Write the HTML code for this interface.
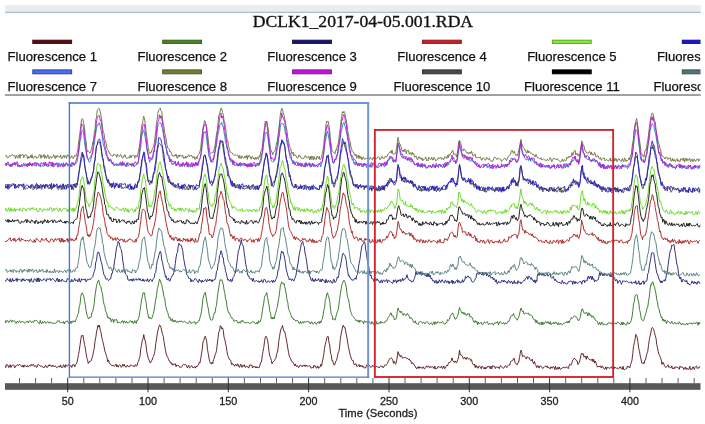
<!DOCTYPE html>
<html>
<head>
<meta charset="utf-8">
<title>DCLK1_2017-04-05.001.RDA</title>
<style>
html,body{margin:0;padding:0;background:#fff;}
body{width:705px;height:424px;overflow:hidden;position:relative;}
svg{position:absolute;left:0;top:0;display:block;}
.ttl{font-family:"Liberation Serif","Times New Roman",serif;font-size:16px;fill:#111;stroke:#111;stroke-width:0.3px;}
.leg text{font-family:"Liberation Sans",Arial,sans-serif;font-size:13.1px;fill:#111;stroke:#111;stroke-width:0.25px;}
.ax text{font-family:"Liberation Sans",Arial,sans-serif;font-size:10.8px;fill:#1c1c1c;stroke:#1c1c1c;stroke-width:0.28px;}
.tr polyline{fill:none;stroke-width:0.9;stroke-linejoin:miter;stroke-linecap:butt;}
</style>
</head>
<body>
<svg width="705" height="424" viewBox="0 0 705 424">
<defs><clipPath id="c"><rect x="5" y="0" width="695.5" height="424"/></clipPath></defs>
<rect x="0" y="0" width="705" height="424" fill="#ffffff"/>
<rect x="5" y="5.1" width="695.7" height="6.8" fill="#ececec"/>
<rect x="5" y="11.8" width="695.7" height="1.1" fill="#9fb4cc"/>
<text class="ttl" transform="translate(362.9,26.5) scale(1.103,1)" text-anchor="middle">DCLK1_2017-04-05.001.RDA</text>
<g class="leg" clip-path="url(#c)">
<rect x="32.8" y="40.2" width="38.8" height="3.2" fill="#5b0c12" stroke="#3a090c" stroke-width="1"/>
<text x="52.3" y="61.2" text-anchor="middle">Fluorescence 1</text>
<rect x="162.7" y="40.2" width="38.8" height="3.2" fill="#4d8420" stroke="#3a5f1c" stroke-width="1"/>
<text x="182.2" y="61.2" text-anchor="middle">Fluorescence 2</text>
<rect x="292.6" y="40.2" width="38.8" height="3.2" fill="#17176e" stroke="#101050" stroke-width="1"/>
<text x="312.1" y="61.2" text-anchor="middle">Fluorescence 3</text>
<rect x="422.5" y="40.2" width="38.8" height="3.2" fill="#cc2027" stroke="#8c1c20" stroke-width="1"/>
<text x="442.0" y="61.2" text-anchor="middle">Fluorescence 4</text>
<rect x="552.4" y="40.2" width="38.8" height="3.2" fill="#82f02a" stroke="#5aa628" stroke-width="1"/>
<text x="571.9" y="61.2" text-anchor="middle">Fluorescence 5</text>
<rect x="682.3" y="40.2" width="38.8" height="3.2" fill="#1c12d8" stroke="#14108c" stroke-width="1"/>
<text x="701.8" y="61.2" text-anchor="middle">Fluorescence 6</text>
<rect x="32.8" y="69.9" width="38.8" height="3.9" fill="#4a6ef2" stroke="#2c4290" stroke-width="1"/>
<text x="52.3" y="91.2" text-anchor="middle">Fluorescence 7</text>
<rect x="162.7" y="69.9" width="38.8" height="3.9" fill="#6f7d36" stroke="#4f5830" stroke-width="1"/>
<text x="182.2" y="91.2" text-anchor="middle">Fluorescence 8</text>
<rect x="292.6" y="69.9" width="38.8" height="3.9" fill="#c512dc" stroke="#80148c" stroke-width="1"/>
<text x="312.1" y="91.2" text-anchor="middle">Fluorescence 9</text>
<rect x="422.5" y="69.9" width="38.8" height="3.9" fill="#4a4a4a" stroke="#303030" stroke-width="1"/>
<text x="442.0" y="91.2" text-anchor="middle">Fluorescence 10</text>
<rect x="552.4" y="69.9" width="38.8" height="3.9" fill="#000000" stroke="#000000" stroke-width="1"/>
<text x="571.9" y="91.2" text-anchor="middle">Fluorescence 11</text>
<rect x="682.3" y="69.9" width="38.8" height="3.9" fill="#4f7574" stroke="#38504f" stroke-width="1"/>
<text x="701.8" y="91.2" text-anchor="middle">Fluorescence 12</text>
</g>
<rect x="5" y="94" width="695.7" height="0.9" fill="#a4a4a4"/><rect x="5" y="94.8" width="695.7" height="0.9" fill="#787878"/>
<g class="tr" clip-path="url(#c)">
<polyline points="5,365.6 5.75,367.6 6.5,364.4 7.25,365.0 8,365.2 8.75,367.7 9.5,367.0 10.25,364.6 11,367.5 11.75,365.7 12.5,365.7 13.25,364.7 14,365.7 14.75,367.9 15.5,365.9 16.25,365.7 17,365.6 17.75,364.4 18.5,365.5 19.25,364.7 20,364.6 20.75,365.3 21.5,365.8 22.25,367.0 23,365.1 23.75,367.3 24.5,365.1 25.25,365.8 26,365.9 26.75,366.9 27.5,365.4 28.25,366.9 29,366.5 29.75,365.4 30.5,366.2 31.25,364.3 32,365.6 32.75,364.4 33.5,364.6 34.25,366.3 35,366.5 35.75,365.5 36.5,367.6 37.25,366.8 38,364.3 38.75,364.6 39.5,365.3 40.25,366.3 41,365.7 41.75,366.4 42.5,366.3 43.25,367.7 44,366.7 44.75,367.3 45.5,365.3 46.25,366.2 47,367.7 47.75,366.8 48.5,364.9 49.25,366.0 50,364.6 50.75,365.5 51.5,366.6 52.25,365.1 53,366.6 53.75,365.5 54.5,366.5 55.25,366.0 56,366.4 56.75,367.8 57.5,367.2 58.25,366.3 59,366.0 59.75,367.3 60.5,364.9 61.25,367.3 62,367.1 62.75,367.5 63.5,364.7 64.25,365.6 65,367.5 65.75,364.7 66.5,365.8 67.25,366.4 68,365.2 68.75,364.7 69.5,365.3 70.25,365.9 71,365.6 71.75,367.4 72.5,364.8 73.25,365.0 74,364.4 74.75,366.7 75.5,364.7 76.25,364.0 77,362.2 77.75,358.6 78.5,354.6 79.25,350.5 80,345.3 80.75,339.8 81.5,335.4 82.25,336.1 83,335.3 83.75,339.9 84.5,344.3 85.25,347.9 86,352.9 86.75,357.6 87.5,359.7 88.25,363.5 89,362.1 89.75,361.1 90.5,361.2 91.25,360.7 92,358.0 92.75,355.6 93.5,351.2 94.25,348.5 95,341.0 95.75,337.8 96.5,332.1 97.25,329.0 98,325.1 98.75,327.1 99.5,325.3 100.25,330.1 101,332.2 101.75,337.2 102.5,340.6 103.25,343.1 104,346.6 104.75,350.9 105.5,352.8 106.25,355.2 107,357.6 107.75,361.7 108.5,359.9 109.25,362.8 110,364.1 110.75,364.5 111.5,365.1 112.25,366.1 113,365.0 113.75,365.5 114.5,366.4 115.25,365.3 116,364.0 116.75,366.8 117.5,365.2 118.25,367.2 119,365.5 119.75,364.7 120.5,365.5 121.25,367.4 122,366.4 122.75,364.4 123.5,366.2 124.25,364.2 125,366.5 125.75,367.0 126.5,367.0 127.25,365.0 128,366.1 128.75,366.7 129.5,366.9 130.25,365.2 131,365.2 131.75,365.2 132.5,365.9 133.25,365.8 134,366.9 134.75,365.7 135.5,364.6 136.25,366.4 137,365.5 137.75,362.4 138.5,361.5 139.25,358.5 140,356.4 140.75,348.6 141.5,345.3 142.25,340.6 143,338.9 143.75,334.6 144.5,338.9 145.25,341.0 146,344.9 146.75,351.8 147.5,354.9 148.25,358.2 149,360.0 149.75,361.9 150.5,363.0 151.25,360.9 152,360.4 152.75,357.7 153.5,356.4 154.25,354.1 155,350.6 155.75,343.6 156.5,339.0 157.25,334.0 158,330.1 158.75,327.3 159.5,325.0 160.25,325.6 161,327.7 161.75,331.0 162.5,334.4 163.25,336.4 164,341.4 164.75,346.4 165.5,350.2 166.25,353.9 167,356.1 167.75,357.3 168.5,359.2 169.25,361.2 170,361.3 170.75,363.2 171.5,362.7 172.25,365.2 173,363.7 173.75,364.8 174.5,364.2 175.25,363.6 176,366.7 176.75,365.0 177.5,365.5 178.25,365.5 179,365.9 179.75,367.4 180.5,367.0 181.25,367.5 182,366.5 182.75,364.9 183.5,364.3 184.25,364.9 185,364.2 185.75,364.8 186.5,365.2 187.25,367.8 188,366.5 188.75,365.3 189.5,368.1 190.25,367.4 191,366.4 191.75,365.5 192.5,367.5 193.25,367.5 194,367.6 194.75,366.4 195.5,368.2 196.25,366.2 197,366.9 197.75,365.3 198.5,365.0 199.25,362.2 200,362.9 200.75,358.5 201.5,353.9 202.25,349.3 203,342.0 203.75,340.5 204.5,337.6 205.25,336.2 206,338.7 206.75,341.8 207.5,349.4 208.25,353.8 209,358.1 209.75,361.6 210.5,363.4 211.25,364.0 212,362.3 212.75,363.7 213.5,359.5 214.25,358.2 215,355.0 215.75,353.3 216.5,350.7 217.25,344.0 218,337.9 218.75,332.1 219.5,331.0 220.25,325.8 221,326.1 221.75,329.0 222.5,327.8 223.25,330.4 224,337.1 224.75,339.4 225.5,343.0 226.25,346.5 227,351.9 227.75,355.5 228.5,357.4 229.25,359.1 230,360.1 230.75,360.4 231.5,364.5 232.25,363.3 233,364.8 233.75,364.6 234.5,366.2 235.25,364.7 236,364.5 236.75,366.1 237.5,363.8 238.25,364.6 239,367.1 239.75,367.2 240.5,364.1 241.25,365.0 242,367.4 242.75,365.4 243.5,366.1 244.25,364.7 245,367.3 245.75,367.2 246.5,366.0 247.25,366.6 248,367.0 248.75,368.1 249.5,365.1 250.25,364.7 251,365.8 251.75,364.9 252.5,368.0 253.25,366.6 254,366.9 254.75,366.2 255.5,368.0 256.25,366.6 257,368.0 257.75,366.9 258.5,367.9 259.25,367.5 260,365.0 260.75,362.3 261.5,362.0 262.25,355.5 263,351.5 263.75,347.5 264.5,341.8 265.25,337.2 266,336.2 266.75,337.8 267.5,339.8 268.25,344.7 269,351.6 269.75,356.0 270.5,357.6 271.25,360.3 272,363.7 272.75,362.0 273.5,361.5 274.25,360.8 275,359.2 275.75,358.5 276.5,355.0 277.25,352.4 278,349.0 278.75,341.5 279.5,336.7 280.25,332.1 281,328.9 281.75,327.5 282.5,325.5 283.25,329.0 284,331.4 284.75,331.5 285.5,335.2 286.25,339.1 287,343.1 287.75,347.9 288.5,352.2 289.25,356.1 290,357.7 290.75,358.9 291.5,361.2 292.25,361.4 293,362.9 293.75,363.6 294.5,365.8 295.25,363.9 296,366.0 296.75,366.4 297.5,365.6 298.25,367.3 299,367.4 299.75,365.3 300.5,365.0 301.25,365.9 302,366.8 302.75,365.3 303.5,365.4 304.25,366.4 305,364.8 305.75,366.5 306.5,365.1 307.25,366.2 308,366.5 308.75,365.7 309.5,366.0 310.25,366.1 311,368.2 311.75,367.8 312.5,367.4 313.25,368.1 314,365.2 314.75,366.4 315.5,366.0 316.25,368.1 317,368.0 317.75,365.9 318.5,368.2 319.25,367.8 320,367.3 320.75,364.4 321.5,366.2 322.25,362.5 323,358.5 323.75,354.6 324.5,348.4 325.25,344.6 326,341.6 326.75,338.0 327.5,336.5 328.25,336.6 329,342.9 329.75,345.0 330.5,353.2 331.25,354.7 332,360.8 332.75,360.5 333.5,364.0 334.25,365.2 335,364.1 335.75,361.3 336.5,360.3 337.25,357.2 338,353.3 338.75,351.7 339.5,347.8 340.25,339.7 341,334.9 341.75,331.0 342.5,327.0 343.25,325.3 344,327.3 344.75,327.1 345.5,330.2 346.25,334.2 347,338.1 347.75,343.1 348.5,347.3 349.25,350.9 350,354.1 350.75,356.9 351.5,359.1 352.25,360.6 353,360.3 353.75,363.4 354.5,364.9 355.25,363.9 356,363.6 356.75,366.4 357.5,366.3 358.25,365.5 359,364.4 359.75,367.0 360.5,365.3 361.25,366.5 362,365.3 362.75,367.2 363.5,366.5 364.25,368.1 365,367.6 365.75,367.9 366.5,365.1 367.25,365.0 368,366.6 368.75,365.4 369.5,365.2 370.25,366.6 371,367.6 371.75,366.6 372.5,365.3 373.25,366.5 374,365.7 374.75,368.5 375.5,367.4 376.25,366.6 377,366.2 377.75,367.2 378.5,367.0 379.25,367.9 380,366.9 380.75,365.8 381.5,366.3 382.25,366.1 383,367.8 383.75,367.2 384.5,365.5 385.25,364.7 386,365.5 386.75,364.3 387.5,363.4 388.25,361.3 389,359.9 389.75,358.6 390.5,358.4 391.25,357.8 392,358.5 392.75,359.9 393.5,363.3 394.25,361.3 395,363.5 395.75,364.2 396.5,361.0 397.25,357.0 398,351.6 398.75,354.5 399.5,354.4 400.25,356.9 401,355.4 401.75,356.4 402.5,358.3 403.25,357.7 404,357.9 404.75,357.4 405.5,357.3 406.25,358.4 407,358.2 407.75,358.5 408.5,359.5 409.25,359.0 410,360.7 410.75,360.6 411.5,363.7 412.25,362.9 413,363.1 413.75,363.9 414.5,365.8 415.25,366.1 416,368.2 416.75,368.7 417.5,367.1 418.25,368.4 419,366.4 419.75,368.1 420.5,367.4 421.25,367.3 422,368.5 422.75,367.1 423.5,366.9 424.25,368.9 425,368.5 425.75,367.6 426.5,365.8 427.25,367.1 428,366.9 428.75,365.8 429.5,367.8 430.25,367.6 431,366.4 431.75,367.4 432.5,366.6 433.25,367.0 434,368.7 434.75,366.0 435.5,369.0 436.25,368.6 437,368.7 437.75,366.7 438.5,366.9 439.25,367.0 440,367.2 440.75,367.5 441.5,366.0 442.25,368.5 443,368.1 443.75,365.9 444.5,368.6 445.25,368.3 446,366.8 446.75,365.1 447.5,366.0 448.25,363.7 449,362.1 449.75,362.7 450.5,361.8 451.25,360.7 452,357.9 452.75,360.5 453.5,361.8 454.25,362.5 455,360.9 455.75,362.2 456.5,363.0 457.25,361.0 458,359.2 458.75,356.1 459.5,350.2 460.25,354.8 461,354.5 461.75,355.9 462.5,356.3 463.25,358.8 464,358.6 464.75,357.2 465.5,359.0 466.25,359.5 467,357.3 467.75,358.5 468.5,359.0 469.25,358.6 470,358.7 470.75,360.6 471.5,359.6 472.25,362.7 473,364.3 473.75,365.2 474.5,364.1 475.25,367.6 476,365.3 476.75,367.3 477.5,366.8 478.25,368.3 479,365.8 479.75,366.5 480.5,367.0 481.25,368.8 482,366.0 482.75,367.2 483.5,367.7 484.25,369.0 485,367.1 485.75,369.1 486.5,367.3 487.25,367.5 488,366.1 488.75,367.0 489.5,366.5 490.25,368.8 491,366.2 491.75,368.8 492.5,365.7 493.25,366.2 494,365.9 494.75,366.9 495.5,368.5 496.25,366.7 497,367.6 497.75,367.1 498.5,367.0 499.25,368.7 500,366.2 500.75,365.7 501.5,367.0 502.25,367.5 503,368.0 503.75,368.3 504.5,366.8 505.25,365.6 506,366.3 506.75,367.7 507.5,366.1 508.25,365.5 509,364.6 509.75,365.2 510.5,361.7 511.25,361.1 512,361.0 512.75,360.3 513.5,358.4 514.25,358.3 515,362.7 515.75,363.1 516.5,364.4 517.25,364.8 518,362.7 518.75,362.2 519.5,357.5 520.25,353.3 521,350.2 521.75,352.4 522.5,356.8 523.25,356.5 524,355.6 524.75,356.7 525.5,357.3 526.25,359.0 527,356.6 527.75,357.3 528.5,357.7 529.25,357.8 530,359.8 530.75,360.7 531.5,360.6 532.25,359.1 533,362.4 533.75,363.8 534.5,361.5 535.25,364.4 536,365.6 536.75,367.6 537.5,365.7 538.25,365.8 539,368.1 539.75,366.2 540.5,366.0 541.25,366.3 542,367.5 542.75,368.6 543.5,367.2 544.25,367.2 545,366.4 545.75,365.8 546.5,367.2 547.25,365.9 548,368.1 548.75,367.2 549.5,368.4 550.25,368.9 551,366.7 551.75,368.0 552.5,368.1 553.25,366.4 554,367.4 554.75,369.4 555.5,366.3 556.25,369.3 557,369.4 557.75,367.3 558.5,369.2 559.25,366.9 560,369.2 560.75,369.3 561.5,368.3 562.25,368.2 563,367.2 563.75,367.5 564.5,367.4 565.25,368.1 566,367.1 566.75,366.7 567.5,367.8 568.25,368.7 569,366.1 569.75,364.2 570.5,364.8 571.25,364.8 572,362.6 572.75,360.1 573.5,359.4 574.25,358.2 575,359.1 575.75,359.4 576.5,360.8 577.25,361.0 578,364.7 578.75,363.4 579.5,362.1 580.25,358.9 581,354.9 581.75,353.1 582.5,354.3 583.25,353.7 584,357.2 584.75,356.1 585.5,356.4 586.25,359.3 587,355.9 587.75,358.0 588.5,358.7 589.25,359.2 590,360.2 590.75,359.8 591.5,360.3 592.25,358.9 593,361.8 593.75,359.4 594.5,363.1 595.25,361.0 596,362.8 596.75,365.6 597.5,367.2 598.25,366.3 599,367.0 599.75,366.0 600.5,365.9 601.25,368.0 602,366.1 602.75,366.5 603.5,368.4 604.25,369.1 605,369.1 605.75,366.9 606.5,369.5 607.25,367.1 608,367.5 608.75,367.9 609.5,368.1 610.25,368.3 611,367.1 611.75,366.8 612.5,369.1 613.25,367.0 614,368.8 614.75,366.9 615.5,367.8 616.25,368.2 617,368.3 617.75,368.2 618.5,368.9 619.25,368.3 620,366.7 620.75,368.2 621.5,367.8 622.25,369.4 623,366.3 623.75,369.6 624.5,369.7 625.25,369.5 626,368.6 626.75,368.5 627.5,365.9 628.25,367.1 629,366.6 629.75,367.9 630.5,364.8 631.25,362.7 632,360.1 632.75,353.5 633.5,346.8 634.25,342.8 635,339.8 635.75,334.4 636.5,335.8 637.25,337.5 638,342.6 638.75,348.5 639.5,351.5 640.25,356.0 641,359.0 641.75,363.1 642.5,363.2 643.25,362.5 644,363.8 644.75,360.4 645.5,360.0 646.25,356.3 647,353.2 647.75,351.3 648.5,345.6 649.25,339.8 650,336.6 650.75,333.1 651.5,328.6 652.25,327.5 653,328.2 653.75,329.8 654.5,332.7 655.25,335.9 656,338.2 656.75,344.6 657.5,347.7 658.25,351.8 659,354.6 659.75,355.7 660.5,357.8 661.25,360.1 662,364.4 662.75,362.1 663.5,362.9 664.25,365.3 665,366.4 665.75,367.6 666.5,366.8 667.25,365.9 668,364.9 668.75,367.3 669.5,367.0 670.25,367.7 671,367.9 671.75,365.9 672.5,368.7 673.25,368.0 674,369.0 674.75,367.1 675.5,367.8 676.25,366.6 677,367.6 677.75,367.2 678.5,368.2 679.25,369.3 680,366.2 680.75,367.3 681.5,367.2 682.25,367.0 683,367.5 683.75,369.6 684.5,368.2 685.25,367.0 686,369.4 686.75,367.9 687.5,369.3 688.25,369.3 689,369.2 689.75,366.2 690.5,369.7 691.25,369.1 692,369.6 692.75,366.8 693.5,367.0 694.25,369.4 695,367.6 695.75,366.6 696.5,365.8 697.25,368.5 698,367.6 698.75,368.2 699.5,366.6 700.25,367.5" stroke="#521519"/>
<polyline points="5,320.2 5.75,323.0 6.5,320.7 7.25,320.6 8,320.9 8.75,322.6 9.5,321.2 10.25,320.1 11,320.3 11.75,322.2 12.5,320.3 13.25,321.1 14,320.8 14.75,321.1 15.5,322.8 16.25,323.5 17,321.3 17.75,321.8 18.5,322.5 19.25,320.8 20,321.4 20.75,322.9 21.5,321.7 22.25,321.4 23,322.1 23.75,321.9 24.5,323.2 25.25,322.5 26,321.9 26.75,321.7 27.5,320.9 28.25,323.0 29,321.5 29.75,320.5 30.5,321.0 31.25,322.7 32,321.9 32.75,321.6 33.5,322.5 34.25,320.4 35,320.8 35.75,320.6 36.5,320.3 37.25,321.2 38,322.3 38.75,323.5 39.5,323.6 40.25,320.3 41,323.3 41.75,323.7 42.5,321.5 43.25,323.1 44,322.4 44.75,321.4 45.5,323.0 46.25,323.3 47,322.1 47.75,321.5 48.5,321.9 49.25,323.4 50,322.0 50.75,322.0 51.5,322.9 52.25,322.8 53,323.8 53.75,322.9 54.5,323.3 55.25,323.4 56,322.9 56.75,322.7 57.5,320.6 58.25,321.4 59,320.6 59.75,321.9 60.5,323.1 61.25,322.3 62,322.8 62.75,322.7 63.5,321.3 64.25,324.0 65,321.8 65.75,321.9 66.5,321.3 67.25,320.8 68,322.3 68.75,323.4 69.5,322.2 70.25,321.1 71,323.6 71.75,321.3 72.5,322.4 73.25,320.7 74,322.0 74.75,321.1 75.5,321.7 76.25,318.6 77,317.2 77.75,314.4 78.5,313.4 79.25,306.5 80,304.3 80.75,296.8 81.5,293.5 82.25,292.8 83,294.6 83.75,295.9 84.5,300.5 85.25,304.5 86,310.1 86.75,314.0 87.5,316.2 88.25,318.7 89,318.7 89.75,316.8 90.5,317.6 91.25,316.9 92,311.7 92.75,311.2 93.5,307.6 94.25,303.2 95,295.4 95.75,290.8 96.5,285.7 97.25,283.3 98,280.8 98.75,280.1 99.5,284.0 100.25,286.0 101,286.9 101.75,291.7 102.5,293.8 103.25,300.5 104,304.3 104.75,305.8 105.5,310.7 106.25,312.3 107,314.9 107.75,317.9 108.5,317.1 109.25,319.0 110,317.8 110.75,320.2 111.5,321.9 112.25,319.0 113,319.4 113.75,322.5 114.5,319.6 115.25,320.1 116,319.5 116.75,319.6 117.5,323.0 118.25,322.6 119,322.0 119.75,322.5 120.5,323.1 121.25,322.2 122,320.8 122.75,320.8 123.5,323.3 124.25,320.8 125,321.8 125.75,323.1 126.5,321.3 127.25,322.8 128,322.5 128.75,322.9 129.5,321.6 130.25,320.6 131,320.7 131.75,322.7 132.5,321.0 133.25,323.5 134,323.2 134.75,320.6 135.5,322.0 136.25,323.4 137,320.1 137.75,320.4 138.5,318.4 139.25,315.7 140,310.7 140.75,305.5 141.5,300.1 142.25,297.0 143,292.7 143.75,293.1 144.5,292.8 145.25,299.1 146,301.7 146.75,307.9 147.5,312.1 148.25,316.0 149,318.4 149.75,317.0 150.5,318.5 151.25,318.8 152,318.1 152.75,315.4 153.5,313.5 154.25,309.0 155,304.3 155.75,299.5 156.5,295.8 157.25,288.8 158,286.5 158.75,282.5 159.5,279.1 160.25,280.5 161,283.1 161.75,284.9 162.5,288.9 163.25,292.0 164,297.0 164.75,298.3 165.5,305.2 166.25,308.1 167,311.0 167.75,312.6 168.5,315.5 169.25,318.2 170,317.4 170.75,320.7 171.5,320.5 172.25,318.7 173,321.8 173.75,320.3 174.5,322.1 175.25,320.2 176,321.7 176.75,322.7 177.5,321.1 178.25,321.7 179,322.2 179.75,320.9 180.5,322.0 181.25,320.7 182,321.6 182.75,322.0 183.5,321.8 184.25,321.2 185,321.5 185.75,322.7 186.5,322.9 187.25,322.8 188,323.6 188.75,322.4 189.5,321.2 190.25,321.5 191,323.5 191.75,323.0 192.5,322.6 193.25,322.3 194,321.9 194.75,321.7 195.5,324.3 196.25,322.5 197,323.0 197.75,322.2 198.5,320.7 199.25,320.8 200,317.6 200.75,315.1 201.5,311.4 202.25,305.6 203,298.5 203.75,295.6 204.5,293.5 205.25,292.2 206,296.6 206.75,301.1 207.5,305.5 208.25,308.4 209,313.9 209.75,316.3 210.5,319.7 211.25,320.3 212,319.8 212.75,319.5 213.5,315.7 214.25,312.9 215,313.1 215.75,307.8 216.5,305.4 217.25,297.8 218,292.7 218.75,287.8 219.5,282.4 220.25,279.5 221,280.5 221.75,279.7 222.5,282.0 223.25,284.5 224,289.9 224.75,292.5 225.5,298.9 226.25,300.8 227,306.8 227.75,310.0 228.5,312.7 229.25,312.7 230,314.4 230.75,316.6 231.5,318.2 232.25,317.9 233,318.6 233.75,321.2 234.5,321.0 235.25,320.6 236,320.6 236.75,320.5 237.5,322.6 238.25,323.3 239,321.8 239.75,322.8 240.5,323.1 241.25,320.6 242,321.8 242.75,320.3 243.5,321.7 244.25,322.6 245,322.3 245.75,322.9 246.5,323.1 247.25,322.1 248,322.9 248.75,322.4 249.5,323.6 250.25,323.6 251,322.5 251.75,322.6 252.5,321.4 253.25,322.1 254,321.9 254.75,322.9 255.5,323.9 256.25,323.7 257,322.2 257.75,324.1 258.5,320.7 259.25,322.3 260,322.0 260.75,319.8 261.5,317.6 262.25,311.9 263,306.9 263.75,302.9 264.5,297.2 265.25,295.4 266,294.8 266.75,292.4 267.5,297.6 268.25,301.0 269,305.1 269.75,311.1 270.5,313.1 271.25,318.8 272,317.2 272.75,319.1 273.5,317.3 274.25,318.9 275,314.6 275.75,312.8 276.5,309.5 277.25,307.6 278,301.9 278.75,298.2 279.5,293.0 280.25,286.8 281,283.9 281.75,281.9 282.5,282.6 283.25,284.2 284,283.3 284.75,286.8 285.5,290.0 286.25,294.1 287,299.6 287.75,302.2 288.5,308.7 289.25,310.5 290,312.3 290.75,314.4 291.5,317.0 292.25,317.9 293,317.7 293.75,319.9 294.5,319.6 295.25,320.0 296,321.3 296.75,320.4 297.5,320.2 298.25,321.7 299,323.3 299.75,323.3 300.5,321.3 301.25,323.6 302,322.8 302.75,321.5 303.5,323.1 304.25,321.6 305,322.1 305.75,321.8 306.5,321.8 307.25,321.3 308,321.6 308.75,321.9 309.5,321.9 310.25,324.0 311,322.9 311.75,321.6 312.5,323.9 313.25,324.1 314,323.4 314.75,322.0 315.5,322.6 316.25,324.4 317,322.8 317.75,322.4 318.5,321.6 319.25,323.6 320,321.2 320.75,323.0 321.5,319.9 322.25,319.3 323,316.0 323.75,310.5 324.5,307.9 325.25,300.5 326,298.4 326.75,294.1 327.5,292.7 328.25,295.7 329,297.6 329.75,301.5 330.5,309.3 331.25,314.4 332,315.1 332.75,319.6 333.5,318.6 334.25,319.2 335,320.2 335.75,317.6 336.5,314.2 337.25,311.9 338,310.7 338.75,305.9 339.5,300.4 340.25,294.2 341,289.8 341.75,285.2 342.5,283.6 343.25,281.0 344,280.2 344.75,281.5 345.5,283.8 346.25,287.0 347,293.6 347.75,297.7 348.5,299.5 349.25,303.8 350,308.7 350.75,311.6 351.5,313.6 352.25,315.6 353,316.6 353.75,317.2 354.5,318.3 355.25,319.4 356,320.9 356.75,319.8 357.5,320.9 358.25,322.1 359,320.0 359.75,322.4 360.5,320.6 361.25,320.8 362,320.9 362.75,321.8 363.5,323.8 364.25,320.8 365,321.1 365.75,322.6 366.5,321.7 367.25,321.1 368,324.2 368.75,321.0 369.5,322.0 370.25,323.3 371,324.2 371.75,321.5 372.5,322.0 373.25,324.1 374,324.5 374.75,321.2 375.5,321.5 376.25,321.3 377,324.3 377.75,323.0 378.5,323.7 379.25,322.4 380,323.5 380.75,321.2 381.5,322.9 382.25,322.4 383,322.6 383.75,323.1 384.5,322.9 385.25,321.1 386,321.5 386.75,320.8 387.5,319.1 388.25,317.4 389,316.4 389.75,315.3 390.5,313.0 391.25,313.0 392,316.1 392.75,315.8 393.5,316.2 394.25,319.8 395,319.1 395.75,319.3 396.5,317.7 397.25,311.7 398,308.0 398.75,310.3 399.5,310.9 400.25,312.7 401,311.0 401.75,312.5 402.5,314.5 403.25,315.3 404,313.4 404.75,314.3 405.5,315.6 406.25,315.4 407,313.5 407.75,313.7 408.5,315.2 409.25,316.4 410,318.5 410.75,317.3 411.5,318.5 412.25,318.8 413,320.8 413.75,322.4 414.5,322.8 415.25,320.8 416,323.4 416.75,323.6 417.5,324.2 418.25,324.6 419,322.3 419.75,321.5 420.5,321.5 421.25,321.7 422,322.9 422.75,323.3 423.5,322.0 424.25,322.6 425,323.9 425.75,322.7 426.5,321.9 427.25,321.8 428,322.4 428.75,323.9 429.5,324.3 430.25,323.7 431,322.7 431.75,323.2 432.5,324.8 433.25,323.3 434,321.7 434.75,324.6 435.5,321.8 436.25,323.5 437,323.3 437.75,321.5 438.5,322.4 439.25,322.9 440,322.3 440.75,322.7 441.5,322.9 442.25,321.3 443,322.3 443.75,323.0 444.5,324.2 445.25,324.0 446,322.6 446.75,322.8 447.5,319.6 448.25,320.7 449,319.6 449.75,318.0 450.5,315.4 451.25,314.9 452,313.3 452.75,313.1 453.5,315.4 454.25,316.8 455,319.0 455.75,319.2 456.5,317.9 457.25,316.6 458,314.9 458.75,310.6 459.5,307.4 460.25,309.8 461,311.1 461.75,312.9 462.5,312.0 463.25,314.1 464,312.4 464.75,314.4 465.5,313.6 466.25,315.5 467,315.2 467.75,313.5 468.5,314.5 469.25,313.6 470,317.2 470.75,316.5 471.5,316.8 472.25,318.0 473,319.8 473.75,322.1 474.5,322.5 475.25,320.6 476,322.3 476.75,321.3 477.5,324.6 478.25,321.9 479,324.0 479.75,323.4 480.5,323.0 481.25,322.2 482,324.5 482.75,324.5 483.5,323.9 484.25,321.9 485,322.6 485.75,323.0 486.5,322.3 487.25,321.7 488,323.4 488.75,324.8 489.5,323.3 490.25,324.0 491,323.2 491.75,323.9 492.5,323.3 493.25,325.1 494,324.6 494.75,322.8 495.5,323.0 496.25,323.2 497,321.8 497.75,321.8 498.5,324.8 499.25,323.0 500,321.4 500.75,322.0 501.5,322.7 502.25,324.0 503,322.9 503.75,322.5 504.5,324.4 505.25,323.0 506,323.1 506.75,323.8 507.5,322.0 508.25,321.2 509,321.5 509.75,319.2 510.5,316.8 511.25,315.7 512,315.5 512.75,315.4 513.5,313.4 514.25,316.2 515,317.2 515.75,318.4 516.5,318.8 517.25,320.2 518,318.5 518.75,317.1 519.5,313.9 520.25,310.8 521,308.0 521.75,310.2 522.5,311.7 523.25,311.0 524,314.3 524.75,313.6 525.5,313.0 526.25,313.4 527,313.2 527.75,313.9 528.5,312.9 529.25,315.2 530,314.8 530.75,315.0 531.5,315.5 532.25,315.9 533,318.6 533.75,319.1 534.5,320.4 535.25,319.6 536,322.9 536.75,320.4 537.5,322.1 538.25,324.0 539,322.7 539.75,324.6 540.5,323.7 541.25,322.1 542,325.0 542.75,321.9 543.5,324.4 544.25,323.9 545,322.2 545.75,321.6 546.5,322.9 547.25,323.0 548,321.5 548.75,323.4 549.5,324.2 550.25,321.6 551,324.7 551.75,323.4 552.5,323.2 553.25,323.8 554,322.2 554.75,323.8 555.5,322.1 556.25,322.6 557,322.9 557.75,324.9 558.5,322.6 559.25,324.3 560,324.7 560.75,323.2 561.5,324.2 562.25,325.0 563,324.3 563.75,323.1 564.5,323.3 565.25,322.5 566,322.8 566.75,321.5 567.5,322.8 568.25,321.0 569,323.0 569.75,320.6 570.5,319.8 571.25,317.6 572,318.6 572.75,317.8 573.5,316.7 574.25,315.7 575,316.5 575.75,316.8 576.5,317.1 577.25,318.7 578,320.1 578.75,320.9 579.5,318.6 580.25,317.7 581,312.6 581.75,309.3 582.5,308.7 583.25,311.1 584,313.0 584.75,313.3 585.5,313.4 586.25,312.3 587,312.5 587.75,316.0 588.5,313.0 589.25,313.0 590,315.5 590.75,314.6 591.5,317.0 592.25,316.9 593,315.8 593.75,317.9 594.5,318.1 595.25,320.1 596,320.3 596.75,321.3 597.5,321.5 598.25,324.4 599,324.3 599.75,322.2 600.5,325.1 601.25,324.2 602,322.1 602.75,323.5 603.5,325.2 604.25,324.2 605,323.8 605.75,324.7 606.5,324.8 607.25,324.5 608,322.9 608.75,322.8 609.5,322.7 610.25,323.6 611,322.6 611.75,323.8 612.5,324.9 613.25,322.5 614,323.2 614.75,323.5 615.5,323.0 616.25,324.2 617,322.6 617.75,321.9 618.5,322.9 619.25,323.5 620,323.7 620.75,324.8 621.5,322.3 622.25,324.9 623,322.1 623.75,324.3 624.5,323.2 625.25,324.3 626,325.3 626.75,324.3 627.5,321.9 628.25,323.5 629,324.2 629.75,322.8 630.5,322.4 631.25,320.2 632,317.1 632.75,311.6 633.5,304.1 634.25,301.9 635,296.2 635.75,294.9 636.5,294.3 637.25,295.0 638,300.1 638.75,302.6 639.5,309.3 640.25,312.3 641,317.3 641.75,319.4 642.5,320.4 643.25,320.8 644,319.5 644.75,316.5 645.5,314.5 646.25,311.9 647,308.3 647.75,307.0 648.5,301.3 649.25,297.0 650,290.2 650.75,284.4 651.5,284.9 652.25,282.0 653,281.8 653.75,285.4 654.5,287.1 655.25,290.5 656,293.8 656.75,299.9 657.5,301.9 658.25,307.9 659,308.6 659.75,312.8 660.5,314.5 661.25,317.6 662,316.9 662.75,320.8 663.5,319.3 664.25,321.4 665,319.8 665.75,321.1 666.5,323.6 667.25,320.8 668,321.1 668.75,321.7 669.5,322.5 670.25,323.6 671,323.2 671.75,321.3 672.5,323.2 673.25,324.0 674,323.6 674.75,322.1 675.5,322.8 676.25,324.0 677,323.6 677.75,323.2 678.5,323.9 679.25,321.8 680,323.1 680.75,323.6 681.5,325.1 682.25,323.3 683,324.4 683.75,323.7 684.5,324.6 685.25,324.7 686,324.4 686.75,323.0 687.5,324.9 688.25,323.8 689,323.8 689.75,323.2 690.5,323.3 691.25,322.8 692,324.3 692.75,323.4 693.5,322.7 694.25,323.8 695,322.9 695.75,323.5 696.5,322.2 697.25,322.5 698,325.3 698.75,322.2 699.5,324.1 700.25,322.1" stroke="#2f7020"/>
<polyline points="5,280.8 5.75,281.4 6.5,279.5 7.25,278.4 8,280.1 8.75,280.2 9.5,281.5 10.25,278.5 11,282.1 11.75,280.9 12.5,278.4 13.25,281.4 14,279.9 14.75,280.8 15.5,279.9 16.25,278.4 17,281.5 17.75,278.5 18.5,279.2 19.25,280.0 20,279.3 20.75,280.2 21.5,281.7 22.25,278.6 23,280.5 23.75,278.8 24.5,281.0 25.25,280.9 26,279.5 26.75,279.5 27.5,279.7 28.25,280.7 29,279.1 29.75,282.4 30.5,280.2 31.25,278.5 32,281.4 32.75,282.2 33.5,282.0 34.25,279.1 35,278.8 35.75,280.4 36.5,281.7 37.25,278.0 38,281.8 38.75,277.9 39.5,281.7 40.25,279.2 41,279.6 41.75,280.8 42.5,280.2 43.25,280.2 44,278.6 44.75,279.4 45.5,280.4 46.25,281.4 47,278.5 47.75,279.5 48.5,279.2 49.25,279.4 50,278.3 50.75,280.6 51.5,279.7 52.25,278.5 53,279.0 53.75,279.6 54.5,280.3 55.25,281.5 56,281.2 56.75,278.5 57.5,278.3 58.25,282.0 59,279.0 59.75,281.5 60.5,280.6 61.25,281.5 62,279.1 62.75,280.4 63.5,281.0 64.25,281.2 65,281.6 65.75,281.8 66.5,281.9 67.25,278.6 68,279.1 68.75,279.3 69.5,280.0 70.25,281.6 71,282.1 71.75,279.3 72.5,281.4 73.25,281.7 74,280.1 74.75,278.4 75.5,280.8 76.25,280.6 77,279.7 77.75,281.9 78.5,280.5 79.25,278.4 80,282.1 80.75,281.8 81.5,278.7 82.25,279.9 83,279.3 83.75,279.5 84.5,279.9 85.25,278.8 86,281.9 86.75,281.1 87.5,279.3 88.25,279.8 89,279.1 89.75,279.3 90.5,279.5 91.25,278.3 92,277.5 92.75,276.6 93.5,273.7 94.25,271.4 95,269.3 95.75,262.1 96.5,260.6 97.25,253.9 98,252.0 98.75,252.1 99.5,254.8 100.25,257.8 101,261.3 101.75,263.3 102.5,267.9 103.25,271.6 104,275.1 104.75,275.5 105.5,278.3 106.25,279.4 107,278.5 107.75,279.6 108.5,280.7 109.25,279.9 110,278.8 110.75,278.8 111.5,273.6 112.25,273.6 113,269.8 113.75,267.9 114.5,261.1 115.25,257.6 116,251.3 116.75,246.7 117.5,244.9 118.25,241.2 119,242.5 119.75,245.4 120.5,248.6 121.25,249.5 122,253.8 122.75,260.4 123.5,265.5 124.25,270.3 125,272.3 125.75,274.4 126.5,275.1 127.25,275.9 128,280.0 128.75,280.2 129.5,280.6 130.25,279.1 131,280.6 131.75,279.2 132.5,281.2 133.25,278.6 134,280.7 134.75,279.5 135.5,279.2 136.25,278.6 137,280.3 137.75,279.3 138.5,278.5 139.25,280.2 140,278.5 140.75,280.4 141.5,280.1 142.25,281.1 143,278.8 143.75,281.1 144.5,281.4 145.25,279.7 146,280.5 146.75,281.1 147.5,278.6 148.25,281.6 149,281.7 149.75,280.0 150.5,279.0 151.25,280.5 152,281.6 152.75,279.9 153.5,278.4 154.25,277.6 155,273.3 155.75,272.5 156.5,265.6 157.25,260.5 158,259.1 158.75,255.5 159.5,253.1 160.25,251.3 161,253.3 161.75,260.0 162.5,262.2 163.25,266.7 164,269.8 164.75,273.3 165.5,277.3 166.25,276.2 167,279.8 167.75,279.6 168.5,278.2 169.25,281.0 170,281.0 170.75,278.4 171.5,277.2 172.25,275.4 173,275.3 173.75,272.5 174.5,270.0 175.25,263.6 176,258.0 176.75,253.5 177.5,252.4 178.25,246.0 179,243.3 179.75,244.9 180.5,245.1 181.25,245.3 182,247.9 182.75,250.8 183.5,257.6 184.25,261.6 185,266.1 185.75,268.5 186.5,273.5 187.25,275.5 188,276.2 188.75,278.3 189.5,278.5 190.25,278.3 191,282.0 191.75,279.6 192.5,281.2 193.25,281.3 194,280.6 194.75,278.7 195.5,278.8 196.25,279.3 197,280.9 197.75,282.1 198.5,282.5 199.25,279.2 200,281.0 200.75,280.8 201.5,282.6 202.25,280.0 203,282.0 203.75,281.3 204.5,280.8 205.25,279.5 206,280.2 206.75,281.9 207.5,279.3 208.25,279.8 209,281.0 209.75,279.0 210.5,280.3 211.25,279.8 212,281.9 212.75,279.7 213.5,280.3 214.25,279.7 215,279.7 215.75,277.2 216.5,271.3 217.25,270.7 218,264.0 218.75,262.5 219.5,255.6 220.25,254.3 221,250.7 221.75,252.2 222.5,257.1 223.25,257.4 224,264.3 224.75,266.3 225.5,270.7 226.25,273.5 227,276.7 227.75,280.1 228.5,279.5 229.25,281.0 230,281.2 230.75,279.1 231.5,281.9 232.25,281.2 233,277.5 233.75,276.6 234.5,274.3 235.25,273.1 236,269.2 236.75,263.9 237.5,257.6 238.25,251.4 239,249.7 239.75,246.0 240.5,244.0 241.25,239.7 242,243.8 242.75,245.3 243.5,247.1 244.25,253.5 245,258.2 245.75,264.7 246.5,267.4 247.25,272.8 248,275.9 248.75,275.8 249.5,278.3 250.25,279.0 251,278.6 251.75,278.8 252.5,281.3 253.25,278.3 254,281.2 254.75,281.7 255.5,281.2 256.25,280.4 257,281.4 257.75,281.1 258.5,280.9 259.25,282.6 260,281.0 260.75,281.9 261.5,279.7 262.25,281.9 263,282.7 263.75,279.5 264.5,279.5 265.25,279.8 266,282.1 266.75,282.8 267.5,282.0 268.25,280.6 269,281.7 269.75,282.2 270.5,281.8 271.25,280.8 272,280.4 272.75,282.7 273.5,280.2 274.25,281.6 275,281.8 275.75,279.5 276.5,278.3 277.25,275.7 278,269.7 278.75,269.6 279.5,261.9 280.25,259.2 281,253.5 281.75,251.1 282.5,252.9 283.25,252.2 284,255.4 284.75,258.8 285.5,263.9 286.25,269.8 287,272.2 287.75,275.5 288.5,277.1 289.25,279.8 290,278.7 290.75,279.0 291.5,280.6 292.25,279.0 293,279.7 293.75,281.1 294.5,279.0 295.25,277.3 296,275.1 296.75,270.0 297.5,266.0 298.25,261.9 299,255.9 299.75,251.8 300.5,248.3 301.25,244.3 302,242.7 302.75,241.4 303.5,245.5 304.25,246.4 305,253.0 305.75,256.3 306.5,260.2 307.25,266.3 308,271.0 308.75,271.2 309.5,276.1 310.25,276.9 311,280.0 311.75,280.8 312.5,278.1 313.25,281.5 314,279.7 314.75,281.4 315.5,278.7 316.25,280.8 317,280.1 317.75,280.4 318.5,278.5 319.25,280.3 320,281.7 320.75,279.4 321.5,282.0 322.25,278.9 323,280.5 323.75,280.2 324.5,281.0 325.25,283.1 326,279.3 326.75,282.3 327.5,282.5 328.25,280.3 329,281.4 329.75,282.3 330.5,280.4 331.25,281.7 332,283.3 332.75,283.0 333.5,279.3 334.25,279.6 335,282.6 335.75,281.6 336.5,280.4 337.25,276.9 338,277.9 338.75,275.7 339.5,268.9 340.25,267.5 341,262.9 341.75,259.1 342.5,254.1 343.25,253.2 344,254.3 344.75,255.4 345.5,257.1 346.25,260.7 347,267.2 347.75,271.3 348.5,276.0 349.25,275.4 350,278.0 350.75,278.4 351.5,279.9 352.25,279.5 353,280.6 353.75,279.4 354.5,279.0 355.25,277.9 356,279.4 356.75,275.3 357.5,274.5 358.25,269.0 359,263.8 359.75,260.5 360.5,255.1 361.25,249.4 362,245.9 362.75,244.5 363.5,243.6 364.25,241.6 365,243.3 365.75,250.5 366.5,253.6 367.25,259.8 368,264.2 368.75,266.6 369.5,272.7 370.25,276.0 371,275.0 371.75,278.7 372.5,278.7 373.25,279.1 374,281.7 374.75,278.5 375.5,280.2 376.25,280.7 377,278.7 377.75,280.4 378.5,280.1 379.25,282.1 380,283.0 380.75,280.7 381.5,280.0 382.25,283.0 383,280.8 383.75,279.8 384.5,281.5 385.25,281.1 386,280.8 386.75,279.4 387.5,282.8 388.25,280.2 389,280.8 389.75,280.9 390.5,281.6 391.25,282.4 392,282.8 392.75,283.5 393.5,279.9 394.25,282.0 395,280.4 395.75,279.8 396.5,283.1 397.25,280.5 398,281.8 398.75,279.8 399.5,280.7 400.25,279.3 401,281.8 401.75,280.7 402.5,278.2 403.25,280.7 404,279.0 404.75,279.0 405.5,278.8 406.25,277.3 407,274.7 407.75,278.0 408.5,278.9 409.25,280.2 410,280.6 410.75,280.3 411.5,282.2 412.25,281.5 413,281.8 413.75,279.8 414.5,278.4 415.25,275.3 416,271.5 416.75,274.4 417.5,274.6 418.25,272.3 419,271.9 419.75,274.1 420.5,271.7 421.25,275.1 422,275.1 422.75,274.1 423.5,272.9 424.25,273.7 425,275.6 425.75,274.9 426.5,276.6 427.25,273.5 428,276.9 428.75,273.7 429.5,276.7 430.25,275.3 431,278.9 431.75,278.0 432.5,280.8 433.25,281.0 434,280.4 434.75,283.1 435.5,280.8 436.25,280.3 437,283.6 437.75,281.6 438.5,283.0 439.25,279.8 440,281.1 440.75,282.6 441.5,280.2 442.25,279.8 443,281.5 443.75,282.6 444.5,282.8 445.25,280.1 446,280.8 446.75,282.7 447.5,281.0 448.25,281.0 449,283.8 449.75,281.4 450.5,282.3 451.25,282.7 452,280.0 452.75,283.7 453.5,280.9 454.25,282.9 455,283.4 455.75,281.6 456.5,280.4 457.25,279.8 458,282.7 458.75,280.4 459.5,281.1 460.25,283.2 461,281.9 461.75,282.3 462.5,279.6 463.25,282.3 464,280.5 464.75,280.2 465.5,276.4 466.25,278.0 467,277.5 467.75,275.9 468.5,276.3 469.25,277.9 470,277.2 470.75,278.5 471.5,281.3 472.25,282.0 473,281.8 473.75,281.7 474.5,280.6 475.25,278.8 476,277.7 476.75,273.4 477.5,273.3 478.25,272.6 479,272.0 479.75,274.2 480.5,273.3 481.25,273.9 482,275.1 482.75,272.3 483.5,275.3 484.25,274.6 485,273.6 485.75,272.7 486.5,275.9 487.25,273.7 488,275.1 488.75,276.7 489.5,274.8 490.25,276.2 491,278.2 491.75,277.3 492.5,277.2 493.25,279.8 494,278.2 494.75,279.5 495.5,281.9 496.25,279.7 497,283.5 497.75,283.6 498.5,281.3 499.25,281.7 500,282.8 500.75,282.7 501.5,280.5 502.25,281.4 503,280.2 503.75,282.1 504.5,280.4 505.25,281.7 506,281.4 506.75,283.2 507.5,283.4 508.25,280.6 509,280.8 509.75,282.6 510.5,283.1 511.25,281.1 512,281.7 512.75,284.1 513.5,282.7 514.25,280.6 515,283.5 515.75,282.3 516.5,283.3 517.25,284.0 518,280.7 518.75,282.6 519.5,282.2 520.25,282.0 521,283.9 521.75,282.4 522.5,282.1 523.25,281.4 524,280.2 524.75,280.5 525.5,278.4 526.25,277.7 527,276.5 527.75,279.4 528.5,276.3 529.25,276.2 530,277.7 530.75,279.3 531.5,277.6 532.25,280.1 533,280.1 533.75,282.0 534.5,279.8 535.25,283.1 536,280.1 536.75,281.6 537.5,274.3 538.25,273.8 539,275.5 539.75,273.4 540.5,273.6 541.25,273.9 542,275.4 542.75,273.4 543.5,273.3 544.25,276.1 545,275.2 545.75,275.3 546.5,274.7 547.25,273.3 548,276.3 548.75,275.2 549.5,274.5 550.25,274.0 551,277.4 551.75,278.3 552.5,277.5 553.25,276.4 554,278.8 554.75,280.6 555.5,279.2 556.25,281.1 557,281.0 557.75,282.1 558.5,282.5 559.25,282.0 560,283.1 560.75,283.1 561.5,283.8 562.25,280.4 563,282.2 563.75,283.5 564.5,282.1 565.25,283.0 566,284.0 566.75,284.0 567.5,283.8 568.25,281.7 569,282.0 569.75,281.2 570.5,281.0 571.25,281.3 572,281.2 572.75,284.4 573.5,281.0 574.25,281.3 575,283.9 575.75,281.6 576.5,282.8 577.25,282.9 578,283.5 578.75,282.3 579.5,281.6 580.25,281.6 581,281.6 581.75,284.2 582.5,280.9 583.25,280.9 584,279.9 584.75,282.7 585.5,280.9 586.25,280.4 587,280.9 587.75,277.0 588.5,276.0 589.25,279.0 590,277.1 590.75,276.0 591.5,279.5 592.25,276.2 593,279.5 593.75,278.4 594.5,282.0 595.25,280.4 596,280.8 596.75,280.7 597.5,280.0 598.25,279.7 599,276.1 599.75,272.5 600.5,275.4 601.25,272.9 602,272.8 602.75,275.8 603.5,274.0 604.25,275.3 605,275.1 605.75,273.6 606.5,275.5 607.25,275.6 608,274.4 608.75,273.8 609.5,274.9 610.25,276.8 611,274.3 611.75,276.8 612.5,276.0 613.25,276.4 614,277.2 614.75,278.5 615.5,281.0 616.25,279.7 617,279.8 617.75,283.4 618.5,282.3 619.25,280.5 620,280.5 620.75,282.5 621.5,284.4 622.25,282.2 623,280.6 623.75,281.5 624.5,281.1 625.25,281.7 626,281.3 626.75,280.8 627.5,281.8 628.25,282.5 629,282.2 629.75,282.5 630.5,282.5 631.25,281.7 632,283.7 632.75,282.7 633.5,282.4 634.25,282.1 635,283.3 635.75,280.7 636.5,284.3 637.25,283.4 638,283.5 638.75,280.8 639.5,284.5 640.25,283.2 641,284.7 641.75,282.5 642.5,282.0 643.25,280.8 644,284.3 644.75,281.8 645.5,281.3 646.25,281.5 647,280.1 647.75,273.8 648.5,272.6 649.25,266.9 650,262.7 650.75,258.5 651.5,253.1 652.25,253.0 653,252.4 653.75,253.6 654.5,258.2 655.25,263.6 656,268.9 656.75,273.0 657.5,274.0 658.25,276.2 659,279.4 659.75,279.8 660.5,282.8 661.25,280.8 662,282.9 662.75,281.1 663.5,280.8 664.25,279.7 665,281.2 665.75,278.8 666.5,274.1 667.25,272.6 668,265.7 668.75,260.1 669.5,255.0 670.25,250.3 671,250.0 671.75,245.1 672.5,245.7 673.25,244.9 674,244.3 674.75,250.3 675.5,254.5 676.25,260.3 677,264.8 677.75,266.9 678.5,273.8 679.25,277.0 680,278.8 680.75,277.2 681.5,282.0 682.25,281.7 683,279.2 683.75,280.3 684.5,281.0 685.25,280.5 686,282.0 686.75,280.4 687.5,283.9 688.25,283.0 689,284.5 689.75,284.7 690.5,284.3 691.25,283.6 692,280.9 692.75,282.6 693.5,283.7 694.25,281.5 695,283.3 695.75,282.0 696.5,284.2 697.25,284.0 698,281.1 698.75,282.5 699.5,282.4 700.25,284.2" stroke="#1c1c70"/>
<polyline points="5,241.0 5.75,242.0 6.5,241.1 7.25,241.0 8,239.8 8.75,239.5 9.5,238.1 10.25,237.8 11,241.2 11.75,240.6 12.5,239.5 13.25,238.5 14,241.0 14.75,238.1 15.5,241.5 16.25,241.0 17,240.1 17.75,239.0 18.5,239.4 19.25,237.8 20,241.5 20.75,240.9 21.5,238.2 22.25,240.1 23,239.3 23.75,240.2 24.5,240.5 25.25,240.0 26,241.4 26.75,240.5 27.5,240.5 28.25,241.0 29,241.4 29.75,239.8 30.5,239.5 31.25,240.7 32,241.7 32.75,241.9 33.5,242.4 34.25,239.7 35,242.4 35.75,240.6 36.5,238.1 37.25,239.3 38,240.0 38.75,240.5 39.5,241.4 40.25,242.2 41,240.9 41.75,238.4 42.5,240.1 43.25,239.7 44,240.3 44.75,240.2 45.5,239.5 46.25,238.0 47,241.1 47.75,240.4 48.5,242.1 49.25,242.1 50,241.8 50.75,239.2 51.5,238.9 52.25,238.9 53,240.2 53.75,241.9 54.5,239.8 55.25,238.5 56,240.3 56.75,240.1 57.5,238.8 58.25,239.5 59,238.2 59.75,241.8 60.5,242.2 61.25,238.2 62,242.0 62.75,238.6 63.5,242.3 64.25,240.0 65,241.8 65.75,240.4 66.5,240.0 67.25,238.4 68,242.2 68.75,239.3 69.5,241.8 70.25,238.9 71,238.4 71.75,240.7 72.5,238.8 73.25,240.5 74,240.4 74.75,240.8 75.5,238.2 76.25,239.6 77,234.8 77.75,235.1 78.5,229.4 79.25,224.8 80,220.5 80.75,213.3 81.5,208.4 82.25,207.5 83,206.2 83.75,212.6 84.5,216.1 85.25,222.5 86,225.2 86.75,230.3 87.5,235.8 88.25,234.6 89,237.0 89.75,234.6 90.5,235.5 91.25,231.8 92,230.3 92.75,226.9 93.5,222.4 94.25,217.2 95,209.3 95.75,206.3 96.5,199.0 97.25,196.2 98,192.1 98.75,192.5 99.5,193.6 100.25,196.4 101,198.4 101.75,202.7 102.5,207.6 103.25,215.2 104,217.1 104.75,220.7 105.5,227.0 106.25,226.9 107,233.3 107.75,234.2 108.5,236.3 109.25,235.9 110,236.1 110.75,238.6 111.5,237.4 112.25,237.8 113,240.4 113.75,238.7 114.5,239.4 115.25,237.5 116,240.5 116.75,239.4 117.5,237.7 118.25,239.6 119,239.5 119.75,241.0 120.5,239.1 121.25,239.5 122,238.9 122.75,240.3 123.5,242.0 124.25,239.2 125,241.9 125.75,242.3 126.5,241.0 127.25,241.7 128,239.7 128.75,240.3 129.5,238.7 130.25,239.3 131,239.2 131.75,240.3 132.5,240.4 133.25,242.1 134,241.3 134.75,242.4 135.5,239.4 136.25,241.7 137,238.1 137.75,237.7 138.5,236.8 139.25,232.8 140,226.6 140.75,221.5 141.5,214.7 142.25,210.2 143,209.1 143.75,209.5 144.5,210.5 145.25,211.9 146,217.6 146.75,223.3 147.5,229.1 148.25,232.4 149,233.1 149.75,234.5 150.5,235.5 151.25,235.8 152,235.5 152.75,230.3 153.5,228.0 154.25,225.6 155,221.9 155.75,217.6 156.5,210.5 157.25,202.6 158,198.7 158.75,194.6 159.5,191.6 160.25,190.9 161,196.4 161.75,199.4 162.5,202.9 163.25,206.5 164,212.0 164.75,213.3 165.5,220.0 166.25,223.4 167,226.9 167.75,230.2 168.5,234.1 169.25,234.6 170,237.4 170.75,235.5 171.5,239.3 172.25,239.4 173,237.6 173.75,240.6 174.5,239.1 175.25,237.1 176,237.5 176.75,237.7 177.5,241.1 178.25,238.7 179,241.2 179.75,238.3 180.5,241.3 181.25,240.1 182,241.3 182.75,241.4 183.5,238.0 184.25,240.0 185,238.9 185.75,241.2 186.5,240.1 187.25,238.6 188,242.0 188.75,239.6 189.5,241.1 190.25,241.8 191,238.2 191.75,240.9 192.5,238.2 193.25,239.8 194,241.7 194.75,242.6 195.5,238.4 196.25,241.6 197,242.2 197.75,241.8 198.5,239.0 199.25,235.8 200,232.9 200.75,233.0 201.5,225.5 202.25,221.8 203,215.6 203.75,208.3 204.5,209.2 205.25,207.5 206,207.6 206.75,216.0 207.5,221.4 208.25,225.0 209,232.3 209.75,234.9 210.5,234.5 211.25,234.8 212,237.9 212.75,236.7 213.5,234.1 214.25,230.9 215,226.6 215.75,224.5 216.5,218.4 217.25,212.4 218,207.1 218.75,198.6 219.5,195.5 220.25,194.6 221,191.2 221.75,193.3 222.5,195.4 223.25,199.7 224,200.6 224.75,206.2 225.5,213.2 226.25,215.4 227,222.9 227.75,224.1 228.5,226.1 229.25,229.4 230,233.8 230.75,236.3 231.5,234.6 232.25,236.5 233,238.9 233.75,236.1 234.5,236.3 235.25,240.7 236,238.9 236.75,238.0 237.5,238.8 238.25,239.3 239,241.7 239.75,239.4 240.5,238.2 241.25,238.3 242,238.3 242.75,239.3 243.5,240.9 244.25,239.8 245,239.0 245.75,240.2 246.5,240.1 247.25,242.1 248,240.2 248.75,240.2 249.5,239.4 250.25,238.5 251,239.6 251.75,242.2 252.5,240.4 253.25,239.5 254,242.5 254.75,240.1 255.5,239.3 256.25,239.5 257,238.8 257.75,241.6 258.5,238.1 259.25,241.4 260,239.3 260.75,237.5 261.5,233.0 262.25,229.6 263,224.6 263.75,218.6 264.5,214.8 265.25,208.6 266,207.9 266.75,207.5 267.5,211.5 268.25,216.2 269,223.7 269.75,227.4 270.5,232.1 271.25,233.1 272,234.8 272.75,236.6 273.5,234.8 274.25,234.9 275,233.9 275.75,231.7 276.5,228.9 277.25,220.8 278,218.0 278.75,212.6 279.5,206.4 280.25,201.1 281,197.9 281.75,193.8 282.5,192.1 283.25,193.1 284,197.1 284.75,201.8 285.5,203.1 286.25,208.1 287,213.2 287.75,219.5 288.5,224.8 289.25,228.8 290,230.5 290.75,231.4 291.5,233.4 292.25,234.4 293,236.6 293.75,238.7 294.5,236.5 295.25,239.9 296,237.4 296.75,237.3 297.5,239.0 298.25,238.4 299,240.2 299.75,239.9 300.5,241.7 301.25,240.5 302,240.5 302.75,238.1 303.5,239.7 304.25,239.7 305,238.4 305.75,239.4 306.5,241.9 307.25,241.5 308,240.5 308.75,241.7 309.5,238.7 310.25,240.4 311,239.8 311.75,242.3 312.5,238.9 313.25,242.6 314,240.0 314.75,242.8 315.5,242.4 316.25,240.9 317,242.8 317.75,241.5 318.5,240.9 319.25,240.2 320,241.1 320.75,241.9 321.5,238.3 322.25,235.6 323,234.7 323.75,228.0 324.5,223.0 325.25,216.4 326,212.0 326.75,207.3 327.5,209.1 328.25,210.8 329,212.4 329.75,218.9 330.5,226.0 331.25,227.2 332,233.9 332.75,236.2 333.5,238.3 334.25,236.4 335,236.5 335.75,234.9 336.5,231.0 337.25,230.7 338,225.6 338.75,222.1 339.5,216.3 340.25,208.8 341,205.4 341.75,201.1 342.5,196.1 343.25,192.8 344,195.1 344.75,194.6 345.5,198.9 346.25,204.2 347,206.7 347.75,209.4 348.5,214.5 349.25,222.0 350,225.7 350.75,228.6 351.5,232.8 352.25,231.2 353,235.9 353.75,237.6 354.5,239.1 355.25,237.3 356,236.9 356.75,237.0 357.5,238.8 358.25,240.9 359,240.2 359.75,238.0 360.5,239.9 361.25,238.4 362,241.1 362.75,241.4 363.5,241.0 364.25,240.5 365,238.2 365.75,240.3 366.5,238.9 367.25,239.7 368,238.6 368.75,242.3 369.5,239.5 370.25,242.8 371,242.7 371.75,242.0 372.5,239.3 373.25,242.0 374,241.5 374.75,240.0 375.5,240.0 376.25,242.8 377,242.9 377.75,239.6 378.5,240.0 379.25,242.2 380,239.1 380.75,242.4 381.5,242.9 382.25,241.6 383,239.3 383.75,240.2 384.5,240.1 385.25,239.2 386,238.8 386.75,236.1 387.5,237.8 388.25,235.4 389,233.9 389.75,232.3 390.5,231.1 391.25,232.2 392,232.4 392.75,235.9 393.5,234.6 394.25,238.7 395,237.2 395.75,237.5 396.5,233.5 397.25,228.1 398,221.4 398.75,223.2 399.5,227.2 400.25,229.3 401,229.1 401.75,231.5 402.5,233.2 403.25,230.9 404,233.1 404.75,232.6 405.5,234.5 406.25,233.4 407,234.1 407.75,233.7 408.5,233.2 409.25,232.6 410,236.1 410.75,233.3 411.5,233.4 412.25,237.3 413,235.1 413.75,239.5 414.5,237.8 415.25,239.6 416,239.4 416.75,241.9 417.5,239.6 418.25,240.4 419,240.0 419.75,242.4 420.5,239.2 421.25,239.9 422,240.3 422.75,243.1 423.5,239.9 424.25,242.5 425,243.0 425.75,240.3 426.5,241.6 427.25,242.1 428,242.2 428.75,239.6 429.5,240.3 430.25,241.2 431,242.5 431.75,241.1 432.5,241.4 433.25,240.4 434,241.1 434.75,241.0 435.5,241.5 436.25,242.2 437,243.4 437.75,240.4 438.5,242.2 439.25,242.3 440,239.2 440.75,242.6 441.5,243.0 442.25,242.0 443,242.9 443.75,242.7 444.5,238.8 445.25,238.5 446,240.1 446.75,239.5 447.5,240.5 448.25,237.6 449,237.4 449.75,234.0 450.5,233.1 451.25,232.6 452,231.8 452.75,232.7 453.5,235.4 454.25,237.1 455,235.1 455.75,237.3 456.5,237.6 457.25,236.3 458,228.6 458.75,223.4 459.5,222.0 460.25,223.8 461,226.2 461.75,227.5 462.5,232.4 463.25,232.2 464,231.3 464.75,232.3 465.5,231.6 466.25,235.1 467,234.9 467.75,235.5 468.5,232.0 469.25,234.0 470,236.1 470.75,233.7 471.5,236.9 472.25,237.4 473,238.1 473.75,237.4 474.5,235.4 475.25,236.5 476,241.2 476.75,238.3 477.5,242.1 478.25,241.7 479,241.4 479.75,242.8 480.5,240.0 481.25,240.5 482,240.5 482.75,242.6 483.5,240.1 484.25,241.3 485,243.6 485.75,242.5 486.5,241.2 487.25,240.6 488,239.4 488.75,242.3 489.5,243.5 490.25,240.5 491,240.4 491.75,240.3 492.5,242.9 493.25,241.9 494,243.2 494.75,241.8 495.5,241.0 496.25,242.1 497,241.7 497.75,241.3 498.5,243.1 499.25,239.8 500,241.9 500.75,243.3 501.5,242.1 502.25,242.5 503,241.9 503.75,239.6 504.5,239.0 505.25,241.8 506,241.8 506.75,241.1 507.5,241.8 508.25,240.0 509,236.4 509.75,237.7 510.5,237.9 511.25,237.5 512,235.1 512.75,236.0 513.5,235.0 514.25,234.1 515,234.5 515.75,234.7 516.5,235.1 517.25,238.3 518,234.9 518.75,234.1 519.5,228.5 520.25,221.2 521,219.7 521.75,224.7 522.5,229.9 523.25,229.9 524,229.9 524.75,233.4 525.5,230.5 526.25,232.5 527,232.4 527.75,232.5 528.5,233.2 529.25,234.8 530,234.3 530.75,233.8 531.5,235.8 532.25,233.8 533,236.7 533.75,236.2 534.5,238.0 535.25,236.9 536,237.6 536.75,238.1 537.5,239.2 538.25,240.0 539,241.6 539.75,240.6 540.5,240.4 541.25,240.4 542,242.3 542.75,241.7 543.5,241.8 544.25,243.0 545,241.5 545.75,240.1 546.5,240.2 547.25,242.9 548,242.2 548.75,243.4 549.5,243.7 550.25,240.5 551,242.6 551.75,243.3 552.5,243.5 553.25,240.5 554,241.2 554.75,240.9 555.5,242.5 556.25,242.3 557,240.0 557.75,239.9 558.5,243.5 559.25,241.7 560,240.2 560.75,240.6 561.5,243.5 562.25,239.6 563,243.4 563.75,241.2 564.5,242.5 565.25,241.8 566,241.4 566.75,240.1 567.5,239.6 568.25,240.8 569,241.4 569.75,237.6 570.5,238.1 571.25,237.1 572,236.7 572.75,236.7 573.5,233.9 574.25,234.9 575,234.4 575.75,236.5 576.5,236.5 577.25,234.6 578,237.4 578.75,238.6 579.5,236.0 580.25,233.5 581,227.3 581.75,220.3 582.5,224.1 583.25,225.6 584,230.7 584.75,230.2 585.5,232.4 586.25,233.9 587,233.8 587.75,233.9 588.5,235.2 589.25,234.6 590,234.5 590.75,233.7 591.5,234.5 592.25,232.7 593,235.8 593.75,234.2 594.5,234.5 595.25,235.2 596,236.6 596.75,238.1 597.5,239.4 598.25,237.1 599,241.2 599.75,239.6 600.5,240.9 601.25,239.6 602,242.9 602.75,241.7 603.5,240.0 604.25,243.2 605,241.3 605.75,243.7 606.5,243.7 607.25,243.8 608,241.3 608.75,242.6 609.5,241.4 610.25,241.9 611,241.5 611.75,240.4 612.5,241.4 613.25,243.1 614,241.4 614.75,240.0 615.5,240.0 616.25,240.8 617,239.8 617.75,240.6 618.5,240.8 619.25,243.0 620,240.5 620.75,240.2 621.5,239.9 622.25,241.9 623,243.2 623.75,242.6 624.5,242.4 625.25,242.1 626,242.6 626.75,241.3 627.5,243.5 628.25,240.2 629,241.2 629.75,240.1 630.5,238.8 631.25,235.9 632,233.3 632.75,226.2 633.5,222.5 634.25,212.4 635,209.3 635.75,206.1 636.5,205.5 637.25,205.7 638,213.7 638.75,219.2 639.5,223.3 640.25,230.9 641,235.6 641.75,236.5 642.5,239.6 643.25,236.1 644,235.4 644.75,235.8 645.5,235.0 646.25,231.0 647,228.3 647.75,220.5 648.5,215.8 649.25,210.8 650,204.3 650.75,200.1 651.5,198.9 652.25,194.7 653,196.2 653.75,200.8 654.5,201.6 655.25,207.5 656,211.9 656.75,215.3 657.5,220.6 658.25,222.0 659,228.1 659.75,232.1 660.5,231.1 661.25,236.3 662,238.0 662.75,237.9 663.5,239.9 664.25,238.4 665,237.8 665.75,239.9 666.5,239.0 667.25,238.3 668,241.7 668.75,240.0 669.5,241.1 670.25,243.0 671,240.5 671.75,241.8 672.5,238.9 673.25,242.2 674,240.1 674.75,239.8 675.5,241.7 676.25,243.5 677,241.8 677.75,241.9 678.5,243.7 679.25,239.6 680,243.1 680.75,240.9 681.5,243.5 682.25,243.3 683,240.5 683.75,243.1 684.5,242.0 685.25,240.1 686,242.0 686.75,241.9 687.5,239.9 688.25,241.6 689,244.1 689.75,243.1 690.5,240.2 691.25,240.9 692,242.2 692.75,241.9 693.5,241.5 694.25,241.1 695,241.3 695.75,241.4 696.5,240.3 697.25,241.3 698,243.4 698.75,241.2 699.5,240.5 700.25,240.0" stroke="#a81c1c"/>
<polyline points="5,210.8 5.75,208.2 6.5,211.1 7.25,211.3 8,210.0 8.75,207.7 9.5,211.5 10.25,211.1 11,207.7 11.75,211.4 12.5,210.1 13.25,209.2 14,211.3 14.75,208.3 15.5,211.5 16.25,209.3 17,209.8 17.75,209.0 18.5,209.7 19.25,210.9 20,207.8 20.75,209.3 21.5,210.8 22.25,211.3 23,208.2 23.75,208.1 24.5,209.3 25.25,209.0 26,211.3 26.75,209.2 27.5,208.7 28.25,208.3 29,208.3 29.75,210.4 30.5,209.3 31.25,207.8 32,209.5 32.75,207.7 33.5,207.6 34.25,209.5 35,209.2 35.75,210.0 36.5,208.2 37.25,211.6 38,211.8 38.75,211.8 39.5,208.5 40.25,208.0 41,209.9 41.75,209.8 42.5,211.6 43.25,210.2 44,208.7 44.75,210.0 45.5,209.5 46.25,210.2 47,210.7 47.75,208.5 48.5,209.4 49.25,210.4 50,207.5 50.75,207.8 51.5,208.0 52.25,211.6 53,211.1 53.75,208.1 54.5,210.2 55.25,209.6 56,208.2 56.75,208.0 57.5,209.4 58.25,211.6 59,210.8 59.75,208.0 60.5,210.1 61.25,211.5 62,210.8 62.75,209.7 63.5,208.4 64.25,209.0 65,208.2 65.75,208.1 66.5,210.5 67.25,211.6 68,209.4 68.75,211.8 69.5,207.9 70.25,208.0 71,208.8 71.75,210.8 72.5,208.2 73.25,211.8 74,207.8 74.75,211.1 75.5,208.8 76.25,207.8 77,204.6 77.75,202.4 78.5,199.7 79.25,194.6 80,185.2 80.75,179.8 81.5,179.9 82.25,176.8 83,176.9 83.75,181.3 84.5,185.5 85.25,192.7 86,197.6 86.75,201.9 87.5,202.1 88.25,204.2 89,206.7 89.75,205.1 90.5,202.9 91.25,202.4 92,201.6 92.75,196.2 93.5,193.3 94.25,189.4 95,178.7 95.75,175.5 96.5,169.8 97.25,164.6 98,163.2 98.75,164.2 99.5,165.5 100.25,164.5 101,171.2 101.75,173.0 102.5,180.6 103.25,185.1 104,186.8 104.75,192.3 105.5,195.4 106.25,199.5 107,202.3 107.75,202.0 108.5,207.1 109.25,206.6 110,205.6 110.75,206.7 111.5,208.0 112.25,207.9 113,208.3 113.75,210.0 114.5,210.7 115.25,208.4 116,207.3 116.75,207.4 117.5,207.7 118.25,208.7 119,209.1 119.75,210.2 120.5,209.4 121.25,210.6 122,208.9 122.75,208.4 123.5,207.8 124.25,211.7 125,210.2 125.75,208.0 126.5,210.5 127.25,211.8 128,208.8 128.75,212.4 129.5,210.8 130.25,210.1 131,209.8 131.75,208.5 132.5,209.8 133.25,211.5 134,212.2 134.75,209.3 135.5,211.6 136.25,207.6 137,207.5 137.75,208.9 138.5,207.3 139.25,200.9 140,199.2 140.75,190.8 141.5,185.5 142.25,180.0 143,176.9 143.75,173.8 144.5,178.8 145.25,179.2 146,186.1 146.75,192.7 147.5,196.1 148.25,202.0 149,206.8 149.75,204.6 150.5,207.0 151.25,206.2 152,204.6 152.75,201.8 153.5,200.0 154.25,194.4 155,190.2 155.75,187.6 156.5,178.4 157.25,173.2 158,169.2 158.75,164.7 159.5,162.3 160.25,161.9 161,165.1 161.75,168.7 162.5,171.3 163.25,175.4 164,181.2 164.75,183.4 165.5,187.9 166.25,192.3 167,199.2 167.75,201.1 168.5,202.2 169.25,206.2 170,204.3 170.75,204.5 171.5,208.8 172.25,208.0 173,208.7 173.75,207.6 174.5,211.1 175.25,209.0 176,211.2 176.75,209.8 177.5,208.6 178.25,209.5 179,207.9 179.75,210.4 180.5,207.9 181.25,211.2 182,208.2 182.75,209.2 183.5,211.0 184.25,211.0 185,210.8 185.75,208.4 186.5,209.2 187.25,208.6 188,209.6 188.75,212.3 189.5,208.6 190.25,210.9 191,211.8 191.75,210.1 192.5,212.5 193.25,210.4 194,212.3 194.75,210.6 195.5,212.0 196.25,211.7 197,208.1 197.75,209.5 198.5,209.3 199.25,209.4 200,202.5 200.75,201.2 201.5,195.5 202.25,187.4 203,181.6 203.75,177.5 204.5,174.2 205.25,174.2 206,178.2 206.75,181.2 207.5,190.7 208.25,193.3 209,200.3 209.75,203.7 210.5,204.6 211.25,206.0 212,206.7 212.75,204.2 213.5,205.0 214.25,203.0 215,196.1 215.75,194.2 216.5,189.2 217.25,185.0 218,178.2 218.75,172.2 219.5,166.4 220.25,165.8 221,163.1 221.75,165.5 222.5,167.3 223.25,168.7 224,174.2 224.75,177.7 225.5,182.6 226.25,185.8 227,193.8 227.75,193.6 228.5,198.4 229.25,200.2 230,202.2 230.75,203.2 231.5,205.9 232.25,208.6 233,206.0 233.75,207.7 234.5,207.3 235.25,207.4 236,208.9 236.75,210.2 237.5,211.0 238.25,211.0 239,210.7 239.75,209.3 240.5,211.1 241.25,209.8 242,208.5 242.75,211.8 243.5,211.7 244.25,210.5 245,211.2 245.75,210.3 246.5,209.7 247.25,209.6 248,211.7 248.75,211.3 249.5,209.4 250.25,211.1 251,210.0 251.75,211.6 252.5,209.9 253.25,210.0 254,209.1 254.75,210.6 255.5,211.7 256.25,209.3 257,211.6 257.75,210.9 258.5,210.6 259.25,210.7 260,206.9 260.75,207.6 261.5,203.2 262.25,201.1 263,194.2 263.75,189.0 264.5,181.8 265.25,178.0 266,176.0 266.75,174.7 267.5,181.4 268.25,185.5 269,190.0 269.75,195.7 270.5,201.0 271.25,203.5 272,204.6 272.75,208.1 273.5,206.1 274.25,207.1 275,202.7 275.75,202.5 276.5,196.3 277.25,191.6 278,187.2 278.75,181.0 279.5,172.8 280.25,166.4 281,166.0 281.75,163.4 282.5,160.6 283.25,163.3 284,167.2 284.75,169.1 285.5,173.6 286.25,180.9 287,182.1 287.75,186.6 288.5,192.8 289.25,195.6 290,197.5 290.75,203.1 291.5,202.0 292.25,205.8 293,207.8 293.75,209.9 294.5,206.6 295.25,210.5 296,207.4 296.75,207.8 297.5,207.5 298.25,211.0 299,208.2 299.75,207.9 300.5,211.6 301.25,210.7 302,209.0 302.75,210.4 303.5,211.7 304.25,208.7 305,212.2 305.75,211.3 306.5,208.8 307.25,208.7 308,211.1 308.75,209.6 309.5,210.8 310.25,211.9 311,209.2 311.75,210.6 312.5,209.7 313.25,213.1 314,212.9 314.75,211.2 315.5,210.6 316.25,212.9 317,211.5 317.75,209.4 318.5,209.5 319.25,211.7 320,210.7 320.75,208.4 321.5,210.4 322.25,207.0 323,203.0 323.75,198.7 324.5,192.1 325.25,186.8 326,183.2 326.75,180.5 327.5,176.0 328.25,178.1 329,185.0 329.75,190.7 330.5,194.1 331.25,198.4 332,205.6 332.75,207.1 333.5,205.7 334.25,208.6 335,207.3 335.75,204.8 336.5,204.2 337.25,199.7 338,195.7 338.75,192.7 339.5,187.8 340.25,182.1 341,175.8 341.75,171.2 342.5,167.8 343.25,164.9 344,164.4 344.75,167.7 345.5,167.5 346.25,173.3 347,178.8 347.75,180.1 348.5,186.6 349.25,191.4 350,194.2 350.75,197.4 351.5,203.0 352.25,205.0 353,203.1 353.75,205.0 354.5,208.9 355.25,207.6 356,207.0 356.75,207.8 357.5,207.7 358.25,209.8 359,210.2 359.75,208.3 360.5,212.4 361.25,210.8 362,212.2 362.75,210.6 363.5,210.3 364.25,210.6 365,212.9 365.75,212.8 366.5,210.4 367.25,209.9 368,212.8 368.75,208.9 369.5,209.8 370.25,213.0 371,209.9 371.75,210.8 372.5,210.8 373.25,210.8 374,213.1 374.75,213.2 375.5,210.8 376.25,211.7 377,210.4 377.75,212.8 378.5,209.8 379.25,210.3 380,212.0 380.75,209.3 381.5,212.3 382.25,209.7 383,210.3 383.75,210.7 384.5,208.7 385.25,207.5 386,208.3 386.75,208.8 387.5,207.8 388.25,205.9 389,205.9 389.75,203.8 390.5,204.3 391.25,200.9 392,201.8 392.75,203.1 393.5,204.4 394.25,206.8 395,208.5 395.75,206.2 396.5,204.0 397.25,197.6 398,188.8 398.75,189.8 399.5,194.2 400.25,199.9 401,200.7 401.75,200.3 402.5,199.9 403.25,202.9 404,204.4 404.75,205.3 405.5,201.4 406.25,205.8 407,205.9 407.75,205.8 408.5,206.4 409.25,206.2 410,207.1 410.75,204.1 411.5,207.1 412.25,205.6 413,208.7 413.75,208.2 414.5,209.5 415.25,208.0 416,211.0 416.75,208.4 417.5,210.4 418.25,212.2 419,209.9 419.75,209.7 420.5,211.8 421.25,210.8 422,212.6 422.75,210.1 423.5,212.5 424.25,212.9 425,212.8 425.75,211.8 426.5,212.7 427.25,212.3 428,210.7 428.75,211.7 429.5,210.0 430.25,212.0 431,211.1 431.75,213.6 432.5,210.5 433.25,211.8 434,212.4 434.75,212.8 435.5,213.2 436.25,211.5 437,211.9 437.75,211.1 438.5,212.6 439.25,210.2 440,211.4 440.75,210.2 441.5,213.4 442.25,209.6 443,211.6 443.75,213.4 444.5,210.8 445.25,213.1 446,210.3 446.75,208.1 447.5,209.8 448.25,208.0 449,207.1 449.75,208.1 450.5,204.9 451.25,202.1 452,201.7 452.75,204.6 453.5,204.2 454.25,205.7 455,205.3 455.75,206.6 456.5,207.8 457.25,205.2 458,201.5 458.75,192.3 459.5,192.0 460.25,195.1 461,198.0 461.75,201.2 462.5,199.0 463.25,202.6 464,200.2 464.75,202.3 465.5,201.9 466.25,202.6 467,203.3 467.75,202.5 468.5,204.5 469.25,204.9 470,205.8 470.75,204.1 471.5,203.5 472.25,206.9 473,207.4 473.75,207.9 474.5,207.9 475.25,210.1 476,211.8 476.75,212.3 477.5,211.2 478.25,209.9 479,210.6 479.75,210.7 480.5,211.8 481.25,211.3 482,211.6 482.75,213.7 483.5,211.5 484.25,210.4 485,212.8 485.75,213.2 486.5,213.8 487.25,210.7 488,212.0 488.75,210.1 489.5,211.0 490.25,209.5 491,211.3 491.75,209.9 492.5,211.0 493.25,210.8 494,211.3 494.75,210.6 495.5,210.9 496.25,214.3 497,213.5 497.75,212.4 498.5,212.8 499.25,211.4 500,212.2 500.75,211.8 501.5,213.7 502.25,211.5 503,213.3 503.75,211.7 504.5,212.8 505.25,209.4 506,212.7 506.75,210.2 507.5,211.4 508.25,210.8 509,210.3 509.75,207.9 510.5,206.2 511.25,207.1 512,204.0 512.75,204.6 513.5,203.4 514.25,203.7 515,207.1 515.75,208.3 516.5,206.4 517.25,209.0 518,206.9 518.75,203.2 519.5,199.1 520.25,192.9 521,188.8 521.75,196.1 522.5,196.5 523.25,199.9 524,203.6 524.75,200.9 525.5,203.3 526.25,202.6 527,205.4 527.75,205.8 528.5,205.6 529.25,203.4 530,203.2 530.75,203.3 531.5,205.5 532.25,203.2 533,205.9 533.75,205.6 534.5,207.8 535.25,209.4 536,209.5 536.75,207.1 537.5,209.5 538.25,209.0 539,210.9 539.75,209.4 540.5,211.2 541.25,211.9 542,213.3 542.75,212.8 543.5,211.5 544.25,210.1 545,210.4 545.75,211.4 546.5,214.2 547.25,210.2 548,210.9 548.75,213.0 549.5,212.9 550.25,211.2 551,212.1 551.75,211.6 552.5,213.0 553.25,212.3 554,210.8 554.75,210.8 555.5,210.7 556.25,212.4 557,210.5 557.75,211.7 558.5,213.5 559.25,213.2 560,211.9 560.75,210.6 561.5,213.8 562.25,211.6 563,213.8 563.75,210.8 564.5,210.1 565.25,212.3 566,212.7 566.75,212.5 567.5,210.2 568.25,212.6 569,212.2 569.75,211.0 570.5,206.9 571.25,210.0 572,206.0 572.75,204.8 573.5,205.9 574.25,205.5 575,205.3 575.75,206.2 576.5,207.5 577.25,205.6 578,209.9 578.75,210.0 579.5,208.1 580.25,203.4 581,194.7 581.75,192.0 582.5,190.5 583.25,197.4 584,200.9 584.75,198.5 585.5,203.3 586.25,204.6 587,205.3 587.75,201.7 588.5,205.1 589.25,203.7 590,204.4 590.75,204.7 591.5,206.2 592.25,205.3 593,203.1 593.75,204.2 594.5,204.0 595.25,208.2 596,205.7 596.75,207.4 597.5,209.4 598.25,208.4 599,209.4 599.75,212.6 600.5,210.8 601.25,210.5 602,211.9 602.75,213.4 603.5,210.5 604.25,210.3 605,213.0 605.75,210.9 606.5,213.9 607.25,211.1 608,214.2 608.75,214.1 609.5,212.6 610.25,210.6 611,213.3 611.75,211.9 612.5,214.1 613.25,213.3 614,213.2 614.75,213.4 615.5,211.5 616.25,213.5 617,214.2 617.75,213.6 618.5,213.3 619.25,211.3 620,213.2 620.75,213.2 621.5,210.2 622.25,210.6 623,213.8 623.75,210.9 624.5,214.1 625.25,212.1 626,210.2 626.75,211.3 627.5,210.5 628.25,210.0 629,211.5 629.75,208.9 630.5,210.4 631.25,207.9 632,202.3 632.75,198.0 633.5,188.6 634.25,182.1 635,178.5 635.75,174.6 636.5,176.1 637.25,176.4 638,183.4 638.75,188.8 639.5,195.5 640.25,201.7 641,204.3 641.75,205.1 642.5,209.2 643.25,208.9 644,207.1 644.75,206.2 645.5,205.6 646.25,201.2 647,199.1 647.75,195.1 648.5,189.7 649.25,181.5 650,176.1 650.75,170.7 651.5,167.4 652.25,166.3 653,168.6 653.75,169.5 654.5,172.2 655.25,177.4 656,179.5 656.75,185.5 657.5,189.0 658.25,191.7 659,198.7 659.75,201.9 660.5,200.9 661.25,204.4 662,206.5 662.75,208.9 663.5,210.4 664.25,211.5 665,212.4 665.75,210.9 666.5,209.7 667.25,212.0 668,213.7 668.75,213.4 669.5,214.0 670.25,210.1 671,210.5 671.75,213.3 672.5,211.9 673.25,213.0 674,214.4 674.75,214.2 675.5,214.3 676.25,212.6 677,213.7 677.75,211.5 678.5,210.9 679.25,213.5 680,213.9 680.75,211.5 681.5,213.7 682.25,212.5 683,213.0 683.75,214.5 684.5,213.2 685.25,214.9 686,211.0 686.75,214.1 687.5,213.8 688.25,211.3 689,212.3 689.75,212.1 690.5,213.2 691.25,212.6 692,211.4 692.75,213.9 693.5,214.8 694.25,214.6 695,214.2 695.75,211.9 696.5,212.1 697.25,215.0 698,211.3 698.75,211.4 699.5,213.4 700.25,212.6" stroke="#62d81c"/>
<polyline points="5,187.9 5.75,184.3 6.5,184.6 7.25,184.9 8,189.4 8.75,188.9 9.5,184.6 10.25,184.2 11,185.7 11.75,186.2 12.5,185.3 13.25,184.6 14,184.5 14.75,186.3 15.5,188.3 16.25,188.0 17,186.3 17.75,186.6 18.5,188.1 19.25,184.6 20,185.1 20.75,184.8 21.5,185.3 22.25,187.1 23,185.5 23.75,189.6 24.5,187.4 25.25,189.3 26,188.7 26.75,188.0 27.5,188.6 28.25,187.5 29,186.1 29.75,186.6 30.5,188.5 31.25,184.5 32,188.6 32.75,189.3 33.5,189.7 34.25,189.2 35,186.1 35.75,184.7 36.5,189.4 37.25,188.4 38,187.7 38.75,187.5 39.5,186.9 40.25,186.7 41,188.4 41.75,189.4 42.5,184.9 43.25,186.6 44,185.3 44.75,188.6 45.5,185.6 46.25,184.7 47,186.9 47.75,187.3 48.5,188.8 49.25,187.3 50,188.7 50.75,185.4 51.5,189.7 52.25,186.6 53,187.5 53.75,184.9 54.5,187.3 55.25,185.2 56,186.6 56.75,186.1 57.5,189.0 58.25,189.6 59,189.1 59.75,185.5 60.5,184.7 61.25,189.7 62,186.7 62.75,189.4 63.5,184.2 64.25,189.2 65,188.8 65.75,189.0 66.5,188.7 67.25,185.4 68,184.4 68.75,187.9 69.5,185.6 70.25,186.6 71,185.5 71.75,189.9 72.5,186.7 73.25,189.8 74,187.1 74.75,186.0 75.5,186.9 76.25,187.7 77,185.2 77.75,180.9 78.5,177.0 79.25,171.0 80,167.0 80.75,162.8 81.5,159.0 82.25,157.3 83,153.9 83.75,157.3 84.5,164.6 85.25,170.0 86,172.7 86.75,179.1 87.5,184.2 88.25,180.7 89,184.6 89.75,183.9 90.5,181.4 91.25,177.7 92,177.9 92.75,172.9 93.5,170.9 94.25,164.0 95,160.6 95.75,151.7 96.5,145.5 97.25,144.7 98,142.7 98.75,141.8 99.5,141.9 100.25,144.7 101,147.9 101.75,154.7 102.5,158.7 103.25,161.0 104,168.2 104.75,170.9 105.5,173.0 106.25,178.0 107,180.3 107.75,182.1 108.5,183.2 109.25,183.0 110,186.3 110.75,183.5 111.5,188.0 112.25,184.7 113,183.4 113.75,185.7 114.5,188.6 115.25,185.6 116,185.4 116.75,185.3 117.5,186.2 118.25,187.7 119,186.8 119.75,185.9 120.5,187.2 121.25,184.3 122,188.8 122.75,187.4 123.5,188.4 124.25,187.3 125,187.5 125.75,188.3 126.5,187.1 127.25,188.2 128,186.8 128.75,188.5 129.5,189.9 130.25,188.6 131,186.4 131.75,189.7 132.5,187.1 133.25,187.4 134,189.2 134.75,185.3 135.5,187.6 136.25,187.1 137,185.9 137.75,183.4 138.5,182.9 139.25,178.7 140,175.7 140.75,167.5 141.5,166.1 142.25,158.8 143,155.8 143.75,153.5 144.5,158.7 145.25,162.8 146,165.3 146.75,173.8 147.5,176.7 148.25,180.6 149,182.9 149.75,184.9 150.5,181.1 151.25,181.6 152,183.3 152.75,177.2 153.5,174.1 154.25,173.9 155,171.4 155.75,165.4 156.5,160.3 157.25,151.4 158,147.7 158.75,144.4 159.5,143.3 160.25,144.2 161,145.5 161.75,146.7 162.5,149.1 163.25,157.4 164,162.1 164.75,162.0 165.5,168.9 166.25,169.7 167,174.1 167.75,180.1 168.5,182.3 169.25,179.1 170,180.7 170.75,183.9 171.5,182.3 172.25,185.3 173,183.9 173.75,186.7 174.5,185.6 175.25,184.3 176,186.5 176.75,187.6 177.5,187.8 178.25,184.8 179,186.5 179.75,186.9 180.5,186.8 181.25,188.7 182,185.5 182.75,189.6 183.5,184.8 184.25,185.9 185,189.7 185.75,188.8 186.5,188.4 187.25,189.7 188,188.4 188.75,189.9 189.5,185.6 190.25,189.3 191,185.0 191.75,186.1 192.5,185.9 193.25,190.2 194,189.5 194.75,189.1 195.5,186.9 196.25,190.1 197,188.1 197.75,188.7 198.5,187.5 199.25,187.5 200,180.0 200.75,180.1 201.5,172.1 202.25,170.6 203,162.8 203.75,156.5 204.5,155.9 205.25,155.7 206,159.2 206.75,163.4 207.5,168.1 208.25,173.9 209,178.7 209.75,182.0 210.5,183.8 211.25,184.2 212,185.9 212.75,182.2 213.5,180.4 214.25,178.8 215,176.0 215.75,170.9 216.5,169.5 217.25,163.6 218,157.5 218.75,149.8 219.5,149.2 220.25,142.3 221,141.1 221.75,141.1 222.5,143.8 223.25,148.9 224,153.6 224.75,159.1 225.5,163.5 226.25,165.6 227,169.2 227.75,176.2 228.5,175.2 229.25,176.5 230,178.2 230.75,181.4 231.5,180.8 232.25,186.9 233,184.7 233.75,186.3 234.5,183.1 235.25,187.7 236,184.7 236.75,186.4 237.5,184.5 238.25,185.6 239,184.9 239.75,189.2 240.5,189.2 241.25,186.3 242,186.8 242.75,189.3 243.5,187.9 244.25,189.0 245,189.1 245.75,188.1 246.5,188.0 247.25,187.9 248,188.6 248.75,186.5 249.5,189.1 250.25,186.7 251,187.0 251.75,185.4 252.5,185.4 253.25,189.4 254,188.9 254.75,187.1 255.5,185.9 256.25,189.0 257,189.0 257.75,185.5 258.5,189.4 259.25,187.7 260,185.0 260.75,186.0 261.5,180.7 262.25,175.8 263,171.3 263.75,165.7 264.5,161.0 265.25,159.1 266,156.4 266.75,153.7 267.5,157.7 268.25,164.9 269,171.5 269.75,177.0 270.5,176.9 271.25,185.0 272,186.5 272.75,186.0 273.5,186.6 274.25,184.4 275,180.5 275.75,176.9 276.5,177.3 277.25,168.2 278,163.9 278.75,160.6 279.5,155.6 280.25,145.8 281,142.8 281.75,143.4 282.5,140.3 283.25,142.2 284,144.9 284.75,146.2 285.5,153.9 286.25,159.5 287,159.9 287.75,164.3 288.5,170.4 289.25,176.9 290,175.3 290.75,179.1 291.5,181.7 292.25,185.8 293,186.1 293.75,187.7 294.5,187.1 295.25,186.6 296,184.2 296.75,187.3 297.5,189.3 298.25,188.9 299,187.7 299.75,188.3 300.5,184.6 301.25,188.5 302,185.6 302.75,186.9 303.5,185.4 304.25,185.0 305,187.8 305.75,188.1 306.5,189.9 307.25,186.9 308,186.7 308.75,189.7 309.5,190.2 310.25,189.4 311,187.5 311.75,189.4 312.5,186.0 313.25,189.4 314,187.9 314.75,187.4 315.5,187.9 316.25,189.3 317,189.1 317.75,188.9 318.5,189.6 319.25,189.7 320,185.3 320.75,187.0 321.5,188.3 322.25,182.1 323,183.2 323.75,178.4 324.5,171.0 325.25,164.5 326,163.1 326.75,155.6 327.5,155.9 328.25,158.5 329,164.4 329.75,169.6 330.5,175.6 331.25,176.2 332,183.7 332.75,181.8 333.5,186.3 334.25,187.3 335,184.2 335.75,181.3 336.5,180.4 337.25,179.9 338,173.4 338.75,168.4 339.5,162.4 340.25,155.6 341,152.9 341.75,149.2 342.5,144.8 343.25,141.6 344,144.0 344.75,146.1 345.5,148.7 346.25,151.5 347,152.5 347.75,158.9 348.5,162.2 349.25,167.3 350,174.1 350.75,176.8 351.5,176.8 352.25,179.6 353,182.8 353.75,185.6 354.5,184.0 355.25,185.3 356,187.6 356.75,185.0 357.5,184.2 358.25,188.0 359,186.4 359.75,186.9 360.5,185.2 361.25,187.9 362,186.1 362.75,185.6 363.5,185.7 364.25,189.8 365,185.5 365.75,186.1 366.5,185.4 367.25,186.4 368,187.2 368.75,190.4 369.5,189.3 370.25,187.0 371,185.6 371.75,191.2 372.5,188.5 373.25,188.9 374,187.0 374.75,186.0 375.5,190.0 376.25,188.1 377,191.1 377.75,190.6 378.5,185.7 379.25,191.2 380,188.5 380.75,190.5 381.5,185.9 382.25,188.8 383,190.0 383.75,186.3 384.5,190.3 385.25,185.0 386,186.2 386.75,184.3 387.5,186.6 388.25,180.3 389,183.2 389.75,178.0 390.5,178.9 391.25,179.0 392,182.1 392.75,180.3 393.5,183.6 394.25,185.1 395,184.8 395.75,182.6 396.5,181.6 397.25,172.6 398,166.5 398.75,167.0 399.5,174.0 400.25,177.7 401,176.7 401.75,180.8 402.5,177.8 403.25,182.0 404,180.4 404.75,182.4 405.5,178.1 406.25,178.6 407,179.7 407.75,181.9 408.5,181.1 409.25,181.3 410,183.2 410.75,180.3 411.5,183.6 412.25,181.5 413,186.6 413.75,187.4 414.5,184.8 415.25,184.1 416,187.6 416.75,187.3 417.5,190.3 418.25,189.1 419,189.3 419.75,190.9 420.5,187.6 421.25,191.5 422,188.4 422.75,190.9 423.5,190.2 424.25,189.6 425,186.8 425.75,189.5 426.5,189.4 427.25,188.1 428,190.9 428.75,191.4 429.5,191.1 430.25,188.9 431,190.1 431.75,186.6 432.5,186.7 433.25,188.4 434,191.0 434.75,190.2 435.5,186.9 436.25,191.9 437,190.2 437.75,189.5 438.5,188.9 439.25,191.2 440,191.3 440.75,190.0 441.5,188.5 442.25,189.7 443,189.8 443.75,188.9 444.5,189.1 445.25,190.1 446,185.7 446.75,189.3 447.5,184.7 448.25,183.5 449,182.1 449.75,181.9 450.5,180.9 451.25,180.7 452,182.5 452.75,181.5 453.5,180.8 454.25,182.3 455,182.8 455.75,186.9 456.5,183.0 457.25,185.0 458,179.3 458.75,169.5 459.5,164.2 460.25,168.7 461,174.3 461.75,178.4 462.5,177.7 463.25,180.9 464,177.5 464.75,179.6 465.5,180.8 466.25,180.8 467,180.6 467.75,181.9 468.5,179.6 469.25,182.1 470,180.5 470.75,184.6 471.5,183.0 472.25,184.4 473,182.6 473.75,186.7 474.5,187.3 475.25,183.9 476,187.7 476.75,187.2 477.5,185.6 478.25,186.9 479,185.8 479.75,189.0 480.5,190.4 481.25,190.6 482,190.4 482.75,189.9 483.5,186.8 484.25,191.9 485,187.6 485.75,192.3 486.5,192.0 487.25,189.9 488,189.4 488.75,190.6 489.5,190.1 490.25,189.0 491,188.0 491.75,190.2 492.5,190.2 493.25,189.1 494,189.7 494.75,192.1 495.5,187.7 496.25,188.2 497,190.8 497.75,187.8 498.5,187.0 499.25,187.7 500,188.9 500.75,187.6 501.5,192.3 502.25,187.3 503,191.0 503.75,187.1 504.5,190.9 505.25,190.0 506,189.2 506.75,188.4 507.5,187.3 508.25,188.8 509,189.1 509.75,185.2 510.5,185.3 511.25,185.2 512,178.9 512.75,181.2 513.5,182.7 514.25,180.0 515,180.8 515.75,185.7 516.5,182.7 517.25,185.5 518,186.4 518.75,181.0 519.5,174.6 520.25,166.8 521,165.3 521.75,170.3 522.5,175.2 523.25,180.3 524,178.3 524.75,180.0 525.5,178.8 526.25,180.6 527,179.1 527.75,180.6 528.5,183.9 529.25,181.8 530,179.4 530.75,184.5 531.5,182.8 532.25,181.2 533,185.6 533.75,185.1 534.5,184.5 535.25,184.9 536,184.0 536.75,184.3 537.5,186.9 538.25,188.1 539,187.5 539.75,190.3 540.5,187.8 541.25,186.7 542,189.0 542.75,191.9 543.5,191.0 544.25,187.7 545,189.3 545.75,188.0 546.5,191.0 547.25,188.7 548,189.6 548.75,189.4 549.5,187.5 550.25,190.4 551,190.0 551.75,188.1 552.5,190.4 553.25,191.3 554,187.5 554.75,191.8 555.5,189.4 556.25,190.5 557,192.2 557.75,190.8 558.5,189.2 559.25,188.5 560,191.9 560.75,187.6 561.5,192.6 562.25,190.1 563,192.4 563.75,190.9 564.5,188.8 565.25,192.1 566,189.5 566.75,191.4 567.5,189.3 568.25,187.7 569,188.1 569.75,187.4 570.5,187.6 571.25,184.2 572,186.2 572.75,185.0 573.5,178.8 574.25,183.1 575,181.8 575.75,184.8 576.5,183.8 577.25,181.8 578,185.6 578.75,184.5 579.5,184.8 580.25,181.2 581,173.9 581.75,166.0 582.5,170.6 583.25,174.2 584,178.3 584.75,178.5 585.5,179.5 586.25,180.0 587,182.2 587.75,183.5 588.5,180.8 589.25,182.2 590,181.8 590.75,179.9 591.5,183.7 592.25,183.6 593,183.3 593.75,185.7 594.5,185.4 595.25,182.5 596,184.8 596.75,187.0 597.5,187.7 598.25,184.7 599,185.1 599.75,188.7 600.5,186.7 601.25,190.3 602,191.8 602.75,190.4 603.5,189.0 604.25,189.2 605,187.6 605.75,191.9 606.5,190.3 607.25,188.7 608,186.9 608.75,189.5 609.5,188.9 610.25,188.9 611,191.6 611.75,192.8 612.5,191.5 613.25,190.7 614,188.4 614.75,188.8 615.5,191.7 616.25,188.0 617,192.1 617.75,187.5 618.5,190.7 619.25,191.1 620,189.4 620.75,189.7 621.5,192.3 622.25,190.3 623,192.8 623.75,192.3 624.5,188.8 625.25,188.3 626,187.9 626.75,189.6 627.5,187.2 628.25,188.2 629,190.6 629.75,191.1 630.5,187.6 631.25,185.7 632,180.2 632.75,175.6 633.5,167.3 634.25,165.3 635,157.0 635.75,157.4 636.5,156.1 637.25,158.3 638,162.1 638.75,166.6 639.5,173.0 640.25,177.7 641,180.3 641.75,185.7 642.5,188.6 643.25,188.5 644,185.2 644.75,183.0 645.5,181.0 646.25,180.7 647,176.9 647.75,170.4 648.5,167.9 649.25,162.0 650,156.9 650.75,149.2 651.5,146.9 652.25,149.0 653,144.7 653.75,150.8 654.5,150.7 655.25,157.3 656,158.3 656.75,162.1 657.5,168.5 658.25,170.6 659,173.7 659.75,176.8 660.5,180.1 661.25,185.4 662,185.6 662.75,184.8 663.5,185.0 664.25,186.1 665,190.6 665.75,189.4 666.5,189.1 667.25,191.1 668,186.4 668.75,187.2 669.5,187.6 670.25,188.7 671,192.3 671.75,191.3 672.5,189.5 673.25,188.1 674,189.6 674.75,189.4 675.5,189.1 676.25,190.2 677,188.6 677.75,188.1 678.5,189.5 679.25,192.8 680,190.0 680.75,191.0 681.5,190.8 682.25,190.6 683,189.9 683.75,188.8 684.5,189.0 685.25,187.6 686,191.0 686.75,190.5 687.5,190.8 688.25,192.5 689,188.9 689.75,190.5 690.5,191.4 691.25,191.8 692,191.0 692.75,192.3 693.5,187.8 694.25,191.8 695,188.5 695.75,188.1 696.5,189.6 697.25,189.5 698,191.6 698.75,192.1 699.5,192.8 700.25,192.5" stroke="#4a4a4a"/>
<polyline points="5,185.5 5.75,188.2 6.5,186.3 7.25,188.6 8,184.0 8.75,187.6 9.5,188.1 10.25,186.1 11,186.1 11.75,184.8 12.5,183.7 13.25,184.2 14,183.6 14.75,188.4 15.5,184.2 16.25,187.3 17,186.6 17.75,186.0 18.5,184.3 19.25,186.1 20,185.2 20.75,184.8 21.5,184.7 22.25,184.3 23,185.7 23.75,183.7 24.5,187.7 25.25,186.4 26,185.7 26.75,185.0 27.5,185.2 28.25,185.6 29,187.8 29.75,187.1 30.5,186.8 31.25,184.9 32,186.1 32.75,184.6 33.5,188.2 34.25,186.5 35,187.8 35.75,186.9 36.5,183.3 37.25,184.0 38,188.6 38.75,185.0 39.5,188.3 40.25,184.9 41,184.3 41.75,187.5 42.5,186.7 43.25,184.8 44,184.8 44.75,188.2 45.5,184.3 46.25,185.5 47,184.4 47.75,187.1 48.5,185.7 49.25,185.8 50,184.2 50.75,187.7 51.5,183.2 52.25,188.1 53,187.8 53.75,183.8 54.5,185.9 55.25,185.7 56,185.8 56.75,183.8 57.5,185.5 58.25,188.1 59,185.8 59.75,187.2 60.5,186.6 61.25,185.7 62,187.0 62.75,183.7 63.5,184.6 64.25,188.6 65,186.0 65.75,184.8 66.5,189.0 67.25,184.8 68,184.9 68.75,184.5 69.5,185.2 70.25,186.8 71,184.4 71.75,187.9 72.5,187.6 73.25,184.0 74,186.1 74.75,183.7 75.5,187.3 76.25,183.0 77,185.2 77.75,180.5 78.5,174.8 79.25,170.2 80,164.5 80.75,159.5 81.5,154.3 82.25,152.1 83,156.4 83.75,155.5 84.5,162.4 85.25,168.5 86,172.3 86.75,176.8 87.5,178.7 88.25,183.4 89,183.6 89.75,182.1 90.5,182.1 91.25,178.0 92,176.9 92.75,173.7 93.5,171.2 94.25,162.2 95,160.0 95.75,152.2 96.5,145.7 97.25,145.2 98,140.3 98.75,139.7 99.5,139.1 100.25,141.3 101,145.3 101.75,152.0 102.5,157.5 103.25,159.0 104,166.7 104.75,166.8 105.5,174.7 106.25,176.5 107,178.9 107.75,182.4 108.5,179.5 109.25,183.1 110,183.6 110.75,184.8 111.5,183.6 112.25,187.1 113,183.2 113.75,182.5 114.5,187.5 115.25,187.1 116,182.9 116.75,185.4 117.5,183.7 118.25,184.9 119,188.1 119.75,183.6 120.5,183.8 121.25,183.8 122,183.5 122.75,184.5 123.5,184.4 124.25,183.8 125,183.4 125.75,185.9 126.5,187.4 127.25,187.7 128,184.6 128.75,186.9 129.5,184.5 130.25,183.8 131,189.3 131.75,185.9 132.5,188.7 133.25,189.4 134,189.2 134.75,185.9 135.5,183.7 136.25,185.5 137,187.9 137.75,181.4 138.5,181.6 139.25,180.2 140,174.0 140.75,171.4 141.5,161.1 142.25,159.1 143,155.6 143.75,151.9 144.5,152.4 145.25,161.4 146,162.3 146.75,167.5 147.5,177.7 148.25,181.5 149,180.5 149.75,180.9 150.5,181.4 151.25,183.2 152,180.0 152.75,179.2 153.5,172.7 154.25,171.4 155,165.5 155.75,161.3 156.5,152.7 157.25,148.5 158,144.3 158.75,137.5 159.5,138.1 160.25,138.1 161,139.7 161.75,143.5 162.5,147.0 163.25,151.3 164,154.6 164.75,162.7 165.5,168.4 166.25,171.4 167,174.8 167.75,178.5 168.5,176.3 169.25,182.4 170,182.2 170.75,183.8 171.5,183.6 172.25,185.0 173,182.5 173.75,184.3 174.5,185.6 175.25,187.6 176,185.4 176.75,185.5 177.5,184.3 178.25,183.2 179,188.5 179.75,189.0 180.5,186.1 181.25,188.5 182,184.7 182.75,188.3 183.5,186.4 184.25,184.2 185,184.3 185.75,186.0 186.5,187.5 187.25,187.8 188,186.3 188.75,184.5 189.5,186.5 190.25,187.7 191,185.3 191.75,186.5 192.5,185.9 193.25,185.3 194,185.8 194.75,189.1 195.5,188.2 196.25,184.7 197,184.8 197.75,186.2 198.5,185.5 199.25,185.6 200,180.6 200.75,179.0 201.5,175.0 202.25,165.5 203,163.9 203.75,156.7 204.5,154.9 205.25,155.2 206,158.5 206.75,163.2 207.5,165.2 208.25,172.1 209,177.6 209.75,182.4 210.5,183.3 211.25,180.8 212,181.4 212.75,183.7 213.5,182.5 214.25,178.7 215,175.5 215.75,170.2 216.5,165.7 217.25,158.5 218,151.8 218.75,147.3 219.5,144.5 220.25,140.1 221,141.4 221.75,142.1 222.5,140.8 223.25,143.4 224,149.8 224.75,156.3 225.5,157.6 226.25,164.3 227,165.7 227.75,168.9 228.5,173.8 229.25,177.5 230,178.4 230.75,183.6 231.5,185.2 232.25,181.1 233,185.5 233.75,183.3 234.5,185.8 235.25,187.4 236,187.2 236.75,187.5 237.5,186.7 238.25,188.4 239,184.5 239.75,184.5 240.5,188.3 241.25,185.4 242,184.0 242.75,183.8 243.5,187.3 244.25,185.8 245,186.8 245.75,185.5 246.5,185.2 247.25,187.6 248,185.7 248.75,185.0 249.5,189.2 250.25,189.6 251,188.9 251.75,187.9 252.5,185.2 253.25,184.4 254,186.8 254.75,187.4 255.5,189.7 256.25,186.3 257,185.9 257.75,189.7 258.5,189.5 259.25,186.2 260,185.0 260.75,185.4 261.5,183.1 262.25,175.7 263,171.1 263.75,165.9 264.5,159.5 265.25,157.9 266,152.8 266.75,154.3 267.5,157.0 268.25,162.3 269,168.4 269.75,175.0 270.5,177.0 271.25,179.4 272,185.6 272.75,183.3 273.5,181.6 274.25,181.8 275,181.4 275.75,175.5 276.5,174.0 277.25,171.8 278,167.8 278.75,161.5 279.5,152.0 280.25,146.4 281,146.5 281.75,139.7 282.5,142.8 283.25,143.0 284,142.6 284.75,146.1 285.5,152.8 286.25,158.1 287,162.8 287.75,163.8 288.5,170.0 289.25,174.3 290,174.6 290.75,180.7 291.5,182.1 292.25,185.2 293,185.7 293.75,186.5 294.5,187.8 295.25,184.0 296,187.8 296.75,186.7 297.5,186.1 298.25,186.5 299,188.6 299.75,186.9 300.5,186.1 301.25,189.0 302,186.6 302.75,186.8 303.5,189.5 304.25,189.3 305,185.7 305.75,184.8 306.5,187.7 307.25,186.6 308,187.7 308.75,187.0 309.5,186.2 310.25,189.8 311,186.1 311.75,185.9 312.5,189.2 313.25,184.8 314,186.5 314.75,187.0 315.5,187.7 316.25,187.5 317,188.9 317.75,188.8 318.5,190.0 319.25,189.2 320,185.1 320.75,186.6 321.5,185.1 322.25,185.9 323,182.7 323.75,177.3 324.5,167.6 325.25,166.6 326,160.9 326.75,157.9 327.5,156.8 328.25,154.9 329,162.2 329.75,164.3 330.5,172.0 331.25,174.2 332,179.5 332.75,182.6 333.5,183.0 334.25,184.2 335,182.4 335.75,178.9 336.5,178.2 337.25,175.9 338,174.3 338.75,168.7 339.5,164.9 340.25,154.1 341,148.5 341.75,144.8 342.5,138.6 343.25,140.9 344,141.7 344.75,144.1 345.5,142.3 346.25,148.7 347,153.2 347.75,157.2 348.5,159.7 349.25,169.5 350,170.0 350.75,174.3 351.5,175.6 352.25,179.5 353,183.9 353.75,185.8 354.5,185.9 355.25,186.7 356,184.1 356.75,186.3 357.5,186.6 358.25,189.0 359,185.1 359.75,185.6 360.5,184.4 361.25,187.3 362,186.2 362.75,186.5 363.5,186.1 364.25,186.5 365,188.0 365.75,186.0 366.5,187.4 367.25,185.7 368,189.2 368.75,185.8 369.5,189.8 370.25,189.3 371,188.1 371.75,189.7 372.5,186.1 373.25,186.2 374,187.9 374.75,190.7 375.5,188.4 376.25,187.4 377,188.3 377.75,190.5 378.5,189.8 379.25,186.5 380,186.4 380.75,189.9 381.5,188.7 382.25,189.2 383,185.4 383.75,189.8 384.5,186.3 385.25,184.9 386,186.0 386.75,183.9 387.5,182.2 388.25,184.5 389,183.3 389.75,182.4 390.5,181.3 391.25,178.7 392,181.7 392.75,182.7 393.5,182.6 394.25,183.0 395,181.0 395.75,181.1 396.5,179.4 397.25,169.7 398,164.4 398.75,167.0 399.5,169.7 400.25,175.2 401,174.7 401.75,180.6 402.5,177.8 403.25,179.3 404,176.8 404.75,179.4 405.5,177.4 406.25,182.4 407,180.7 407.75,181.8 408.5,180.5 409.25,183.3 410,182.3 410.75,180.5 411.5,183.3 412.25,180.9 413,182.4 413.75,186.3 414.5,183.9 415.25,185.3 416,186.6 416.75,187.6 417.5,189.7 418.25,188.8 419,185.4 419.75,188.1 420.5,187.0 421.25,186.8 422,186.1 422.75,188.0 423.5,186.1 424.25,190.4 425,186.1 425.75,190.6 426.5,191.0 427.25,188.1 428,187.7 428.75,190.6 429.5,186.9 430.25,186.4 431,186.4 431.75,189.5 432.5,185.8 433.25,189.2 434,186.0 434.75,190.6 435.5,187.3 436.25,188.3 437,185.8 437.75,190.4 438.5,188.3 439.25,187.6 440,189.6 440.75,189.6 441.5,187.2 442.25,189.5 443,185.8 443.75,185.3 444.5,185.3 445.25,186.5 446,187.6 446.75,184.8 447.5,186.3 448.25,182.9 449,182.6 449.75,181.3 450.5,182.5 451.25,178.0 452,181.1 452.75,177.8 453.5,178.9 454.25,183.8 455,184.0 455.75,183.3 456.5,184.9 457.25,179.9 458,177.1 458.75,171.5 459.5,164.7 460.25,167.4 461,172.0 461.75,177.7 462.5,178.9 463.25,180.1 464,179.0 464.75,178.1 465.5,181.9 466.25,182.4 467,181.8 467.75,181.9 468.5,178.2 469.25,179.4 470,183.5 470.75,178.6 471.5,182.3 472.25,180.5 473,181.0 473.75,184.6 474.5,184.6 475.25,183.7 476,183.9 476.75,189.2 477.5,187.0 478.25,189.5 479,186.5 479.75,190.5 480.5,187.6 481.25,186.7 482,187.3 482.75,190.6 483.5,190.2 484.25,189.4 485,189.3 485.75,187.8 486.5,189.0 487.25,189.6 488,186.6 488.75,189.4 489.5,186.9 490.25,188.0 491,188.9 491.75,188.2 492.5,186.7 493.25,190.4 494,189.6 494.75,189.9 495.5,190.7 496.25,187.9 497,187.4 497.75,190.0 498.5,191.5 499.25,187.4 500,191.4 500.75,188.3 501.5,191.0 502.25,191.2 503,186.8 503.75,191.5 504.5,190.8 505.25,189.0 506,189.8 506.75,187.0 507.5,186.1 508.25,188.7 509,185.5 509.75,184.1 510.5,183.3 511.25,180.3 512,182.8 512.75,179.6 513.5,177.5 514.25,182.2 515,180.4 515.75,182.0 516.5,185.5 517.25,185.6 518,181.3 518.75,182.1 519.5,177.3 520.25,168.1 521,166.5 521.75,169.5 522.5,175.7 523.25,176.6 524,178.8 524.75,180.1 525.5,180.7 526.25,181.1 527,179.4 527.75,178.6 528.5,180.4 529.25,181.3 530,180.4 530.75,182.4 531.5,183.6 532.25,184.1 533,180.3 533.75,183.3 534.5,185.0 535.25,181.3 536,182.0 536.75,187.3 537.5,185.2 538.25,184.7 539,187.0 539.75,188.2 540.5,187.6 541.25,186.4 542,189.9 542.75,187.5 543.5,189.0 544.25,189.3 545,188.4 545.75,189.2 546.5,189.2 547.25,191.0 548,190.0 548.75,191.9 549.5,190.1 550.25,187.3 551,188.1 551.75,187.4 552.5,191.1 553.25,191.0 554,189.8 554.75,189.4 555.5,190.5 556.25,188.8 557,187.7 557.75,188.4 558.5,186.7 559.25,189.0 560,189.9 560.75,189.1 561.5,188.5 562.25,188.0 563,188.0 563.75,187.6 564.5,186.1 565.25,189.7 566,190.6 566.75,190.1 567.5,188.6 568.25,190.3 569,185.5 569.75,184.8 570.5,186.1 571.25,182.5 572,183.1 572.75,181.4 573.5,179.5 574.25,181.3 575,182.1 575.75,180.6 576.5,182.5 577.25,183.7 578,182.0 578.75,187.4 579.5,185.7 580.25,180.1 581,171.9 581.75,168.2 582.5,165.1 583.25,175.0 584,172.8 584.75,178.6 585.5,176.8 586.25,180.0 587,181.0 587.75,177.5 588.5,180.1 589.25,181.6 590,182.1 590.75,183.9 591.5,181.6 592.25,184.2 593,181.9 593.75,183.7 594.5,180.6 595.25,185.3 596,186.3 596.75,183.8 597.5,186.9 598.25,184.4 599,186.6 599.75,185.4 600.5,188.3 601.25,189.6 602,186.4 602.75,189.9 603.5,186.7 604.25,190.3 605,189.4 605.75,188.6 606.5,189.8 607.25,192.0 608,192.3 608.75,191.8 609.5,187.5 610.25,192.0 611,187.9 611.75,190.7 612.5,188.5 613.25,188.7 614,187.1 614.75,190.0 615.5,187.5 616.25,189.4 617,189.5 617.75,189.7 618.5,192.3 619.25,189.6 620,191.0 620.75,189.3 621.5,191.1 622.25,190.6 623,189.3 623.75,188.2 624.5,188.0 625.25,189.5 626,188.7 626.75,190.4 627.5,189.2 628.25,191.1 629,188.2 629.75,185.6 630.5,185.9 631.25,184.3 632,179.9 632.75,174.1 633.5,168.1 634.25,164.0 635,159.9 635.75,152.0 636.5,153.4 637.25,154.5 638,162.8 638.75,169.4 639.5,175.6 640.25,178.6 641,182.6 641.75,185.6 642.5,184.8 643.25,185.2 644,184.0 644.75,185.2 645.5,178.2 646.25,179.7 647,175.6 647.75,168.3 648.5,163.6 649.25,155.6 650,155.0 650.75,147.1 651.5,144.5 652.25,140.9 653,143.8 653.75,145.0 654.5,146.6 655.25,152.6 656,155.2 656.75,161.5 657.5,164.4 658.25,173.3 659,175.0 659.75,177.4 660.5,180.9 661.25,184.7 662,181.9 662.75,185.3 663.5,187.8 664.25,189.0 665,187.2 665.75,188.3 666.5,189.2 667.25,186.4 668,187.3 668.75,188.4 669.5,189.4 670.25,186.5 671,186.3 671.75,186.7 672.5,189.2 673.25,187.4 674,187.4 674.75,188.4 675.5,188.8 676.25,189.2 677,189.6 677.75,188.2 678.5,190.2 679.25,189.9 680,191.5 680.75,191.6 681.5,188.0 682.25,189.0 683,191.7 683.75,187.1 684.5,187.8 685.25,190.3 686,192.2 686.75,190.4 687.5,190.6 688.25,192.7 689,187.3 689.75,187.9 690.5,190.3 691.25,191.5 692,192.5 692.75,188.0 693.5,188.3 694.25,189.2 695,190.7 695.75,190.5 696.5,189.9 697.25,190.5 698,188.3 698.75,187.4 699.5,192.0 700.25,188.9" stroke="#221ac4"/>
<polyline points="5,164.9 5.75,163.3 6.5,165.9 7.25,163.7 8,165.0 8.75,165.1 9.5,165.5 10.25,164.1 11,165.7 11.75,166.1 12.5,165.6 13.25,163.1 14,163.0 14.75,164.4 15.5,163.4 16.25,164.3 17,163.5 17.75,166.7 18.5,166.1 19.25,167.1 20,165.5 20.75,166.7 21.5,165.9 22.25,165.2 23,164.2 23.75,162.9 24.5,165.2 25.25,164.2 26,163.5 26.75,166.3 27.5,163.8 28.25,164.1 29,166.0 29.75,164.9 30.5,163.1 31.25,165.1 32,165.5 32.75,163.5 33.5,163.6 34.25,165.7 35,165.3 35.75,166.2 36.5,162.8 37.25,163.2 38,163.1 38.75,166.1 39.5,166.0 40.25,166.8 41,166.8 41.75,165.8 42.5,165.0 43.25,166.5 44,165.3 44.75,166.0 45.5,163.7 46.25,163.9 47,166.5 47.75,166.2 48.5,166.2 49.25,165.7 50,165.8 50.75,164.6 51.5,166.1 52.25,165.0 53,166.9 53.75,166.5 54.5,166.2 55.25,164.6 56,163.2 56.75,163.8 57.5,163.1 58.25,166.0 59,162.8 59.75,165.7 60.5,166.4 61.25,163.6 62,163.7 62.75,166.6 63.5,166.9 64.25,164.6 65,166.5 65.75,164.0 66.5,163.3 67.25,163.5 68,166.2 68.75,165.3 69.5,164.9 70.25,166.7 71,164.6 71.75,167.0 72.5,163.1 73.25,164.8 74,165.2 74.75,163.5 75.5,163.5 76.25,163.3 77,162.1 77.75,158.2 78.5,152.9 79.25,148.8 80,140.8 80.75,138.8 81.5,131.7 82.25,130.6 83,129.7 83.75,134.8 84.5,141.7 85.25,147.6 86,151.2 86.75,156.8 87.5,158.4 88.25,159.8 89,161.9 89.75,162.1 90.5,160.8 91.25,157.9 92,154.6 92.75,152.4 93.5,146.7 94.25,144.5 95,138.1 95.75,133.0 96.5,128.4 97.25,124.8 98,125.2 98.75,123.3 99.5,122.9 100.25,126.4 101,129.9 101.75,134.1 102.5,139.0 103.25,143.9 104,146.5 104.75,149.7 105.5,152.2 106.25,155.9 107,155.5 107.75,159.4 108.5,161.1 109.25,159.1 110,160.8 110.75,160.5 111.5,162.7 112.25,163.4 113,163.9 113.75,165.6 114.5,165.1 115.25,163.9 116,165.0 116.75,163.4 117.5,165.4 118.25,164.1 119,164.0 119.75,163.3 120.5,165.3 121.25,163.1 122,165.2 122.75,163.0 123.5,164.2 124.25,162.8 125,165.1 125.75,164.7 126.5,166.7 127.25,162.6 128,166.2 128.75,165.0 129.5,164.2 130.25,165.3 131,163.4 131.75,166.4 132.5,163.0 133.25,163.8 134,166.9 134.75,166.3 135.5,164.9 136.25,165.1 137,163.7 137.75,163.0 138.5,160.5 139.25,157.2 140,151.4 140.75,147.0 141.5,138.4 142.25,134.3 143,130.5 143.75,130.4 144.5,134.1 145.25,137.7 146,142.4 146.75,148.2 147.5,153.2 148.25,154.9 149,159.3 149.75,162.3 150.5,159.5 151.25,159.6 152,159.9 152.75,157.4 153.5,154.4 154.25,149.6 155,145.5 155.75,143.8 156.5,138.0 157.25,130.9 158,124.9 158.75,123.5 159.5,122.6 160.25,123.0 161,123.0 161.75,126.7 162.5,128.7 163.25,133.4 164,138.2 164.75,144.3 165.5,145.1 166.25,148.5 167,154.6 167.75,155.2 168.5,156.6 169.25,159.4 170,160.8 170.75,160.0 171.5,162.7 172.25,164.7 173,163.1 173.75,164.6 174.5,162.2 175.25,162.8 176,164.3 176.75,165.7 177.5,163.5 178.25,162.5 179,165.5 179.75,164.9 180.5,164.1 181.25,163.8 182,166.5 182.75,163.8 183.5,164.8 184.25,165.6 185,165.7 185.75,163.4 186.5,164.9 187.25,163.5 188,166.4 188.75,166.8 189.5,164.7 190.25,167.2 191,164.8 191.75,166.6 192.5,165.8 193.25,164.0 194,165.7 194.75,164.4 195.5,164.5 196.25,164.7 197,162.9 197.75,165.9 198.5,162.1 199.25,160.8 200,159.2 200.75,156.4 201.5,152.4 202.25,144.2 203,139.8 203.75,131.9 204.5,133.0 205.25,131.5 206,133.8 206.75,139.3 207.5,146.5 208.25,150.8 209,157.1 209.75,157.0 210.5,160.4 211.25,160.0 212,161.3 212.75,162.4 213.5,158.9 214.25,156.7 215,152.7 215.75,148.6 216.5,145.6 217.25,138.7 218,134.2 218.75,131.3 219.5,125.7 220.25,124.2 221,124.0 221.75,122.3 222.5,126.0 223.25,126.3 224,132.3 224.75,136.4 225.5,142.1 226.25,143.9 227,149.2 227.75,149.7 228.5,155.7 229.25,156.3 230,159.0 230.75,162.0 231.5,161.4 232.25,160.7 233,163.7 233.75,162.0 234.5,165.9 235.25,165.0 236,165.2 236.75,162.8 237.5,165.7 238.25,164.9 239,165.6 239.75,162.8 240.5,166.4 241.25,163.0 242,163.8 242.75,165.5 243.5,165.1 244.25,163.0 245,165.9 245.75,163.8 246.5,164.3 247.25,167.0 248,165.6 248.75,164.1 249.5,166.1 250.25,166.1 251,163.1 251.75,163.4 252.5,166.6 253.25,165.4 254,165.8 254.75,165.2 255.5,166.9 256.25,163.8 257,163.2 257.75,163.5 258.5,163.3 259.25,164.6 260,163.1 260.75,162.6 261.5,158.8 262.25,153.7 263,149.9 263.75,142.6 264.5,139.5 265.25,133.2 266,133.0 266.75,132.1 267.5,134.7 268.25,140.0 269,146.3 269.75,150.8 270.5,157.1 271.25,160.8 272,161.3 272.75,162.1 273.5,161.5 274.25,161.2 275,160.1 275.75,156.4 276.5,154.0 277.25,147.8 278,146.3 278.75,138.6 279.5,134.0 280.25,127.3 281,123.3 281.75,123.6 282.5,123.8 283.25,123.9 284,125.8 284.75,128.8 285.5,134.2 286.25,135.4 287,142.8 287.75,145.9 288.5,149.0 289.25,151.8 290,157.5 290.75,157.8 291.5,159.8 292.25,160.6 293,164.0 293.75,160.6 294.5,163.2 295.25,164.1 296,165.3 296.75,165.6 297.5,165.2 298.25,162.5 299,165.5 299.75,164.2 300.5,162.8 301.25,166.8 302,163.1 302.75,165.7 303.5,166.5 304.25,166.6 305,163.1 305.75,166.5 306.5,163.5 307.25,166.4 308,164.4 308.75,163.3 309.5,166.0 310.25,163.6 311,166.7 311.75,164.1 312.5,163.3 313.25,163.4 314,166.8 314.75,165.2 315.5,166.2 316.25,165.9 317,164.4 317.75,164.5 318.5,163.7 319.25,164.7 320,163.7 320.75,166.8 321.5,163.9 322.25,162.1 323,157.3 323.75,153.6 324.5,145.7 325.25,141.6 326,138.2 326.75,133.5 327.5,131.2 328.25,134.8 329,139.3 329.75,145.0 330.5,150.1 331.25,156.2 332,158.0 332.75,162.6 333.5,163.7 334.25,162.5 335,159.6 335.75,159.0 336.5,158.4 337.25,155.1 338,153.0 338.75,146.9 339.5,144.4 340.25,138.8 341,131.8 341.75,129.8 342.5,126.1 343.25,123.0 344,122.3 344.75,125.2 345.5,127.3 346.25,131.7 347,134.7 347.75,140.3 348.5,142.9 349.25,149.1 350,152.0 350.75,156.0 351.5,156.0 352.25,160.2 353,158.8 353.75,163.4 354.5,162.0 355.25,165.3 356,161.9 356.75,164.5 357.5,165.0 358.25,165.5 359,162.8 359.75,165.3 360.5,163.5 361.25,163.3 362,167.0 362.75,164.7 363.5,166.8 364.25,163.1 365,164.6 365.75,164.2 366.5,167.5 367.25,166.0 368,164.1 368.75,163.5 369.5,166.6 370.25,167.3 371,164.5 371.75,167.4 372.5,165.1 373.25,164.8 374,165.6 374.75,167.5 375.5,164.0 376.25,165.9 377,167.5 377.75,167.7 378.5,167.7 379.25,166.6 380,165.5 380.75,166.2 381.5,163.6 382.25,165.0 383,163.9 383.75,166.2 384.5,166.8 385.25,164.2 386,163.6 386.75,165.3 387.5,160.9 388.25,161.0 389,158.7 389.75,159.3 390.5,156.8 391.25,156.5 392,158.1 392.75,161.7 393.5,162.3 394.25,160.0 395,160.4 395.75,161.4 396.5,154.9 397.25,151.4 398,142.9 398.75,145.9 399.5,149.6 400.25,153.2 401,155.7 401.75,157.1 402.5,158.1 403.25,157.6 404,156.2 404.75,156.0 405.5,158.0 406.25,159.7 407,158.9 407.75,158.3 408.5,159.8 409.25,159.8 410,161.0 410.75,161.9 411.5,161.8 412.25,159.0 413,161.5 413.75,163.6 414.5,163.8 415.25,164.7 416,164.0 416.75,163.2 417.5,166.9 418.25,163.5 419,166.7 419.75,164.8 420.5,167.3 421.25,165.2 422,167.3 422.75,167.4 423.5,164.3 424.25,164.0 425,165.3 425.75,167.8 426.5,168.3 427.25,167.9 428,166.5 428.75,166.5 429.5,167.3 430.25,166.1 431,166.5 431.75,167.8 432.5,165.4 433.25,167.2 434,165.9 434.75,167.7 435.5,165.2 436.25,166.5 437,165.5 437.75,166.6 438.5,164.8 439.25,164.6 440,164.4 440.75,167.0 441.5,165.0 442.25,164.6 443,164.3 443.75,165.0 444.5,167.6 445.25,165.3 446,165.8 446.75,163.1 447.5,161.9 448.25,164.9 449,163.6 449.75,162.7 450.5,161.0 451.25,160.5 452,159.5 452.75,159.0 453.5,157.4 454.25,159.4 455,160.3 455.75,161.0 456.5,162.4 457.25,160.8 458,155.2 458.75,149.4 459.5,143.9 460.25,149.7 461,151.7 461.75,153.5 462.5,156.8 463.25,154.6 464,156.5 464.75,157.0 465.5,156.8 466.25,158.6 467,156.9 467.75,156.9 468.5,160.3 469.25,158.0 470,161.1 470.75,161.3 471.5,160.8 472.25,160.0 473,161.8 473.75,161.4 474.5,163.0 475.25,163.1 476,164.8 476.75,164.0 477.5,163.0 478.25,166.0 479,167.1 479.75,166.8 480.5,167.4 481.25,166.7 482,166.8 482.75,167.8 483.5,167.6 484.25,164.7 485,166.0 485.75,165.2 486.5,164.7 487.25,167.8 488,165.8 488.75,167.3 489.5,165.1 490.25,165.0 491,166.0 491.75,165.1 492.5,168.5 493.25,168.7 494,165.9 494.75,166.0 495.5,168.2 496.25,168.5 497,166.4 497.75,167.2 498.5,165.9 499.25,167.9 500,166.6 500.75,167.1 501.5,166.3 502.25,166.3 503,164.8 503.75,165.1 504.5,167.6 505.25,164.3 506,166.4 506.75,164.1 507.5,166.3 508.25,164.4 509,164.8 509.75,163.0 510.5,160.8 511.25,158.2 512,158.3 512.75,158.7 513.5,159.2 514.25,158.7 515,158.8 515.75,161.6 516.5,161.9 517.25,162.1 518,161.4 518.75,157.8 519.5,154.0 520.25,145.0 521,142.4 521.75,149.2 522.5,151.1 523.25,154.8 524,154.6 524.75,158.3 525.5,158.7 526.25,159.9 527,159.8 527.75,158.5 528.5,160.5 529.25,157.5 530,158.5 530.75,161.3 531.5,157.9 532.25,158.1 533,161.1 533.75,161.0 534.5,163.3 535.25,162.4 536,161.5 536.75,165.0 537.5,164.5 538.25,165.9 539,166.0 539.75,163.6 540.5,167.2 541.25,167.4 542,164.7 542.75,166.6 543.5,166.5 544.25,167.2 545,165.7 545.75,167.5 546.5,166.4 547.25,165.0 548,167.1 548.75,166.7 549.5,166.5 550.25,168.4 551,168.1 551.75,165.5 552.5,166.5 553.25,164.9 554,164.6 554.75,166.3 555.5,167.1 556.25,166.2 557,165.1 557.75,166.0 558.5,168.2 559.25,164.6 560,165.7 560.75,166.0 561.5,165.9 562.25,167.8 563,168.0 563.75,168.1 564.5,164.7 565.25,167.8 566,165.3 566.75,166.7 567.5,164.6 568.25,167.4 569,165.2 569.75,164.9 570.5,162.1 571.25,161.0 572,161.9 572.75,160.2 573.5,160.8 574.25,158.6 575,156.6 575.75,160.5 576.5,160.1 577.25,161.1 578,160.8 578.75,161.3 579.5,162.2 580.25,155.4 581,150.6 581.75,143.8 582.5,148.1 583.25,153.2 584,153.3 584.75,157.4 585.5,155.8 586.25,158.4 587,159.2 587.75,159.0 588.5,159.9 589.25,157.2 590,160.7 590.75,160.6 591.5,161.8 592.25,159.6 593,161.3 593.75,160.0 594.5,159.0 595.25,162.3 596,160.3 596.75,160.8 597.5,162.1 598.25,164.4 599,166.6 599.75,166.0 600.5,163.8 601.25,168.0 602,167.5 602.75,164.3 603.5,168.6 604.25,164.7 605,168.2 605.75,167.0 606.5,166.0 607.25,166.5 608,164.9 608.75,167.4 609.5,166.2 610.25,165.2 611,165.3 611.75,166.8 612.5,166.3 613.25,166.5 614,166.0 614.75,166.0 615.5,166.5 616.25,166.7 617,168.1 617.75,166.4 618.5,166.4 619.25,168.4 620,169.0 620.75,166.3 621.5,168.8 622.25,164.8 623,165.1 623.75,167.0 624.5,166.8 625.25,167.3 626,166.3 626.75,167.1 627.5,168.7 628.25,167.6 629,166.0 629.75,166.2 630.5,163.8 631.25,159.4 632,156.9 632.75,151.8 633.5,145.4 634.25,138.9 635,135.3 635.75,129.5 636.5,130.7 637.25,131.1 638,135.6 638.75,144.0 639.5,148.2 640.25,156.7 641,160.2 641.75,160.5 642.5,161.1 643.25,161.9 644,161.6 644.75,161.5 645.5,159.9 646.25,154.3 647,154.2 647.75,146.8 648.5,142.0 649.25,139.6 650,131.1 650.75,128.0 651.5,125.6 652.25,123.4 653,124.6 653.75,125.5 654.5,129.8 655.25,132.6 656,135.8 656.75,141.4 657.5,145.3 658.25,150.0 659,154.1 659.75,154.0 660.5,157.3 661.25,159.0 662,160.1 662.75,163.5 663.5,161.8 664.25,162.3 665,163.7 665.75,164.7 666.5,166.5 667.25,166.2 668,164.3 668.75,165.8 669.5,164.4 670.25,164.0 671,167.0 671.75,165.8 672.5,167.8 673.25,168.0 674,167.0 674.75,167.4 675.5,168.8 676.25,165.4 677,166.0 677.75,165.2 678.5,166.5 679.25,166.2 680,168.1 680.75,165.1 681.5,166.0 682.25,168.7 683,166.3 683.75,168.0 684.5,166.1 685.25,168.6 686,167.5 686.75,169.1 687.5,166.0 688.25,165.1 689,166.2 689.75,166.1 690.5,167.6 691.25,169.1 692,169.0 692.75,167.1 693.5,166.1 694.25,168.7 695,168.0 695.75,165.6 696.5,166.4 697.25,167.4 698,168.7 698.75,165.8 699.5,165.3 700.25,166.8" stroke="#2f74d4"/>
<polyline points="5,156.1 5.75,155.8 6.5,155.5 7.25,157.8 8,157.5 8.75,157.4 9.5,155.3 10.25,155.8 11,155.8 11.75,155.2 12.5,154.5 13.25,155.9 14,155.5 14.75,155.9 15.5,158.5 16.25,155.1 17,156.4 17.75,158.3 18.5,155.5 19.25,154.5 20,158.3 20.75,154.6 21.5,155.5 22.25,154.6 23,154.4 23.75,157.8 24.5,155.2 25.25,154.7 26,155.3 26.75,155.2 27.5,158.7 28.25,156.5 29,158.3 29.75,157.1 30.5,155.3 31.25,157.9 32,154.5 32.75,158.0 33.5,158.3 34.25,156.5 35,156.6 35.75,156.0 36.5,158.2 37.25,157.6 38,157.8 38.75,156.2 39.5,154.6 40.25,154.7 41,158.4 41.75,155.4 42.5,156.7 43.25,156.9 44,154.4 44.75,158.4 45.5,155.7 46.25,158.2 47,157.6 47.75,154.7 48.5,156.4 49.25,158.9 50,156.7 50.75,156.5 51.5,158.2 52.25,157.7 53,156.6 53.75,154.7 54.5,157.7 55.25,158.5 56,155.6 56.75,157.5 57.5,155.7 58.25,156.2 59,156.6 59.75,157.2 60.5,154.9 61.25,158.4 62,158.7 62.75,156.3 63.5,155.4 64.25,157.8 65,155.3 65.75,156.3 66.5,158.5 67.25,154.9 68,154.9 68.75,156.5 69.5,156.0 70.25,158.3 71,157.4 71.75,155.7 72.5,157.8 73.25,158.8 74,157.1 74.75,155.2 75.5,155.9 76.25,156.4 77,152.8 77.75,150.8 78.5,143.0 79.25,137.9 80,132.3 80.75,126.1 81.5,119.9 82.25,118.6 83,119.6 83.75,123.7 84.5,127.5 85.25,137.7 86,140.6 86.75,148.7 87.5,151.7 88.25,150.9 89,151.6 89.75,153.4 90.5,152.7 91.25,149.6 92,147.2 92.75,141.7 93.5,140.6 94.25,132.9 95,129.4 95.75,119.8 96.5,117.4 97.25,110.5 98,109.2 98.75,108.4 99.5,108.8 100.25,111.9 101,115.9 101.75,120.6 102.5,127.1 103.25,132.4 104,133.0 104.75,139.5 105.5,140.7 106.25,143.9 107,148.9 107.75,149.6 108.5,150.7 109.25,153.3 110,153.7 110.75,155.3 111.5,155.4 112.25,155.7 113,156.3 113.75,154.2 114.5,154.4 115.25,155.1 116,154.7 116.75,157.3 117.5,154.2 118.25,155.6 119,156.4 119.75,156.4 120.5,154.4 121.25,155.1 122,157.3 122.75,158.3 123.5,156.0 124.25,156.5 125,154.6 125.75,157.2 126.5,158.3 127.25,158.2 128,158.0 128.75,157.1 129.5,157.8 130.25,155.1 131,157.9 131.75,155.7 132.5,155.5 133.25,154.9 134,155.7 134.75,158.3 135.5,155.5 136.25,155.6 137,157.1 137.75,155.0 138.5,150.2 139.25,147.4 140,142.3 140.75,134.2 141.5,126.9 142.25,123.7 143,120.0 143.75,116.3 144.5,118.9 145.25,123.5 146,130.3 146.75,136.2 147.5,141.9 148.25,148.3 149,151.7 149.75,153.8 150.5,152.5 151.25,152.6 152,149.5 152.75,148.8 153.5,146.3 154.25,143.3 155,136.9 155.75,131.4 156.5,122.5 157.25,119.1 158,112.4 158.75,109.9 159.5,109.2 160.25,108.0 161,110.8 161.75,111.4 162.5,118.7 163.25,123.8 164,127.3 164.75,133.6 165.5,135.4 166.25,140.1 167,144.8 167.75,148.1 168.5,148.6 169.25,149.2 170,152.0 170.75,151.4 171.5,153.5 172.25,155.8 173,155.3 173.75,156.5 174.5,155.3 175.25,156.1 176,154.1 176.75,157.5 177.5,158.4 178.25,155.0 179,156.9 179.75,155.0 180.5,155.6 181.25,155.5 182,156.6 182.75,155.3 183.5,158.4 184.25,157.2 185,158.4 185.75,155.9 186.5,157.8 187.25,157.4 188,155.4 188.75,154.8 189.5,156.6 190.25,155.7 191,156.2 191.75,155.2 192.5,157.8 193.25,157.8 194,156.3 194.75,159.2 195.5,159.2 196.25,156.8 197,158.7 197.75,155.6 198.5,154.4 199.25,153.6 200,151.3 200.75,148.0 201.5,139.9 202.25,133.8 203,127.5 203.75,124.8 204.5,120.4 205.25,121.5 206,125.6 206.75,127.2 207.5,133.9 208.25,139.7 209,147.5 209.75,152.2 210.5,152.8 211.25,153.3 212,152.4 212.75,152.1 213.5,152.5 214.25,148.6 215,145.5 215.75,139.6 216.5,134.2 217.25,130.4 218,123.1 218.75,115.4 219.5,114.2 220.25,110.9 221,108.1 221.75,108.7 222.5,112.6 223.25,114.4 224,120.3 224.75,122.6 225.5,127.3 226.25,133.4 227,140.0 227.75,140.7 228.5,145.5 229.25,148.8 230,151.7 230.75,152.2 231.5,152.6 232.25,152.9 233,154.3 233.75,155.1 234.5,155.1 235.25,154.8 236,155.3 236.75,155.8 237.5,155.0 238.25,155.6 239,158.4 239.75,155.3 240.5,158.1 241.25,158.6 242,155.9 242.75,157.4 243.5,158.4 244.25,158.0 245,155.9 245.75,157.7 246.5,155.5 247.25,159.4 248,155.3 248.75,157.2 249.5,155.6 250.25,156.7 251,159.2 251.75,157.0 252.5,156.3 253.25,158.8 254,157.9 254.75,159.6 255.5,157.0 256.25,159.3 257,157.3 257.75,157.6 258.5,159.4 259.25,155.5 260,156.9 260.75,151.7 261.5,150.9 262.25,147.5 263,140.4 263.75,132.9 264.5,127.4 265.25,121.0 266,122.0 266.75,121.1 267.5,125.8 268.25,128.5 269,137.6 269.75,141.5 270.5,148.6 271.25,150.9 272,152.4 272.75,154.8 273.5,152.1 274.25,151.6 275,150.8 275.75,147.1 276.5,142.8 277.25,142.0 278,134.8 278.75,129.7 279.5,123.6 280.25,115.2 281,111.0 281.75,108.3 282.5,109.1 283.25,113.1 284,115.2 284.75,118.9 285.5,121.9 286.25,127.6 287,130.8 287.75,137.7 288.5,140.1 289.25,145.2 290,147.4 290.75,148.2 291.5,153.0 292.25,153.8 293,152.0 293.75,155.8 294.5,154.5 295.25,155.6 296,155.5 296.75,157.4 297.5,158.3 298.25,157.0 299,155.0 299.75,156.3 300.5,156.1 301.25,158.2 302,158.4 302.75,158.4 303.5,158.7 304.25,157.5 305,155.7 305.75,155.9 306.5,157.9 307.25,157.5 308,156.9 308.75,156.6 309.5,159.7 310.25,156.2 311,159.6 311.75,156.0 312.5,156.5 313.25,160.1 314,156.4 314.75,159.0 315.5,158.6 316.25,159.7 317,156.0 317.75,156.8 318.5,158.6 319.25,156.4 320,159.8 320.75,158.8 321.5,157.5 322.25,153.2 323,150.6 323.75,144.3 324.5,137.0 325.25,132.5 326,124.2 326.75,120.9 327.5,122.2 328.25,121.3 329,126.0 329.75,131.6 330.5,141.6 331.25,144.3 332,150.5 332.75,151.7 333.5,152.1 334.25,153.1 335,153.9 335.75,149.9 336.5,150.1 337.25,146.0 338,144.6 338.75,140.1 339.5,133.5 340.25,128.4 341,120.7 341.75,116.3 342.5,111.6 343.25,113.0 344,111.4 344.75,112.6 345.5,117.9 346.25,120.0 347,124.7 347.75,131.2 348.5,133.8 349.25,140.2 350,140.7 350.75,146.0 351.5,148.4 352.25,151.5 353,152.4 353.75,152.3 354.5,154.7 355.25,155.9 356,154.1 356.75,158.3 357.5,156.4 358.25,155.0 359,158.6 359.75,155.7 360.5,158.3 361.25,156.8 362,159.8 362.75,157.5 363.5,156.9 364.25,159.2 365,158.9 365.75,158.8 366.5,158.0 367.25,158.9 368,156.3 368.75,159.3 369.5,159.4 370.25,157.2 371,158.2 371.75,159.1 372.5,160.2 373.25,157.1 374,158.3 374.75,157.0 375.5,158.7 376.25,158.8 377,158.4 377.75,157.0 378.5,156.5 379.25,157.4 380,159.8 380.75,159.0 381.5,156.8 382.25,156.4 383,158.6 383.75,157.8 384.5,158.3 385.25,156.3 386,156.9 386.75,157.1 387.5,154.9 388.25,153.7 389,152.9 389.75,152.5 390.5,151.1 391.25,153.3 392,149.9 392.75,153.8 393.5,154.1 394.25,154.2 395,153.0 395.75,153.2 396.5,147.7 397.25,143.0 398,137.3 398.75,141.2 399.5,143.7 400.25,144.3 401,146.9 401.75,149.9 402.5,151.5 403.25,149.9 404,151.8 404.75,149.1 405.5,149.5 406.25,153.7 407,150.7 407.75,150.4 408.5,150.1 409.25,154.3 410,152.8 410.75,152.8 411.5,155.2 412.25,152.3 413,154.2 413.75,153.4 414.5,157.1 415.25,157.0 416,155.9 416.75,158.1 417.5,159.9 418.25,158.4 419,156.5 419.75,158.4 420.5,157.8 421.25,159.5 422,157.8 422.75,160.9 423.5,159.2 424.25,159.3 425,158.4 425.75,156.9 426.5,160.9 427.25,159.7 428,160.7 428.75,157.0 429.5,158.6 430.25,159.3 431,159.4 431.75,157.3 432.5,159.9 433.25,159.9 434,157.3 434.75,158.5 435.5,160.7 436.25,160.3 437,160.2 437.75,158.7 438.5,157.3 439.25,158.9 440,158.0 440.75,157.2 441.5,159.5 442.25,158.4 443,158.6 443.75,159.8 444.5,156.8 445.25,157.2 446,157.1 446.75,158.6 447.5,155.1 448.25,157.7 449,154.4 449.75,155.7 450.5,153.3 451.25,153.0 452,151.4 452.75,150.1 453.5,154.4 454.25,154.5 455,153.7 455.75,154.5 456.5,157.1 457.25,153.3 458,148.0 458.75,141.4 459.5,140.3 460.25,142.6 461,143.7 461.75,148.7 462.5,150.2 463.25,150.9 464,148.7 464.75,149.6 465.5,151.0 466.25,152.5 467,153.1 467.75,152.1 468.5,154.1 469.25,153.5 470,152.0 470.75,153.7 471.5,151.2 472.25,153.5 473,156.1 473.75,156.1 474.5,154.5 475.25,154.1 476,157.9 476.75,157.3 477.5,157.8 478.25,157.4 479,158.0 479.75,157.4 480.5,156.9 481.25,159.9 482,160.2 482.75,158.0 483.5,157.8 484.25,158.8 485,159.7 485.75,160.2 486.5,157.2 487.25,158.7 488,159.2 488.75,159.6 489.5,158.3 490.25,160.6 491,161.3 491.75,161.0 492.5,161.3 493.25,160.0 494,157.6 494.75,157.5 495.5,157.4 496.25,158.4 497,159.7 497.75,158.3 498.5,158.2 499.25,158.8 500,159.1 500.75,159.3 501.5,161.5 502.25,160.4 503,159.7 503.75,159.2 504.5,158.3 505.25,158.3 506,160.2 506.75,160.4 507.5,158.2 508.25,156.3 509,155.6 509.75,155.2 510.5,154.1 511.25,151.5 512,150.2 512.75,152.4 513.5,153.1 514.25,151.1 515,153.8 515.75,155.3 516.5,154.6 517.25,156.0 518,153.5 518.75,150.1 519.5,146.5 520.25,142.4 521,139.3 521.75,144.0 522.5,145.4 523.25,147.6 524,148.5 524.75,150.2 525.5,150.0 526.25,152.9 527,153.2 527.75,150.1 528.5,152.9 529.25,151.2 530,152.8 530.75,153.5 531.5,153.0 532.25,153.7 533,155.0 533.75,154.3 534.5,156.0 535.25,156.9 536,154.4 536.75,156.5 537.5,157.9 538.25,157.5 539,158.2 539.75,159.0 540.5,159.0 541.25,157.7 542,160.0 542.75,159.6 543.5,159.1 544.25,159.8 545,159.6 545.75,160.5 546.5,160.8 547.25,159.2 548,160.1 548.75,160.7 549.5,159.3 550.25,157.5 551,159.1 551.75,161.8 552.5,160.4 553.25,158.5 554,158.6 554.75,158.6 555.5,159.3 556.25,159.9 557,158.5 557.75,159.6 558.5,159.8 559.25,160.9 560,161.8 560.75,161.8 561.5,161.4 562.25,159.0 563,161.4 563.75,161.1 564.5,159.5 565.25,160.5 566,160.5 566.75,157.1 567.5,158.3 568.25,157.9 569,156.1 569.75,157.4 570.5,156.2 571.25,156.5 572,152.6 572.75,155.4 573.5,153.0 574.25,151.4 575,150.2 575.75,154.9 576.5,153.6 577.25,153.2 578,155.7 578.75,154.2 579.5,156.6 580.25,150.7 581,146.8 581.75,140.9 582.5,142.3 583.25,145.8 584,145.7 584.75,150.1 585.5,150.3 586.25,152.6 587,152.8 587.75,153.0 588.5,153.1 589.25,151.6 590,151.6 590.75,154.8 591.5,152.1 592.25,154.9 593,154.4 593.75,155.0 594.5,152.5 595.25,153.8 596,156.9 596.75,157.1 597.5,155.6 598.25,156.0 599,158.1 599.75,159.1 600.5,157.5 601.25,160.2 602,159.6 602.75,158.3 603.5,158.2 604.25,157.9 605,161.0 605.75,160.4 606.5,159.2 607.25,159.9 608,160.9 608.75,160.9 609.5,159.2 610.25,158.0 611,161.3 611.75,159.9 612.5,160.5 613.25,157.7 614,157.7 614.75,161.2 615.5,158.5 616.25,158.7 617,161.7 617.75,160.1 618.5,158.5 619.25,159.0 620,160.6 620.75,160.9 621.5,161.5 622.25,158.5 623,160.6 623.75,161.9 624.5,157.9 625.25,159.1 626,161.5 626.75,160.0 627.5,160.5 628.25,159.9 629,157.7 629.75,159.6 630.5,155.1 631.25,155.1 632,147.5 632.75,142.9 633.5,138.7 634.25,129.4 635,124.3 635.75,122.1 636.5,118.5 637.25,121.4 638,127.0 638.75,135.1 639.5,139.9 640.25,145.3 641,152.9 641.75,153.7 642.5,155.7 643.25,155.4 644,157.0 644.75,151.9 645.5,149.6 646.25,150.0 647,144.2 647.75,140.3 648.5,134.9 649.25,128.3 650,122.4 650.75,118.0 651.5,114.1 652.25,112.9 653,113.6 653.75,117.4 654.5,121.0 655.25,121.9 656,129.1 656.75,133.9 657.5,137.6 658.25,142.1 659,143.7 659.75,148.2 660.5,149.1 661.25,153.7 662,156.1 662.75,156.5 663.5,157.0 664.25,157.4 665,159.0 665.75,157.3 666.5,157.3 667.25,157.6 668,159.4 668.75,158.1 669.5,158.3 670.25,157.6 671,161.2 671.75,161.0 672.5,158.4 673.25,161.0 674,159.2 674.75,161.2 675.5,161.8 676.25,159.7 677,158.6 677.75,161.4 678.5,159.8 679.25,161.5 680,161.9 680.75,158.5 681.5,159.2 682.25,158.6 683,160.8 683.75,157.9 684.5,162.1 685.25,159.8 686,158.1 686.75,161.1 687.5,158.8 688.25,160.4 689,159.2 689.75,158.2 690.5,161.9 691.25,160.7 692,158.9 692.75,161.6 693.5,161.3 694.25,158.9 695,161.0 695.75,161.4 696.5,159.5 697.25,159.6 698,158.7 698.75,161.2 699.5,160.2 700.25,158.7" stroke="#6a703a"/>
<polyline points="5,165.7 5.75,164.3 6.5,163.0 7.25,163.4 8,161.8 8.75,163.8 9.5,165.6 10.25,166.8 11,163.9 11.75,166.5 12.5,163.2 13.25,164.7 14,164.3 14.75,162.0 15.5,165.3 16.25,162.7 17,161.7 17.75,163.2 18.5,166.2 19.25,165.1 20,166.3 20.75,166.6 21.5,164.5 22.25,166.8 23,165.5 23.75,164.8 24.5,166.1 25.25,166.1 26,165.0 26.75,164.1 27.5,166.7 28.25,163.1 29,165.7 29.75,162.3 30.5,165.0 31.25,163.9 32,166.3 32.75,163.4 33.5,164.5 34.25,164.4 35,162.1 35.75,163.1 36.5,166.1 37.25,163.2 38,164.0 38.75,163.8 39.5,164.2 40.25,166.0 41,162.5 41.75,163.2 42.5,163.4 43.25,164.6 44,162.3 44.75,165.0 45.5,162.2 46.25,166.1 47,164.8 47.75,163.7 48.5,165.9 49.25,161.7 50,163.5 50.75,162.2 51.5,165.4 52.25,162.0 53,166.9 53.75,162.9 54.5,164.7 55.25,165.0 56,163.2 56.75,163.0 57.5,167.0 58.25,166.9 59,166.7 59.75,165.7 60.5,166.4 61.25,164.1 62,164.2 62.75,166.7 63.5,162.7 64.25,165.8 65,164.0 65.75,163.3 66.5,162.8 67.25,165.1 68,164.5 68.75,165.0 69.5,163.9 70.25,164.7 71,165.0 71.75,162.4 72.5,162.6 73.25,162.6 74,165.4 74.75,164.7 75.5,162.1 76.25,160.0 77,157.6 77.75,156.4 78.5,151.0 79.25,144.4 80,138.8 80.75,131.1 81.5,123.7 82.25,124.8 83,125.2 83.75,129.7 84.5,132.0 85.25,141.8 86,149.1 86.75,153.9 87.5,157.7 88.25,159.6 89,159.2 89.75,158.1 90.5,157.8 91.25,155.2 92,154.3 92.75,151.3 93.5,142.9 94.25,137.8 95,134.3 95.75,129.3 96.5,120.7 97.25,118.3 98,116.1 98.75,115.5 99.5,115.8 100.25,120.5 101,119.9 101.75,126.7 102.5,132.1 103.25,139.0 104,140.0 104.75,145.1 105.5,149.1 106.25,150.6 107,155.5 107.75,156.8 108.5,158.2 109.25,161.3 110,159.4 110.75,159.1 111.5,161.8 112.25,164.0 113,162.3 113.75,164.5 114.5,165.3 115.25,164.7 116,165.0 116.75,165.6 117.5,164.7 118.25,165.5 119,165.7 119.75,164.2 120.5,161.8 121.25,163.3 122,165.9 122.75,161.4 123.5,165.1 124.25,165.1 125,165.7 125.75,166.5 126.5,163.4 127.25,163.3 128,163.2 128.75,163.1 129.5,164.0 130.25,164.6 131,164.4 131.75,164.6 132.5,164.3 133.25,166.2 134,163.9 134.75,162.9 135.5,161.7 136.25,163.6 137,163.4 137.75,164.1 138.5,160.6 139.25,152.9 140,146.9 140.75,139.8 141.5,132.3 142.25,130.7 143,124.7 143.75,124.1 144.5,124.5 145.25,132.2 146,136.3 146.75,146.2 147.5,151.3 148.25,154.2 149,159.1 149.75,157.4 150.5,157.6 151.25,158.9 152,157.3 152.75,157.0 153.5,150.7 154.25,151.6 155,144.0 155.75,140.7 156.5,130.2 157.25,123.4 158,121.7 158.75,119.6 159.5,114.8 160.25,118.3 161,115.6 161.75,118.9 162.5,123.0 163.25,130.2 164,135.1 164.75,138.5 165.5,145.5 166.25,148.9 167,150.6 167.75,154.9 168.5,154.9 169.25,156.5 170,162.1 170.75,158.9 171.5,159.5 172.25,161.8 173,161.5 173.75,161.7 174.5,162.9 175.25,161.1 176,165.9 176.75,163.8 177.5,163.8 178.25,161.4 179,164.6 179.75,166.4 180.5,166.5 181.25,163.9 182,166.1 182.75,162.7 183.5,162.6 184.25,166.4 185,163.6 185.75,164.0 186.5,161.8 187.25,166.9 188,162.4 188.75,165.4 189.5,164.8 190.25,164.1 191,164.8 191.75,162.5 192.5,167.1 193.25,162.8 194,163.7 194.75,166.4 195.5,162.2 196.25,165.4 197,162.5 197.75,164.9 198.5,164.2 199.25,159.1 200,157.9 200.75,154.9 201.5,148.8 202.25,139.8 203,130.5 203.75,126.6 204.5,124.6 205.25,124.7 206,124.4 206.75,132.7 207.5,140.3 208.25,147.2 209,152.8 209.75,153.7 210.5,160.6 211.25,162.2 212,159.7 212.75,158.6 213.5,159.9 214.25,154.3 215,151.5 215.75,145.3 216.5,140.5 217.25,133.9 218,130.4 218.75,125.0 219.5,119.3 220.25,114.4 221,113.0 221.75,118.1 222.5,115.9 223.25,119.4 224,123.5 224.75,130.6 225.5,135.3 226.25,139.6 227,145.6 227.75,150.0 228.5,150.7 229.25,156.2 230,159.8 230.75,158.4 231.5,160.6 232.25,159.8 233,164.8 233.75,160.5 234.5,162.8 235.25,162.4 236,163.3 236.75,164.7 237.5,166.1 238.25,163.7 239,166.0 239.75,164.2 240.5,162.6 241.25,163.6 242,165.4 242.75,164.2 243.5,163.2 244.25,163.6 245,163.4 245.75,165.9 246.5,164.0 247.25,167.2 248,163.5 248.75,167.1 249.5,165.3 250.25,162.8 251,167.0 251.75,164.3 252.5,166.1 253.25,162.6 254,162.8 254.75,163.0 255.5,166.5 256.25,165.7 257,165.9 257.75,163.0 258.5,166.0 259.25,164.8 260,160.2 260.75,159.8 261.5,154.5 262.25,152.3 263,143.7 263.75,136.8 264.5,131.5 265.25,127.2 266,122.3 266.75,121.8 267.5,129.8 268.25,135.4 269,142.9 269.75,148.1 270.5,154.7 271.25,159.0 272,157.7 272.75,158.5 273.5,160.4 274.25,159.7 275,157.6 275.75,153.3 276.5,149.4 277.25,146.0 278,139.0 278.75,135.7 279.5,125.1 280.25,120.4 281,119.8 281.75,112.9 282.5,117.1 283.25,117.2 284,119.9 284.75,121.8 285.5,127.0 286.25,132.5 287,139.5 287.75,142.4 288.5,146.2 289.25,152.4 290,153.2 290.75,153.6 291.5,159.0 292.25,161.4 293,161.6 293.75,162.2 294.5,164.8 295.25,164.3 296,161.7 296.75,162.0 297.5,162.3 298.25,165.7 299,165.4 299.75,163.3 300.5,165.8 301.25,165.1 302,165.7 302.75,163.9 303.5,167.1 304.25,166.2 305,167.2 305.75,162.3 306.5,163.0 307.25,166.0 308,164.1 308.75,163.1 309.5,163.0 310.25,166.9 311,166.9 311.75,166.5 312.5,163.6 313.25,166.0 314,165.4 314.75,164.4 315.5,166.4 316.25,165.7 317,165.5 317.75,167.2 318.5,165.3 319.25,163.7 320,163.6 320.75,162.0 321.5,162.4 322.25,161.8 323,157.1 323.75,151.6 324.5,144.6 325.25,136.5 326,131.3 326.75,126.5 327.5,124.8 328.25,128.3 329,129.8 329.75,138.3 330.5,144.1 331.25,152.7 332,156.1 332.75,160.4 333.5,162.6 334.25,161.9 335,158.9 335.75,160.1 336.5,155.0 337.25,154.9 338,149.6 338.75,144.4 339.5,140.6 340.25,134.5 341,127.5 341.75,119.8 342.5,119.9 343.25,115.0 344,114.4 344.75,116.4 345.5,123.1 346.25,123.4 347,132.0 347.75,136.2 348.5,140.3 349.25,143.8 350,149.6 350.75,154.3 351.5,156.1 352.25,155.5 353,157.2 353.75,158.7 354.5,159.9 355.25,160.2 356,161.7 356.75,162.2 357.5,165.5 358.25,163.4 359,165.7 359.75,165.5 360.5,164.6 361.25,163.9 362,163.9 362.75,164.6 363.5,164.6 364.25,163.0 365,165.6 365.75,163.8 366.5,165.1 367.25,163.7 368,164.0 368.75,167.0 369.5,165.9 370.25,165.0 371,163.1 371.75,162.6 372.5,164.8 373.25,162.7 374,163.8 374.75,166.7 375.5,166.8 376.25,166.6 377,167.5 377.75,166.7 378.5,164.2 379.25,163.1 380,164.1 380.75,163.7 381.5,166.4 382.25,163.2 383,163.8 383.75,164.3 384.5,162.1 385.25,165.8 386,161.6 386.75,164.6 387.5,160.1 388.25,159.5 389,158.9 389.75,156.5 390.5,156.7 391.25,157.9 392,158.0 392.75,157.4 393.5,161.2 394.25,161.7 395,159.7 395.75,162.2 396.5,157.7 397.25,150.7 398,144.4 398.75,143.3 399.5,147.5 400.25,150.1 401,153.0 401.75,154.8 402.5,154.0 403.25,158.0 404,157.3 404.75,158.7 405.5,158.6 406.25,156.6 407,157.3 407.75,160.6 408.5,157.8 409.25,157.3 410,160.2 410.75,157.5 411.5,158.1 412.25,161.1 413,161.5 413.75,161.7 414.5,164.9 415.25,164.6 416,165.0 416.75,163.1 417.5,165.3 418.25,162.6 419,166.1 419.75,165.5 420.5,163.8 421.25,166.9 422,163.2 422.75,166.1 423.5,165.7 424.25,166.6 425,164.8 425.75,166.4 426.5,167.9 427.25,168.0 428,167.2 428.75,165.1 429.5,166.2 430.25,165.3 431,167.3 431.75,167.4 432.5,164.5 433.25,164.0 434,165.6 434.75,164.8 435.5,168.1 436.25,163.5 437,165.4 437.75,166.2 438.5,167.5 439.25,163.9 440,164.8 440.75,165.2 441.5,165.8 442.25,167.3 443,167.7 443.75,164.2 444.5,163.3 445.25,167.0 446,162.5 446.75,166.2 447.5,163.5 448.25,162.9 449,162.2 449.75,161.5 450.5,159.8 451.25,159.0 452,155.1 452.75,159.6 453.5,161.3 454.25,162.0 455,160.6 455.75,163.8 456.5,160.4 457.25,157.7 458,152.0 458.75,149.0 459.5,141.0 460.25,147.9 461,148.3 461.75,152.5 462.5,156.3 463.25,157.6 464,158.5 464.75,154.8 465.5,156.4 466.25,156.2 467,159.8 467.75,157.4 468.5,157.7 469.25,156.7 470,158.5 470.75,157.0 471.5,159.9 472.25,157.6 473,160.6 473.75,162.1 474.5,163.4 475.25,161.2 476,162.7 476.75,166.0 477.5,165.8 478.25,166.9 479,164.4 479.75,167.6 480.5,167.5 481.25,165.4 482,164.6 482.75,164.8 483.5,164.1 484.25,166.7 485,164.5 485.75,164.7 486.5,166.0 487.25,164.2 488,163.3 488.75,163.7 489.5,164.9 490.25,168.4 491,166.6 491.75,168.4 492.5,164.0 493.25,166.6 494,165.6 494.75,166.9 495.5,165.5 496.25,165.8 497,167.1 497.75,164.3 498.5,167.6 499.25,167.1 500,168.1 500.75,167.6 501.5,163.7 502.25,166.9 503,166.1 503.75,165.4 504.5,165.8 505.25,164.5 506,166.0 506.75,166.8 507.5,163.8 508.25,164.8 509,163.3 509.75,160.0 510.5,160.9 511.25,162.1 512,160.8 512.75,158.9 513.5,159.3 514.25,158.8 515,158.9 515.75,159.3 516.5,162.6 517.25,161.6 518,159.3 518.75,158.5 519.5,149.6 520.25,146.4 521,141.6 521.75,150.1 522.5,153.6 523.25,154.8 524,156.5 524.75,155.7 525.5,154.4 526.25,156.3 527,158.2 527.75,157.1 528.5,155.8 529.25,156.5 530,160.1 530.75,158.8 531.5,158.2 532.25,159.0 533,158.5 533.75,157.7 534.5,160.5 535.25,162.6 536,163.3 536.75,162.3 537.5,164.3 538.25,164.2 539,164.2 539.75,166.7 540.5,163.0 541.25,163.5 542,167.3 542.75,164.3 543.5,164.7 544.25,165.8 545,166.3 545.75,166.2 546.5,165.5 547.25,166.5 548,167.6 548.75,164.9 549.5,165.7 550.25,168.4 551,167.4 551.75,167.9 552.5,165.9 553.25,166.9 554,164.8 554.75,168.2 555.5,168.5 556.25,168.2 557,166.3 557.75,164.2 558.5,167.4 559.25,167.5 560,167.5 560.75,164.4 561.5,167.8 562.25,168.4 563,167.5 563.75,164.1 564.5,163.9 565.25,163.7 566,164.8 566.75,163.6 567.5,166.4 568.25,164.1 569,164.2 569.75,163.0 570.5,165.3 571.25,162.3 572,159.3 572.75,157.3 573.5,157.4 574.25,158.5 575,156.0 575.75,158.1 576.5,162.0 577.25,162.3 578,159.4 578.75,164.3 579.5,158.7 580.25,154.9 581,148.2 581.75,143.6 582.5,147.2 583.25,152.3 584,152.8 584.75,155.5 585.5,156.9 586.25,157.2 587,155.3 587.75,156.1 588.5,156.7 589.25,158.1 590,160.5 590.75,160.9 591.5,161.4 592.25,159.1 593,159.0 593.75,158.7 594.5,159.1 595.25,159.8 596,160.9 596.75,160.3 597.5,162.5 598.25,163.0 599,165.4 599.75,162.1 600.5,167.3 601.25,167.2 602,164.3 602.75,166.5 603.5,164.4 604.25,168.8 605,167.4 605.75,168.9 606.5,166.3 607.25,168.9 608,166.2 608.75,166.1 609.5,168.3 610.25,166.9 611,165.1 611.75,169.2 612.5,168.7 613.25,166.5 614,166.1 614.75,168.7 615.5,165.2 616.25,166.5 617,169.1 617.75,165.7 618.5,165.0 619.25,166.2 620,166.0 620.75,166.9 621.5,165.7 622.25,167.1 623,164.9 623.75,166.1 624.5,165.6 625.25,165.4 626,165.2 626.75,166.3 627.5,167.1 628.25,164.9 629,163.6 629.75,164.6 630.5,162.4 631.25,157.6 632,156.6 632.75,149.6 633.5,140.8 634.25,130.5 635,128.2 635.75,123.1 636.5,122.6 637.25,125.5 638,131.3 638.75,140.5 639.5,144.2 640.25,152.5 641,155.7 641.75,160.7 642.5,160.1 643.25,159.5 644,162.9 644.75,162.0 645.5,156.9 646.25,156.0 647,150.5 647.75,147.2 648.5,139.7 649.25,132.2 650,128.4 650.75,120.3 651.5,117.5 652.25,120.3 653,116.5 653.75,121.0 654.5,123.2 655.25,127.2 656,130.8 656.75,136.0 657.5,141.7 658.25,148.3 659,153.1 659.75,152.0 660.5,154.9 661.25,160.9 662,158.9 662.75,161.0 663.5,162.5 664.25,161.6 665,165.6 665.75,162.4 666.5,164.8 667.25,164.8 668,167.4 668.75,167.3 669.5,163.4 670.25,164.3 671,163.9 671.75,167.0 672.5,165.3 673.25,166.7 674,167.4 674.75,167.2 675.5,168.6 676.25,168.0 677,165.4 677.75,165.5 678.5,164.1 679.25,163.9 680,168.1 680.75,164.4 681.5,166.8 682.25,167.1 683,165.2 683.75,167.3 684.5,165.9 685.25,165.6 686,166.7 686.75,167.5 687.5,168.3 688.25,168.6 689,165.3 689.75,167.1 690.5,165.0 691.25,168.2 692,167.6 692.75,169.3 693.5,166.3 694.25,167.3 695,165.0 695.75,167.8 696.5,166.5 697.25,166.0 698,165.8 698.75,167.8 699.5,168.2 700.25,165.4" stroke="#b814d0"/>
<polyline points="5,220.4 5.75,220.0 6.5,221.6 7.25,221.9 8,219.3 8.75,222.4 9.5,219.9 10.25,221.9 11,220.9 11.75,222.0 12.5,219.4 13.25,221.3 14,222.1 14.75,219.9 15.5,220.7 16.25,220.3 17,221.1 17.75,219.6 18.5,220.5 19.25,222.7 20,223.6 20.75,223.1 21.5,221.1 22.25,221.4 23,222.5 23.75,221.9 24.5,221.8 25.25,220.0 26,219.3 26.75,222.9 27.5,219.5 28.25,221.3 29,221.0 29.75,222.6 30.5,223.0 31.25,220.2 32,219.9 32.75,221.4 33.5,222.3 34.25,221.4 35,223.7 35.75,220.4 36.5,220.4 37.25,222.3 38,223.9 38.75,221.8 39.5,222.4 40.25,222.7 41,220.7 41.75,221.7 42.5,223.9 43.25,220.8 44,222.3 44.75,219.5 45.5,221.0 46.25,221.4 47,222.8 47.75,219.9 48.5,222.7 49.25,222.3 50,221.1 50.75,221.0 51.5,220.3 52.25,220.1 53,222.9 53.75,221.1 54.5,219.8 55.25,221.3 56,222.7 56.75,221.6 57.5,222.2 58.25,221.1 59,220.6 59.75,221.9 60.5,219.7 61.25,221.0 62,222.0 62.75,222.5 63.5,222.5 64.25,223.0 65,220.9 65.75,223.4 66.5,221.2 67.25,222.0 68,221.3 68.75,222.8 69.5,222.3 70.25,223.4 71,222.9 71.75,222.3 72.5,222.5 73.25,223.7 74,220.6 74.75,220.1 75.5,219.4 76.25,219.4 77,218.5 77.75,213.9 78.5,207.9 79.25,204.9 80,197.9 80.75,191.9 81.5,186.5 82.25,185.4 83,187.9 83.75,188.4 84.5,195.5 85.25,203.8 86,208.8 86.75,211.3 87.5,216.7 88.25,218.3 89,216.2 89.75,217.2 90.5,217.0 91.25,212.5 92,212.1 92.75,209.7 93.5,204.8 94.25,197.5 95,191.2 95.75,185.8 96.5,180.0 97.25,174.4 98,171.7 98.75,172.5 99.5,175.2 100.25,178.1 101,181.2 101.75,185.2 102.5,189.9 103.25,196.1 104,198.4 104.75,204.5 105.5,205.8 106.25,210.6 107,214.9 107.75,214.6 108.5,214.6 109.25,217.5 110,219.1 110.75,217.2 111.5,221.0 112.25,221.3 113,222.0 113.75,218.6 114.5,220.1 115.25,219.2 116,219.2 116.75,223.0 117.5,221.6 118.25,220.8 119,219.2 119.75,222.6 120.5,221.5 121.25,220.9 122,220.5 122.75,219.6 123.5,221.2 124.25,220.4 125,222.4 125.75,222.7 126.5,223.7 127.25,221.2 128,222.4 128.75,221.1 129.5,221.0 130.25,223.2 131,224.2 131.75,223.7 132.5,221.0 133.25,222.7 134,224.0 134.75,220.7 135.5,221.0 136.25,222.2 137,219.1 137.75,219.4 138.5,219.3 139.25,211.6 140,208.3 140.75,204.5 141.5,195.4 142.25,192.8 143,189.6 143.75,188.0 144.5,187.6 145.25,193.7 146,198.9 146.75,205.2 147.5,212.3 148.25,212.9 149,217.9 149.75,219.4 150.5,216.0 151.25,216.5 152,216.4 152.75,213.6 153.5,210.8 154.25,206.6 155,202.4 155.75,198.1 156.5,189.7 157.25,184.8 158,177.7 158.75,175.0 159.5,172.5 160.25,174.4 161,176.8 161.75,176.2 162.5,182.2 163.25,186.7 164,189.8 164.75,195.1 165.5,202.0 166.25,203.7 167,209.7 167.75,211.4 168.5,211.7 169.25,216.2 170,217.5 170.75,217.3 171.5,220.5 172.25,220.7 173,219.4 173.75,222.3 174.5,222.0 175.25,222.7 176,221.6 176.75,222.4 177.5,220.4 178.25,221.8 179,220.8 179.75,221.0 180.5,220.5 181.25,220.4 182,223.2 182.75,222.8 183.5,221.1 184.25,224.0 185,223.3 185.75,223.7 186.5,219.8 187.25,220.1 188,220.1 188.75,222.2 189.5,221.7 190.25,223.5 191,223.9 191.75,222.7 192.5,223.4 193.25,223.0 194,224.1 194.75,223.1 195.5,221.6 196.25,222.9 197,223.9 197.75,221.5 198.5,219.5 199.25,217.2 200,215.2 200.75,212.1 201.5,205.9 202.25,198.8 203,194.1 203.75,188.7 204.5,184.7 205.25,183.6 206,187.4 206.75,193.2 207.5,201.3 208.25,205.5 209,211.5 209.75,217.1 210.5,218.4 211.25,218.2 212,218.1 212.75,218.7 213.5,214.2 214.25,212.2 215,208.4 215.75,204.7 216.5,202.5 217.25,192.7 218,187.6 218.75,180.4 219.5,177.7 220.25,173.8 221,174.6 221.75,173.9 222.5,177.2 223.25,179.3 224,182.9 224.75,188.0 225.5,192.7 226.25,200.4 227,204.7 227.75,207.7 228.5,208.7 229.25,215.1 230,216.7 230.75,216.6 231.5,217.3 232.25,218.1 233,217.9 233.75,220.9 234.5,219.0 235.25,222.9 236,221.7 236.75,222.0 237.5,222.3 238.25,221.2 239,222.6 239.75,223.2 240.5,223.6 241.25,220.9 242,220.5 242.75,222.6 243.5,221.9 244.25,223.3 245,222.3 245.75,224.3 246.5,220.4 247.25,223.8 248,223.9 248.75,222.6 249.5,221.8 250.25,221.1 251,220.5 251.75,220.3 252.5,222.3 253.25,223.7 254,221.9 254.75,220.7 255.5,222.3 256.25,220.7 257,222.3 257.75,222.9 258.5,222.9 259.25,221.3 260,218.9 260.75,217.7 261.5,215.3 262.25,210.1 263,205.8 263.75,196.6 264.5,193.3 265.25,190.4 266,188.7 266.75,186.2 267.5,188.7 268.25,195.4 269,201.8 269.75,208.7 270.5,213.5 271.25,217.1 272,219.2 272.75,218.0 273.5,216.8 274.25,218.1 275,215.0 275.75,210.0 276.5,207.0 277.25,205.0 278,197.8 278.75,190.5 279.5,187.0 280.25,181.6 281,175.0 281.75,173.3 282.5,173.0 283.25,175.7 284,177.6 284.75,180.4 285.5,184.3 286.25,189.8 287,193.3 287.75,198.4 288.5,205.9 289.25,209.6 290,209.9 290.75,216.0 291.5,216.5 292.25,219.7 293,218.4 293.75,219.6 294.5,221.2 295.25,222.5 296,223.3 296.75,220.5 297.5,220.8 298.25,220.3 299,222.1 299.75,220.1 300.5,223.7 301.25,220.8 302,223.7 302.75,222.1 303.5,224.1 304.25,223.1 305,221.8 305.75,224.3 306.5,221.8 307.25,224.3 308,223.4 308.75,221.4 309.5,221.6 310.25,224.6 311,222.9 311.75,220.9 312.5,224.1 313.25,222.6 314,223.5 314.75,222.0 315.5,222.4 316.25,222.0 317,222.1 317.75,222.7 318.5,224.5 319.25,222.5 320,222.3 320.75,222.7 321.5,221.8 322.25,217.1 323,213.1 323.75,207.6 324.5,203.7 325.25,194.0 326,192.4 326.75,188.3 327.5,184.5 328.25,185.9 329,190.2 329.75,197.0 330.5,204.6 331.25,209.9 332,215.6 332.75,215.4 333.5,219.4 334.25,217.4 335,217.0 335.75,217.6 336.5,214.1 337.25,212.4 338,205.5 338.75,204.1 339.5,198.9 340.25,190.7 341,184.8 341.75,177.8 342.5,176.8 343.25,172.3 344,172.5 344.75,176.0 345.5,178.7 346.25,181.4 347,188.4 347.75,194.5 348.5,198.6 349.25,201.1 350,208.2 350.75,210.2 351.5,213.7 352.25,214.1 353,217.6 353.75,217.1 354.5,218.0 355.25,222.3 356,219.1 356.75,222.3 357.5,223.3 358.25,221.6 359,223.2 359.75,221.2 360.5,222.2 361.25,221.8 362,221.9 362.75,223.2 363.5,221.2 364.25,222.0 365,221.1 365.75,224.3 366.5,221.5 367.25,223.8 368,222.8 368.75,223.1 369.5,224.1 370.25,222.9 371,221.6 371.75,222.5 372.5,224.5 373.25,221.6 374,222.8 374.75,221.5 375.5,224.3 376.25,221.8 377,222.6 377.75,221.2 378.5,222.8 379.25,221.9 380,222.6 380.75,225.0 381.5,223.3 382.25,224.2 383,221.9 383.75,224.2 384.5,223.3 385.25,223.7 386,223.3 386.75,219.5 387.5,220.0 388.25,219.1 389,216.2 389.75,215.0 390.5,216.1 391.25,214.6 392,216.1 392.75,219.8 393.5,218.0 394.25,218.6 395,219.2 395.75,219.1 396.5,216.4 397.25,211.2 398,207.4 398.75,205.7 399.5,208.7 400.25,210.4 401,214.5 401.75,215.7 402.5,214.7 403.25,213.8 404,216.9 404.75,216.0 405.5,214.1 406.25,214.1 407,217.3 407.75,218.2 408.5,215.8 409.25,216.6 410,215.7 410.75,217.3 411.5,218.2 412.25,221.0 413,217.8 413.75,219.8 414.5,220.5 415.25,222.8 416,220.6 416.75,222.0 417.5,221.6 418.25,223.5 419,225.4 419.75,223.2 420.5,225.7 421.25,223.8 422,225.4 422.75,221.7 423.5,224.2 424.25,223.8 425,223.6 425.75,221.7 426.5,222.0 427.25,224.2 428,223.1 428.75,223.9 429.5,224.9 430.25,222.0 431,222.3 431.75,225.0 432.5,224.0 433.25,225.4 434,221.7 434.75,222.9 435.5,223.9 436.25,223.2 437,225.9 437.75,223.8 438.5,224.2 439.25,224.0 440,223.4 440.75,223.4 441.5,223.4 442.25,222.8 443,225.2 443.75,225.0 444.5,223.3 445.25,224.6 446,221.0 446.75,223.4 447.5,221.3 448.25,219.7 449,220.6 449.75,216.3 450.5,215.4 451.25,216.2 452,214.9 452.75,216.1 453.5,216.9 454.25,218.7 455,221.0 455.75,219.9 456.5,221.7 457.25,220.0 458,212.9 458.75,207.1 459.5,206.8 460.25,208.7 461,210.5 461.75,211.0 462.5,214.0 463.25,214.0 464,213.6 464.75,213.1 465.5,215.6 466.25,214.8 467,215.4 467.75,214.3 468.5,217.6 469.25,215.3 470,215.4 470.75,219.1 471.5,215.7 472.25,219.1 473,218.0 473.75,220.8 474.5,219.0 475.25,220.5 476,221.0 476.75,222.0 477.5,224.3 478.25,224.5 479,222.8 479.75,225.0 480.5,225.1 481.25,223.8 482,224.6 482.75,223.3 483.5,224.9 484.25,225.1 485,224.6 485.75,224.6 486.5,222.5 487.25,222.0 488,224.4 488.75,224.6 489.5,222.6 490.25,224.8 491,224.1 491.75,223.7 492.5,224.0 493.25,223.4 494,222.8 494.75,223.8 495.5,222.9 496.25,222.1 497,226.1 497.75,224.8 498.5,221.9 499.25,225.2 500,223.3 500.75,224.4 501.5,223.4 502.25,223.8 503,222.5 503.75,224.6 504.5,222.6 505.25,222.3 506,222.9 506.75,224.8 507.5,221.8 508.25,224.0 509,223.4 509.75,222.8 510.5,220.8 511.25,217.5 512,215.7 512.75,218.4 513.5,215.1 514.25,215.4 515,217.6 515.75,219.5 516.5,217.6 517.25,220.8 518,219.7 518.75,218.3 519.5,212.0 520.25,206.8 521,204.3 521.75,207.6 522.5,210.9 523.25,211.4 524,214.2 524.75,216.6 525.5,215.1 526.25,216.7 527,217.5 527.75,215.9 528.5,215.7 529.25,215.8 530,214.5 530.75,215.3 531.5,216.6 532.25,216.8 533,217.1 533.75,220.1 534.5,217.5 535.25,220.3 536,219.6 536.75,222.9 537.5,221.2 538.25,221.6 539,221.9 539.75,222.0 540.5,225.6 541.25,223.2 542,223.4 542.75,223.6 543.5,223.4 544.25,225.7 545,224.1 545.75,224.9 546.5,224.6 547.25,222.0 548,223.2 548.75,223.1 549.5,225.5 550.25,226.0 551,225.9 551.75,225.6 552.5,225.2 553.25,222.4 554,226.1 554.75,225.7 555.5,223.1 556.25,222.2 557,225.2 557.75,223.4 558.5,226.6 559.25,222.5 560,223.7 560.75,224.0 561.5,222.1 562.25,224.3 563,225.9 563.75,224.8 564.5,225.1 565.25,224.1 566,224.4 566.75,222.2 567.5,225.4 568.25,222.2 569,221.3 569.75,223.3 570.5,220.9 571.25,219.2 572,218.9 572.75,219.2 573.5,215.8 574.25,215.6 575,218.2 575.75,218.4 576.5,217.8 577.25,221.4 578,218.8 578.75,220.0 579.5,221.0 580.25,218.1 581,211.6 581.75,208.3 582.5,208.2 583.25,211.2 584,215.3 584.75,216.4 585.5,215.6 586.25,214.1 587,214.2 587.75,216.1 588.5,215.7 589.25,216.8 590,219.2 590.75,216.0 591.5,217.7 592.25,219.5 593,216.4 593.75,216.6 594.5,219.1 595.25,217.2 596,220.9 596.75,221.7 597.5,220.6 598.25,221.6 599,223.4 599.75,222.1 600.5,222.7 601.25,224.9 602,226.0 602.75,224.7 603.5,226.0 604.25,223.4 605,224.4 605.75,224.5 606.5,225.5 607.25,226.6 608,224.5 608.75,225.0 609.5,226.2 610.25,222.5 611,226.1 611.75,225.4 612.5,226.0 613.25,225.5 614,224.2 614.75,224.0 615.5,225.6 616.25,223.4 617,223.3 617.75,222.4 618.5,224.0 619.25,225.9 620,226.3 620.75,224.9 621.5,224.1 622.25,224.1 623,224.9 623.75,225.6 624.5,225.9 625.25,226.8 626,223.6 626.75,225.4 627.5,224.7 628.25,224.9 629,225.2 629.75,224.9 630.5,222.5 631.25,216.9 632,214.9 632.75,208.7 633.5,201.9 634.25,195.3 635,190.5 635.75,185.5 636.5,187.0 637.25,186.4 638,193.7 638.75,199.1 639.5,206.4 640.25,212.2 641,216.4 641.75,219.2 642.5,218.9 643.25,221.6 644,219.3 644.75,219.1 645.5,215.5 646.25,210.5 647,207.1 647.75,203.9 648.5,199.7 649.25,193.0 650,184.1 650.75,181.5 651.5,175.5 652.25,176.5 653,174.6 653.75,179.0 654.5,182.4 655.25,184.3 656,191.8 656.75,194.3 657.5,201.3 658.25,206.6 659,208.0 659.75,213.6 660.5,214.7 661.25,217.7 662,217.1 662.75,222.2 663.5,219.2 664.25,220.1 665,224.3 665.75,220.9 666.5,221.5 667.25,224.3 668,225.1 668.75,225.3 669.5,222.8 670.25,224.3 671,225.6 671.75,222.7 672.5,225.7 673.25,225.3 674,223.6 674.75,225.2 675.5,225.4 676.25,224.3 677,223.6 677.75,224.7 678.5,223.8 679.25,226.7 680,226.0 680.75,225.6 681.5,223.9 682.25,226.6 683,224.2 683.75,222.9 684.5,226.3 685.25,226.5 686,226.4 686.75,223.2 687.5,226.0 688.25,223.5 689,226.3 689.75,223.0 690.5,223.8 691.25,225.5 692,226.0 692.75,225.8 693.5,225.3 694.25,225.8 695,226.0 695.75,225.1 696.5,224.6 697.25,223.6 698,226.1 698.75,226.4 699.5,227.2 700.25,224.7" stroke="#0c0c0c"/>
<polyline points="5,270.0 5.75,270.1 6.5,269.3 7.25,272.3 8,271.7 8.75,271.3 9.5,271.0 10.25,269.8 11,272.1 11.75,270.1 12.5,270.2 13.25,272.5 14,269.4 14.75,270.2 15.5,270.5 16.25,272.4 17,270.5 17.75,270.9 18.5,271.8 19.25,272.5 20,269.4 20.75,269.2 21.5,271.5 22.25,272.7 23,269.8 23.75,271.4 24.5,269.4 25.25,270.7 26,270.4 26.75,270.0 27.5,272.3 28.25,269.2 29,272.1 29.75,269.0 30.5,269.6 31.25,271.4 32,269.4 32.75,269.2 33.5,272.4 34.25,271.6 35,270.1 35.75,270.3 36.5,269.8 37.25,272.9 38,271.6 38.75,272.0 39.5,269.3 40.25,271.9 41,270.1 41.75,270.5 42.5,269.0 43.25,272.2 44,271.6 44.75,271.9 45.5,270.8 46.25,272.7 47,269.3 47.75,271.9 48.5,271.8 49.25,272.7 50,270.7 50.75,272.6 51.5,272.6 52.25,271.2 53,272.8 53.75,272.6 54.5,269.0 55.25,272.7 56,271.3 56.75,270.7 57.5,270.5 58.25,272.4 59,272.6 59.75,270.5 60.5,271.7 61.25,271.5 62,271.4 62.75,272.7 63.5,271.5 64.25,270.7 65,270.3 65.75,272.3 66.5,272.6 67.25,269.8 68,270.5 68.75,269.7 69.5,272.2 70.25,269.5 71,272.5 71.75,271.7 72.5,272.1 73.25,269.8 74,270.5 74.75,271.7 75.5,268.5 76.25,267.8 77,268.4 77.75,265.5 78.5,260.9 79.25,256.1 80,247.9 80.75,241.8 81.5,238.6 82.25,239.5 83,236.6 83.75,241.8 84.5,246.6 85.25,250.5 86,256.1 86.75,261.1 87.5,263.3 88.25,264.7 89,267.2 89.75,267.6 90.5,267.4 91.25,265.2 92,260.0 92.75,259.3 93.5,252.4 94.25,248.5 95,245.2 95.75,239.4 96.5,232.4 97.25,228.8 98,228.0 98.75,227.2 99.5,228.9 100.25,228.3 101,233.4 101.75,236.1 102.5,243.2 103.25,244.5 104,252.5 104.75,255.0 105.5,258.9 106.25,261.1 107,263.0 107.75,265.7 108.5,266.4 109.25,269.0 110,267.7 110.75,266.9 111.5,270.4 112.25,270.3 113,269.7 113.75,269.2 114.5,268.5 115.25,269.0 116,270.7 116.75,272.0 117.5,272.3 118.25,269.3 119,269.3 119.75,272.2 120.5,272.3 121.25,272.1 122,269.7 122.75,272.4 123.5,269.6 124.25,270.8 125,272.8 125.75,269.7 126.5,269.4 127.25,269.6 128,271.9 128.75,270.7 129.5,271.7 130.25,272.7 131,271.7 131.75,273.1 132.5,269.2 133.25,269.9 134,270.8 134.75,270.0 135.5,273.0 136.25,270.8 137,270.0 137.75,269.5 138.5,266.1 139.25,261.2 140,259.9 140.75,253.7 141.5,246.9 142.25,240.0 143,238.7 143.75,238.0 144.5,236.8 145.25,242.1 146,246.7 146.75,253.2 147.5,260.0 148.25,262.7 149,263.8 149.75,268.3 150.5,269.2 151.25,267.9 152,264.0 152.75,265.1 153.5,260.3 154.25,257.3 155,252.2 155.75,249.8 156.5,241.9 157.25,235.9 158,231.7 158.75,228.2 159.5,228.5 160.25,230.1 161,231.1 161.75,231.5 162.5,237.7 163.25,242.0 164,246.1 164.75,247.2 165.5,252.4 166.25,254.9 167,258.5 167.75,262.5 168.5,263.1 169.25,265.5 170,268.4 170.75,267.1 171.5,267.7 172.25,269.9 173,268.1 173.75,271.4 174.5,269.8 175.25,271.5 176,269.9 176.75,270.5 177.5,270.7 178.25,269.6 179,270.3 179.75,272.2 180.5,270.8 181.25,272.0 182,270.8 182.75,270.1 183.5,269.5 184.25,269.9 185,270.1 185.75,269.1 186.5,273.0 187.25,271.8 188,273.0 188.75,271.3 189.5,269.5 190.25,272.9 191,272.8 191.75,271.6 192.5,269.9 193.25,270.3 194,270.2 194.75,273.6 195.5,272.0 196.25,270.9 197,271.3 197.75,272.6 198.5,269.1 199.25,266.3 200,266.1 200.75,260.9 201.5,255.5 202.25,252.1 203,246.8 203.75,240.6 204.5,240.2 205.25,236.8 206,240.9 206.75,246.1 207.5,250.4 208.25,258.8 209,261.1 209.75,263.5 210.5,265.8 211.25,269.1 212,268.4 212.75,266.7 213.5,265.8 214.25,263.6 215,261.8 215.75,257.6 216.5,251.5 217.25,247.3 218,238.0 218.75,235.4 219.5,231.7 220.25,229.2 221,227.8 221.75,228.7 222.5,228.2 223.25,231.9 224,236.1 224.75,242.4 225.5,247.1 226.25,249.8 227,253.3 227.75,258.7 228.5,261.5 229.25,262.7 230,263.4 230.75,266.7 231.5,267.1 232.25,266.7 233,268.0 233.75,270.2 234.5,272.3 235.25,271.0 236,269.5 236.75,271.8 237.5,271.5 238.25,269.0 239,270.6 239.75,272.9 240.5,272.3 241.25,271.0 242,273.3 242.75,270.0 243.5,269.4 244.25,270.3 245,270.9 245.75,271.9 246.5,270.1 247.25,269.8 248,271.1 248.75,272.4 249.5,272.5 250.25,272.1 251,270.0 251.75,272.7 252.5,272.8 253.25,271.6 254,272.9 254.75,273.3 255.5,271.0 256.25,270.9 257,271.7 257.75,270.6 258.5,271.7 259.25,272.1 260,269.1 260.75,267.8 261.5,266.5 262.25,259.3 263,253.7 263.75,249.1 264.5,242.9 265.25,239.6 266,238.3 266.75,237.4 267.5,244.1 268.25,245.8 269,252.0 269.75,260.3 270.5,263.7 271.25,265.1 272,266.4 272.75,269.3 273.5,267.2 274.25,268.6 275,264.6 275.75,262.0 276.5,260.4 277.25,254.2 278,249.0 278.75,246.0 279.5,240.0 280.25,235.5 281,228.9 281.75,228.8 282.5,227.9 283.25,227.4 284,232.5 284.75,236.0 285.5,238.0 286.25,243.8 287,247.5 287.75,253.4 288.5,255.8 289.25,257.6 290,263.5 290.75,263.7 291.5,265.2 292.25,267.2 293,270.1 293.75,267.1 294.5,269.6 295.25,269.5 296,269.4 296.75,270.0 297.5,270.9 298.25,272.0 299,269.5 299.75,272.6 300.5,271.0 301.25,272.8 302,273.1 302.75,271.2 303.5,273.4 304.25,271.1 305,271.7 305.75,271.3 306.5,271.9 307.25,273.2 308,270.8 308.75,273.7 309.5,270.5 310.25,273.9 311,271.1 311.75,271.5 312.5,270.7 313.25,270.9 314,270.8 314.75,271.8 315.5,270.9 316.25,273.0 317,270.9 317.75,272.0 318.5,273.3 319.25,272.6 320,270.4 320.75,269.7 321.5,270.2 322.25,269.0 323,262.2 323.75,258.9 324.5,253.6 325.25,247.3 326,241.0 326.75,237.6 327.5,237.0 328.25,237.3 329,241.0 329.75,246.9 330.5,254.7 331.25,261.9 332,262.3 332.75,268.8 333.5,266.7 334.25,269.9 335,269.0 335.75,267.2 336.5,266.2 337.25,260.8 338,260.2 338.75,253.2 339.5,249.8 340.25,243.6 341,236.5 341.75,232.0 342.5,228.8 343.25,229.4 344,228.5 344.75,229.9 345.5,230.9 346.25,237.5 347,238.6 347.75,243.2 348.5,247.5 349.25,252.1 350,258.0 350.75,262.0 351.5,263.5 352.25,264.5 353,264.9 353.75,266.9 354.5,268.5 355.25,270.1 356,271.5 356.75,272.3 357.5,272.0 358.25,269.5 359,272.8 359.75,273.2 360.5,271.7 361.25,271.4 362,270.8 362.75,273.6 363.5,273.1 364.25,270.4 365,273.9 365.75,272.8 366.5,274.1 367.25,271.2 368,273.1 368.75,273.1 369.5,274.0 370.25,271.0 371,273.7 371.75,271.5 372.5,271.4 373.25,272.2 374,271.2 374.75,274.2 375.5,271.1 376.25,273.7 377,272.4 377.75,271.0 378.5,273.5 379.25,274.0 380,272.3 380.75,274.4 381.5,274.0 382.25,274.4 383,272.1 383.75,271.4 384.5,269.8 385.25,270.3 386,272.1 386.75,268.4 387.5,270.1 388.25,267.3 389,267.3 389.75,263.0 390.5,265.4 391.25,264.9 392,267.2 392.75,266.9 393.5,268.7 394.25,267.8 395,267.9 395.75,266.3 396.5,264.3 397.25,260.8 398,257.4 398.75,256.7 399.5,259.5 400.25,261.7 401,261.6 401.75,260.7 402.5,260.2 403.25,260.8 404,262.3 404.75,264.5 405.5,262.3 406.25,261.8 407,262.7 407.75,265.1 408.5,263.8 409.25,265.2 410,266.9 410.75,264.1 411.5,267.8 412.25,264.5 413,267.3 413.75,267.9 414.5,268.1 415.25,268.9 416,271.3 416.75,272.6 417.5,271.9 418.25,272.0 419,274.3 419.75,274.1 420.5,272.8 421.25,274.8 422,271.4 422.75,274.6 423.5,273.7 424.25,275.1 425,273.9 425.75,272.8 426.5,274.6 427.25,274.1 428,273.5 428.75,274.1 429.5,272.9 430.25,271.8 431,271.3 431.75,273.6 432.5,271.2 433.25,274.7 434,274.9 434.75,273.6 435.5,272.6 436.25,271.7 437,273.3 437.75,271.9 438.5,271.8 439.25,273.5 440,275.0 440.75,272.3 441.5,273.3 442.25,273.0 443,273.6 443.75,273.7 444.5,272.9 445.25,270.9 446,272.5 446.75,272.9 447.5,270.3 448.25,271.4 449,270.0 449.75,268.4 450.5,264.5 451.25,264.9 452,266.7 452.75,263.9 453.5,265.3 454.25,268.1 455,269.6 455.75,267.5 456.5,269.4 457.25,265.7 458,265.2 458.75,257.5 459.5,257.3 460.25,256.0 461,258.1 461.75,260.6 462.5,262.0 463.25,262.1 464,261.5 464.75,263.5 465.5,264.6 466.25,264.9 467,265.1 467.75,265.1 468.5,265.7 469.25,264.8 470,262.9 470.75,265.6 471.5,265.6 472.25,267.8 473,266.9 473.75,268.4 474.5,267.6 475.25,269.5 476,270.3 476.75,271.1 477.5,270.5 478.25,274.9 479,273.6 479.75,271.9 480.5,273.1 481.25,272.2 482,272.9 482.75,272.3 483.5,272.2 484.25,274.1 485,272.1 485.75,273.3 486.5,272.3 487.25,274.4 488,272.4 488.75,272.3 489.5,273.8 490.25,271.7 491,275.2 491.75,274.2 492.5,273.1 493.25,272.7 494,272.5 494.75,271.4 495.5,274.9 496.25,273.4 497,273.2 497.75,272.9 498.5,272.2 499.25,274.4 500,273.9 500.75,274.6 501.5,272.4 502.25,274.3 503,275.0 503.75,274.6 504.5,271.3 505.25,273.3 506,272.9 506.75,274.3 507.5,272.7 508.25,270.6 509,272.7 509.75,270.8 510.5,267.6 511.25,269.2 512,266.3 512.75,266.0 513.5,267.2 514.25,264.4 515,266.2 515.75,269.3 516.5,270.5 517.25,269.2 518,268.5 518.75,266.2 519.5,264.0 520.25,258.3 521,257.4 521.75,259.5 522.5,258.9 523.25,262.3 524,264.0 524.75,262.6 525.5,262.2 526.25,261.9 527,262.4 527.75,264.7 528.5,264.3 529.25,264.5 530,264.2 530.75,265.8 531.5,263.4 532.25,264.7 533,265.0 533.75,266.4 534.5,267.8 535.25,269.6 536,267.0 536.75,268.5 537.5,269.5 538.25,273.6 539,274.3 539.75,272.2 540.5,274.9 541.25,273.5 542,272.7 542.75,273.6 543.5,274.8 544.25,275.9 545,272.5 545.75,273.0 546.5,272.6 547.25,274.5 548,272.2 548.75,272.1 549.5,274.5 550.25,274.0 551,274.5 551.75,275.4 552.5,273.2 553.25,274.2 554,271.7 554.75,273.9 555.5,274.6 556.25,272.5 557,274.5 557.75,273.4 558.5,275.1 559.25,272.8 560,273.9 560.75,272.6 561.5,272.3 562.25,272.4 563,274.8 563.75,275.7 564.5,272.6 565.25,272.0 566,273.3 566.75,275.1 567.5,274.0 568.25,271.4 569,270.8 569.75,273.1 570.5,272.0 571.25,268.3 572,266.5 572.75,267.9 573.5,267.2 574.25,266.8 575,267.3 575.75,266.4 576.5,267.7 577.25,268.2 578,270.0 578.75,271.4 579.5,269.4 580.25,264.8 581,260.9 581.75,255.5 582.5,256.6 583.25,258.7 584,262.6 584.75,260.4 585.5,263.2 586.25,261.5 587,262.3 587.75,265.0 588.5,263.7 589.25,263.6 590,265.9 590.75,264.7 591.5,265.2 592.25,263.9 593,267.2 593.75,268.3 594.5,267.4 595.25,267.0 596,268.0 596.75,270.0 597.5,270.6 598.25,269.6 599,271.5 599.75,271.8 600.5,271.7 601.25,272.8 602,274.6 602.75,273.2 603.5,275.6 604.25,272.8 605,275.2 605.75,274.3 606.5,275.4 607.25,275.0 608,273.7 608.75,275.1 609.5,275.3 610.25,272.7 611,272.3 611.75,276.1 612.5,274.8 613.25,272.6 614,272.8 614.75,272.8 615.5,273.4 616.25,272.9 617,274.9 617.75,274.2 618.5,273.5 619.25,275.2 620,275.0 620.75,272.8 621.5,275.0 622.25,273.3 623,274.4 623.75,272.5 624.5,274.7 625.25,272.4 626,273.1 626.75,275.3 627.5,275.3 628.25,274.8 629,273.2 629.75,273.8 630.5,272.9 631.25,268.6 632,264.4 632.75,259.3 633.5,251.7 634.25,244.2 635,239.0 635.75,236.5 636.5,234.6 637.25,238.3 638,243.5 638.75,250.4 639.5,254.7 640.25,263.5 641,264.9 641.75,269.9 642.5,270.5 643.25,269.5 644,270.5 644.75,267.1 645.5,263.9 646.25,264.6 647,258.6 647.75,254.2 648.5,252.3 649.25,245.9 650,238.4 650.75,235.2 651.5,231.7 652.25,232.3 653,232.9 653.75,234.1 654.5,237.5 655.25,241.7 656,243.0 656.75,248.8 657.5,254.2 658.25,257.5 659,260.1 659.75,264.7 660.5,263.7 661.25,266.5 662,269.9 662.75,271.1 663.5,272.0 664.25,270.2 665,273.7 665.75,271.1 666.5,272.2 667.25,271.7 668,274.5 668.75,272.1 669.5,272.2 670.25,275.2 671,272.9 671.75,275.1 672.5,275.0 673.25,272.5 674,274.2 674.75,273.6 675.5,272.8 676.25,272.9 677,275.3 677.75,275.4 678.5,275.8 679.25,275.0 680,274.9 680.75,274.7 681.5,273.9 682.25,273.4 683,272.5 683.75,274.4 684.5,275.6 685.25,276.2 686,275.4 686.75,272.8 687.5,273.8 688.25,275.4 689,276.2 689.75,274.0 690.5,274.1 691.25,273.4 692,275.9 692.75,276.0 693.5,273.1 694.25,274.0 695,276.0 695.75,275.6 696.5,272.7 697.25,274.0 698,275.6 698.75,275.8 699.5,274.8 700.25,274.6" stroke="#4f7a78"/>
</g>
<g fill="none"><path d="M369.15,103.05H68.7" stroke="#7294d2" stroke-width="1.9"/><path d="M368.15,102.1V377.8" stroke="#7294d2" stroke-width="2"/><path d="M69.4,102.1V377.8" stroke="#4a7ad0" stroke-width="1.4"/><path d="M68.7,377.15H369.15" stroke="#4a7ad0" stroke-width="1.3"/></g>
<rect x="374.85" y="129.95" width="238.3" height="247.05" fill="none" stroke="#d4202a" stroke-width="1.85"/>
<rect x="5" y="383.2" width="695.5" height="6.6" fill="#595959"/>
<g class="ax" clip-path="url(#c)">
<line x1="19.5" y1="378" x2="19.5" y2="383.2" stroke="#555" stroke-width="0.95"/>
<line x1="35.6" y1="378" x2="35.6" y2="383.2" stroke="#555" stroke-width="0.95"/>
<line x1="51.6" y1="378" x2="51.6" y2="383.2" stroke="#555" stroke-width="0.95"/>
<line x1="67.7" y1="377.8" x2="67.7" y2="392.3" stroke="#2a2a2a" stroke-width="0.95"/>
<line x1="83.8" y1="378" x2="83.8" y2="383.2" stroke="#555" stroke-width="0.95"/>
<line x1="99.8" y1="378" x2="99.8" y2="383.2" stroke="#555" stroke-width="0.95"/>
<line x1="115.9" y1="378" x2="115.9" y2="383.2" stroke="#555" stroke-width="0.95"/>
<line x1="132.0" y1="378" x2="132.0" y2="383.2" stroke="#555" stroke-width="0.95"/>
<line x1="148.0" y1="377.8" x2="148.0" y2="392.3" stroke="#2a2a2a" stroke-width="0.95"/>
<line x1="164.1" y1="378" x2="164.1" y2="383.2" stroke="#555" stroke-width="0.95"/>
<line x1="180.1" y1="378" x2="180.1" y2="383.2" stroke="#555" stroke-width="0.95"/>
<line x1="196.2" y1="378" x2="196.2" y2="383.2" stroke="#555" stroke-width="0.95"/>
<line x1="212.3" y1="378" x2="212.3" y2="383.2" stroke="#555" stroke-width="0.95"/>
<line x1="228.3" y1="377.8" x2="228.3" y2="392.3" stroke="#2a2a2a" stroke-width="0.95"/>
<line x1="244.4" y1="378" x2="244.4" y2="383.2" stroke="#555" stroke-width="0.95"/>
<line x1="260.5" y1="378" x2="260.5" y2="383.2" stroke="#555" stroke-width="0.95"/>
<line x1="276.5" y1="378" x2="276.5" y2="383.2" stroke="#555" stroke-width="0.95"/>
<line x1="292.6" y1="378" x2="292.6" y2="383.2" stroke="#555" stroke-width="0.95"/>
<line x1="308.6" y1="377.8" x2="308.6" y2="392.3" stroke="#2a2a2a" stroke-width="0.95"/>
<line x1="324.7" y1="378" x2="324.7" y2="383.2" stroke="#555" stroke-width="0.95"/>
<line x1="340.8" y1="378" x2="340.8" y2="383.2" stroke="#555" stroke-width="0.95"/>
<line x1="356.8" y1="378" x2="356.8" y2="383.2" stroke="#555" stroke-width="0.95"/>
<line x1="372.9" y1="378" x2="372.9" y2="383.2" stroke="#555" stroke-width="0.95"/>
<line x1="389.0" y1="377.8" x2="389.0" y2="392.3" stroke="#2a2a2a" stroke-width="0.95"/>
<line x1="405.0" y1="378" x2="405.0" y2="383.2" stroke="#555" stroke-width="0.95"/>
<line x1="421.1" y1="378" x2="421.1" y2="383.2" stroke="#555" stroke-width="0.95"/>
<line x1="437.1" y1="378" x2="437.1" y2="383.2" stroke="#555" stroke-width="0.95"/>
<line x1="453.2" y1="378" x2="453.2" y2="383.2" stroke="#555" stroke-width="0.95"/>
<line x1="469.3" y1="377.8" x2="469.3" y2="392.3" stroke="#2a2a2a" stroke-width="0.95"/>
<line x1="485.3" y1="378" x2="485.3" y2="383.2" stroke="#555" stroke-width="0.95"/>
<line x1="501.4" y1="378" x2="501.4" y2="383.2" stroke="#555" stroke-width="0.95"/>
<line x1="517.5" y1="378" x2="517.5" y2="383.2" stroke="#555" stroke-width="0.95"/>
<line x1="533.5" y1="378" x2="533.5" y2="383.2" stroke="#555" stroke-width="0.95"/>
<line x1="549.6" y1="377.8" x2="549.6" y2="392.3" stroke="#2a2a2a" stroke-width="0.95"/>
<line x1="565.7" y1="378" x2="565.7" y2="383.2" stroke="#555" stroke-width="0.95"/>
<line x1="581.7" y1="378" x2="581.7" y2="383.2" stroke="#555" stroke-width="0.95"/>
<line x1="597.8" y1="378" x2="597.8" y2="383.2" stroke="#555" stroke-width="0.95"/>
<line x1="613.8" y1="378" x2="613.8" y2="383.2" stroke="#555" stroke-width="0.95"/>
<line x1="629.9" y1="377.8" x2="629.9" y2="392.3" stroke="#2a2a2a" stroke-width="0.95"/>
<line x1="646.0" y1="378" x2="646.0" y2="383.2" stroke="#555" stroke-width="0.95"/>
<line x1="662.0" y1="378" x2="662.0" y2="383.2" stroke="#555" stroke-width="0.95"/>
<line x1="678.1" y1="378" x2="678.1" y2="383.2" stroke="#555" stroke-width="0.95"/>
<line x1="694.2" y1="378" x2="694.2" y2="383.2" stroke="#555" stroke-width="0.95"/>
<text x="67.7" y="405" text-anchor="middle">50</text>
<text x="148.0" y="405" text-anchor="middle">100</text>
<text x="228.3" y="405" text-anchor="middle">150</text>
<text x="308.6" y="405" text-anchor="middle">200</text>
<text x="389.0" y="405" text-anchor="middle">250</text>
<text x="469.3" y="405" text-anchor="middle">300</text>
<text x="549.6" y="405" text-anchor="middle">350</text>
<text x="629.9" y="405" text-anchor="middle">400</text>
<text x="377.9" y="417.2" text-anchor="middle" style="font-size:11.25px">Time (Seconds)</text>
</g>
</svg>
</body>
</html>
